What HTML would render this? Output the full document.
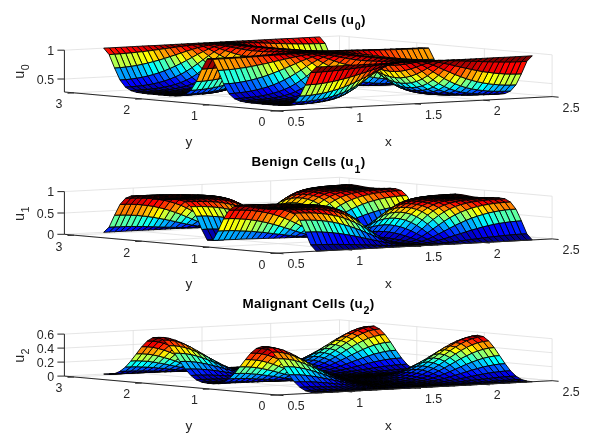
<!DOCTYPE html>
<html><head><meta charset="utf-8"><title>Cells</title>
<style>
html,body{margin:0;padding:0;background:#fff}
svg{display:block;font-family:"Liberation Sans",sans-serif}
path{stroke:#000;stroke-width:0.9px;stroke-linejoin:round}
.g{stroke:#dedede;stroke-width:.8px}
.a{stroke:#262626;stroke-width:1px}
.t{font-size:12.4px;fill:#262626}
.l{font-size:13.6px;fill:#262626}
.h{font-size:13.4px;font-weight:bold;fill:#000;letter-spacing:0.33px}
.c0{fill:#00008f}
.c1{fill:#00009f}
.c2{fill:#0000af}
.c3{fill:#0000bf}
.c4{fill:#0000cf}
.c5{fill:#0000df}
.c6{fill:#0000ef}
.c7{fill:#0000ff}
.c8{fill:#0010ff}
.c9{fill:#0020ff}
.c10{fill:#0030ff}
.c11{fill:#0040ff}
.c12{fill:#0050ff}
.c13{fill:#0060ff}
.c14{fill:#0070ff}
.c15{fill:#0080ff}
.c16{fill:#008fff}
.c17{fill:#009fff}
.c18{fill:#00afff}
.c19{fill:#00bfff}
.c20{fill:#00cfff}
.c21{fill:#00dfff}
.c22{fill:#00efff}
.c23{fill:#00ffff}
.c24{fill:#10ffef}
.c25{fill:#20ffdf}
.c26{fill:#30ffcf}
.c27{fill:#40ffbf}
.c28{fill:#50ffaf}
.c29{fill:#60ff9f}
.c30{fill:#70ff8f}
.c31{fill:#80ff80}
.c32{fill:#8fff70}
.c33{fill:#9fff60}
.c34{fill:#afff50}
.c35{fill:#bfff40}
.c36{fill:#cfff30}
.c37{fill:#dfff20}
.c38{fill:#efff10}
.c39{fill:#ffff00}
.c40{fill:#ffef00}
.c41{fill:#ffdf00}
.c42{fill:#ffcf00}
.c43{fill:#ffbf00}
.c44{fill:#ffaf00}
.c45{fill:#ff9f00}
.c46{fill:#ff8f00}
.c47{fill:#ff8000}
.c48{fill:#ff7000}
.c49{fill:#ff6000}
.c50{fill:#ff5000}
.c51{fill:#ff4000}
.c52{fill:#ff3000}
.c53{fill:#ff2000}
.c54{fill:#ff1000}
.c55{fill:#ff0000}
.c56{fill:#ef0000}
.c57{fill:#df0000}
.c58{fill:#cf0000}
.c59{fill:#bf0000}
.c60{fill:#af0000}
.c61{fill:#9f0000}
.c62{fill:#8f0000}
.c63{fill:#800000}
</style></head><body>
<svg width="611" height="444" viewBox="0 0 611 444">
<defs><filter id="b" x="-2%" y="-10%" width="104%" height="120%"><feGaussianBlur stdDeviation="0.35"/></filter><filter id="t" x="-5%" y="-5%" width="110%" height="110%"><feGaussianBlur stdDeviation="0.28"/></filter></defs>
<rect width="611" height="444" fill="#fff"/>
<g>
<line class="g" x1="64.4" y1="79.0" x2="339.5" y2="64.7"/>
<line class="g" x1="339.5" y1="64.7" x2="552.1" y2="83.6"/>
<line class="g" x1="64.4" y1="50.2" x2="339.5" y2="35.9"/>
<line class="g" x1="339.5" y1="35.9" x2="552.1" y2="54.8"/>
<line class="g" x1="277.0" y1="110.9" x2="64.4" y2="92.0"/>
<line class="g" x1="64.4" y1="92.0" x2="64.4" y2="50.2"/>
<line class="g" x1="345.8" y1="107.3" x2="133.2" y2="88.4"/>
<line class="g" x1="133.2" y1="88.4" x2="133.2" y2="46.6"/>
<line class="g" x1="414.6" y1="103.8" x2="202.0" y2="84.9"/>
<line class="g" x1="202.0" y1="84.9" x2="202.0" y2="43.0"/>
<line class="g" x1="483.3" y1="100.2" x2="270.7" y2="81.3"/>
<line class="g" x1="270.7" y1="81.3" x2="270.7" y2="39.5"/>
<line class="g" x1="552.1" y1="96.6" x2="339.5" y2="77.7"/>
<line class="g" x1="339.5" y1="77.7" x2="339.5" y2="35.9"/>
<line class="g" x1="277.0" y1="110.9" x2="552.1" y2="96.6"/>
<line class="g" x1="552.1" y1="96.6" x2="552.1" y2="54.8"/>
<line class="g" x1="209.3" y1="104.9" x2="484.4" y2="90.6"/>
<line class="g" x1="484.4" y1="90.6" x2="484.4" y2="48.8"/>
<line class="g" x1="141.7" y1="98.9" x2="416.8" y2="84.6"/>
<line class="g" x1="416.8" y1="84.6" x2="416.8" y2="42.8"/>
<line class="g" x1="74.0" y1="92.9" x2="349.1" y2="78.6"/>
<line class="g" x1="349.1" y1="78.6" x2="349.1" y2="36.7"/>
</g>
<g filter="url(#b)">
<path class="c54" d="M319.6 43.6l5.6-.2-5.5-6.5-5.5 .3z"/>
<path class="c55" d="M314.1 43.8l5.5-.2-5.4-6.4-5.6 .3z"/>
<path class="c55" d="M308.6 43.9l5.5-.1-5.5-6.3-5.5 .3z"/>
<path class="c55" d="M303 44l5.6-.1-5.5-6.1-5.5 .3z"/>
<path class="c56" d="M297.5 44l5.5 0-5.4-5.9-5.6 .3z"/>
<path class="c56" d="M291.9 43.9l5.6 .1-5.5-5.6-5.5 .2z"/>
<path class="c57" d="M286.4 43.8l5.5 .1-5.4-5.3-5.6 .3z"/>
<path class="c57" d="M280.9 43.6l5.5 .2-5.5-4.9-5.5 .3z"/>
<path class="c58" d="M275.3 43.5l5.6 .1-5.5-4.4-5.5 .3z"/>
<path class="c59" d="M269.8 43.3l5.5 .2-5.4-4-5.6 .3z"/>
<path class="c60" d="M264.2 43.1l5.6 .2-5.5-3.5-5.5 .3z"/>
<path class="c60" d="M258.7 42.9l5.5 .2-5.4-3-5.6 .3z"/>
<path class="c61" d="M253.2 42.7l5.5 .2-5.5-2.5-5.5 .3z"/>
<path class="c62" d="M247.6 42.6l5.6 .1-5.5-2-5.5 .2z"/>
<path class="c62" d="M242.1 42.5l5.5 .1-5.4-1.7-5.6 .3z"/>
<path class="c63" d="M236.5 42.5l5.6 0-5.5-1.3-5.5 .3z"/>
<path class="c63" d="M231 42.5l5.5 0-5.4-1-5.6 .3z"/>
<path class="c63" d="M225.5 42.7l5.5-.2-5.5-.7-5.5 .3z"/>
<path class="c63" d="M219.9 42.9l5.6-.2-5.5-.6-5.5 .3z"/>
<path class="c63" d="M214.4 43.2l5.5-.3-5.4-.5-5.6 .3z"/>
<path class="c63" d="M208.8 43.5l5.6-.3-5.5-.5-5.5 .3z"/>
<path class="c63" d="M203.3 44l5.5-.5-5.4-.5-5.6 .2z"/>
<path class="c63" d="M197.8 44.5l5.5-.5-5.5-.8-5.5 .3z"/>
<path class="c62" d="M192.2 45.1l5.6-.6-5.5-1-5.5 .3z"/>
<path class="c62" d="M186.7 45.8l5.5-.7-5.4-1.3-5.6 .3z"/>
<path class="c61" d="M181.1 46.5l5.6-.7-5.5-1.7-5.5 .3z"/>
<path class="c60" d="M175.6 47.2l5.5-.7-5.4-2.1-5.6 .3z"/>
<path class="c60" d="M170.1 48l5.5-.8-5.5-2.5-5.5 .3z"/>
<path class="c59" d="M164.5 48.7l5.6-.7-5.5-3-5.5 .3z"/>
<path class="c58" d="M159 49.5l5.5-.8-5.4-3.4-5.6 .3z"/>
<path class="c57" d="M153.4 50.3l5.6-.8-5.5-3.9-5.5 .2z"/>
<path class="c57" d="M147.9 51l5.5-.7-5.4-4.5-5.6 .3z"/>
<path class="c56" d="M142.4 51.7l5.5-.7-5.5-4.9-5.5 .3z"/>
<path class="c56" d="M136.8 52.3l5.6-.6-5.5-5.3-5.5 .3z"/>
<path class="c55" d="M131.3 52.9l5.5-.6-5.4-5.6-5.6 .3z"/>
<path class="c55" d="M125.7 53.4l5.6-.5-5.5-5.9-5.5 .3z"/>
<path class="c55" d="M120.2 53.9l5.5-.5-5.4-6.1-5.6 .3z"/>
<path class="c54" d="M114.7 54.3l5.5-.4-5.5-6.3-5.5 .3z"/>
<path class="c54" d="M109.1 54.6l5.6-.3-5.5-6.4-5.5 .2z"/>
<path class="c35" d="M325.1 57l5.5-.2-5.4-13.4-5.6 .2z"/>
<path class="c35" d="M319.5 57.1l5.6-.1-5.5-13.4-5.5 .2z"/>
<path class="c36" d="M314 56.9l5.5 .2-5.4-13.3-5.5 .1z"/>
<path class="c37" d="M308.5 56.6l5.5 .3-5.4-13-5.6 .1z"/>
<path class="c38" d="M302.9 56l5.6 .6-5.5-12.6-5.5 0z"/>
<path class="c39" d="M297.4 55.4l5.5 .6-5.4-12-5.6-.1z"/>
<path class="c41" d="M291.8 54.5l5.6 .9-5.5-11.5-5.5-.1z"/>
<path class="c43" d="M286.3 53.6l5.5 .9-5.4-10.7-5.5-.2z"/>
<path class="c45" d="M280.8 52.5l5.5 1.1-5.4-10-5.6-.1z"/>
<path class="c47" d="M275.2 51.3l5.6 1.2-5.5-9-5.5-.2z"/>
<path class="c50" d="M269.7 50l5.5 1.3-5.4-8-5.6-.2z"/>
<path class="c52" d="M264.1 48.7l5.6 1.3-5.5-6.9-5.5-.2z"/>
<path class="c55" d="M258.6 47.5l5.5 1.2-5.4-5.8-5.5-.2z"/>
<path class="c57" d="M253.1 46.3l5.5 1.2-5.4-4.8-5.6-.1z"/>
<path class="c59" d="M247.5 45.3l5.6 1-5.5-3.7-5.5-.1z"/>
<path class="c61" d="M242 44.4l5.5 .9-5.4-2.8-5.6 0z"/>
<path class="c62" d="M236.4 43.8l5.6 .6-5.5-1.9-5.5 0z"/>
<path class="c63" d="M230.9 43.4l5.5 .4-5.4-1.3-5.5 .2z"/>
<path class="c63" d="M225.4 43.4l5.5 0-5.4-.7-5.6 .2z"/>
<path class="c63" d="M219.8 43.7l5.6-.3-5.5-.5-5.5 .3z"/>
<path class="c63" d="M214.3 44.3l5.5-.6-5.4-.5-5.6 .3z"/>
<path class="c62" d="M208.7 45.2l5.6-.9-5.5-.8-5.5 .5z"/>
<path class="c61" d="M203.2 46.4l5.5-1.2-5.4-1.2-5.5 .5z"/>
<path class="c59" d="M197.7 47.8l5.5-1.4-5.4-1.9-5.6 .6z"/>
<path class="c57" d="M192.1 49.5l5.6-1.7-5.5-2.7-5.5 .7z"/>
<path class="c55" d="M186.6 51.2l5.5-1.7-5.4-3.7-5.6 .7z"/>
<path class="c52" d="M181 53.1l5.6-1.9-5.5-4.7-5.5 .7z"/>
<path class="c50" d="M175.5 54.9l5.5-1.8-5.4-5.9-5.5 .8z"/>
<path class="c47" d="M170 56.7l5.5-1.8-5.4-6.9-5.6 .7z"/>
<path class="c45" d="M164.4 58.5l5.6-1.8-5.5-8-5.5 .8z"/>
<path class="c43" d="M158.9 60.2l5.5-1.7-5.4-9-5.6 .8z"/>
<path class="c41" d="M153.3 61.7l5.6-1.5-5.5-9.9-5.5 .7z"/>
<path class="c39" d="M147.8 63.1l5.5-1.4-5.4-10.7-5.5 .7z"/>
<path class="c38" d="M142.3 64.4l5.5-1.3-5.4-11.4-5.6 .6z"/>
<path class="c37" d="M136.7 65.5l5.6-1.1-5.5-12.1-5.5 .6z"/>
<path class="c36" d="M131.2 66.4l5.5-.9-5.4-12.6-5.6 .5z"/>
<path class="c35" d="M125.6 67.1l5.6-.7-5.5-13-5.5 .5z"/>
<path class="c35" d="M120.1 67.7l5.5-.6-5.4-13.2-5.5 .4z"/>
<path class="c34" d="M114.6 68.1l5.5-.4-5.4-13.4-5.6 .3z"/>
<path class="c54" d="M253 49l5.5 2.3-5.4-5-5.6-1z"/>
<path class="c57" d="M247.4 47l5.6 2-5.5-3.7-5.5-.9z"/>
<path class="c60" d="M241.9 45.4l5.5 1.6-5.4-2.6-5.6-.6z"/>
<path class="c62" d="M236.4 44.3l5.5 1.1-5.5-1.6-5.5-.4z"/>
<path class="c63" d="M230.8 43.9l5.6 .4-5.5-.9-5.5 0z"/>
<path class="c63" d="M225.3 44.2l5.5-.3-5.4-.5-5.6 .3z"/>
<path class="c62" d="M219.7 45.2l5.6-1-5.5-.5-5.5 .6z"/>
<path class="c60" d="M214.2 46.8l5.5-1.6-5.4-.9-5.6 .9z"/>
<path class="c57" d="M208.7 49l5.5-2.2-5.5-1.6-5.5 1.2z"/>
<path class="c54" d="M203.1 51.6l5.6-2.6-5.5-2.6-5.5 1.4z"/>
<path class="c50" d="M197.6 54.4l5.5-2.8-5.4-3.8-5.6 1.7z"/>
<path class="c46" d="M192 57.5l5.6-3.1-5.5-4.9-5.5 1.7z"/>
<path class="c42" d="M186.5 60.5l5.5-3-5.4-6.3-5.6 1.9z"/>
<path class="c38" d="M181 63.4l5.5-2.9-5.5-7.4-5.5 1.8z"/>
<path class="c34" d="M175.4 66.1l5.6-2.7-5.5-8.5-5.5 1.8z"/>
<path class="c30" d="M169.9 68.6l5.5-2.5-5.4-9.4-5.6 1.8z"/>
<path class="c27" d="M164.3 70.9l5.6-2.3-5.5-10.1-5.5 1.7z"/>
<path class="c25" d="M158.8 72.9l5.5-2-5.4-10.7-5.6 1.5z"/>
<path class="c23" d="M153.3 74.6l5.5-1.7-5.5-11.2-5.5 1.4z"/>
<path class="c21" d="M147.7 76.1l5.6-1.5-5.5-11.5-5.5 1.3z"/>
<path class="c19" d="M142.2 77.3l5.5-1.2-5.4-11.7-5.6 1.1z"/>
<path class="c18" d="M136.6 78.3l5.6-1-5.5-11.8-5.5 .9z"/>
<path class="c17" d="M131.1 79.1l5.5-.8-5.4-11.9-5.6 .7z"/>
<path class="c17" d="M125.6 79.7l5.5-.6-5.5-12-5.5 .6z"/>
<path class="c17" d="M120 80l5.6-.3-5.5-12-5.5 .4z"/>
<path class="c62" d="M241.8 45.3l5.6 1.9-5.5-1.8-5.5-1.1z"/>
<path class="c63" d="M236.3 44.5l5.5 .8-5.4-1-5.6-.4z"/>
<path class="c63" d="M230.7 44.8l5.6-.3-5.5-.6-5.5 .3z"/>
<path class="c62" d="M225.2 46.2l5.5-1.4-5.4-.6-5.6 1z"/>
<path class="c58" d="M219.7 48.7l5.5-2.5-5.5-1-5.5 1.6z"/>
<path class="c54" d="M214.1 51.9l5.6-3.2-5.5-1.9-5.5 2.2z"/>
<path class="c48" d="M208.6 55.8l5.5-3.9-5.4-2.9-5.6 2.6z"/>
<path class="c42" d="M203 59.8l5.6-4-5.5-4.2-5.5 2.8z"/>
<path class="c37" d="M197.5 63.9l5.5-4.1-5.4-5.4-5.6 3.1z"/>
<path class="c31" d="M192 67.7l5.5-3.8-5.5-6.4-5.5 3z"/>
<path class="c26" d="M186.4 71.2l5.6-3.5-5.5-7.2-5.5 2.9z"/>
<path class="c22" d="M180.9 74.3l5.5-3.1-5.4-7.8-5.6 2.7z"/>
<path class="c18" d="M175.3 76.9l5.6-2.6-5.5-8.2-5.5 2.5z"/>
<path class="c15" d="M169.8 79.2l5.5-2.3-5.4-8.3-5.6 2.3z"/>
<path class="c13" d="M164.2 81.1l5.6-1.9-5.5-8.3-5.5 2z"/>
<path class="c11" d="M158.7 82.6l5.5-1.5-5.4-8.2-5.5 1.7z"/>
<path class="c10" d="M153.2 83.9l5.5-1.3-5.4-8-5.6 1.5z"/>
<path class="c8" d="M147.6 84.9l5.6-1-5.5-7.8-5.5 1.2z"/>
<path class="c8" d="M142.1 85.7l5.5-.8-5.4-7.6-5.6 1z"/>
<path class="c7" d="M136.5 86.3l5.6-.6-5.5-7.4-5.5 .8z"/>
<path class="c7" d="M131 86.8l5.5-.5-5.4-7.2-5.5 .6z"/>
<path class="c7" d="M125.5 87.2l5.5-.4-5.4-7.1-5.6 .3z"/>
<path class="c63" d="M241.7 45l5.6 1.4-5.5-1.1-5.5-.8z"/>
<path class="c63" d="M236.2 45.3l5.5-.3-5.4-.5-5.6 .3z"/>
<path class="c61" d="M230.6 47.2l5.6-1.9-5.5-.5-5.5 1.4z"/>
<path class="c56" d="M225.1 50.6l5.5-3.4-5.4-1-5.5 2.5z"/>
<path class="c50" d="M219.6 55l5.5-4.4-5.4-1.9-5.6 3.2z"/>
<path class="c43" d="M214 59.9l5.6-4.9-5.5-3.1-5.5 3.9z"/>
<path class="c35" d="M208.5 64.8l5.5-4.9-5.4-4.1-5.6 4z"/>
<path class="c29" d="M202.9 69.5l5.6-4.7-5.5-5-5.5 4.1z"/>
<path class="c23" d="M197.4 73.7l5.5-4.2-5.4-5.6-5.5 3.8z"/>
<path class="c18" d="M191.9 77.3l5.5-3.6-5.4-6-5.6 3.5z"/>
<path class="c14" d="M186.3 80.2l5.6-2.9-5.5-6.1-5.5 3.1z"/>
<path class="c11" d="M180.8 82.6l5.5-2.4-5.4-5.9-5.6 2.6z"/>
<path class="c8" d="M175.2 84.5l5.6-1.9-5.5-5.7-5.5 2.3z"/>
<path class="c6" d="M169.7 86l5.5-1.5-5.4-5.3-5.6 1.9z"/>
<path class="c5" d="M164.2 87.1l5.5-1.1-5.5-4.9-5.5 1.5z"/>
<path class="c4" d="M158.6 88.1l5.6-1-5.5-4.5-5.5 1.3z"/>
<path class="c3" d="M153.1 88.8l5.5-.7-5.4-4.2-5.6 1z"/>
<path class="c3" d="M147.5 89.4l5.6-.6-5.5-3.9-5.5 .8z"/>
<path class="c2" d="M142 89.9l5.5-.5-5.4-3.7-5.6 .6z"/>
<path class="c2" d="M136.5 90.3l5.5-.4-5.5-3.6-5.5 .5z"/>
<path class="c2" d="M130.9 90.6l5.6-.3-5.5-3.5-5.5 .4z"/>
<path class="c63" d="M247.2 45.6l5.5 1.8-5.4-1-5.6-1.4z"/>
<path class="c63" d="M241.6 45.9l5.6-.3-5.5-.6-5.5 .3z"/>
<path class="c60" d="M236.1 48.3l5.5-2.4-5.4-.6-5.6 1.9z"/>
<path class="c54" d="M230.6 52.4l5.5-4.1-5.5-1.1-5.5 3.4z"/>
<path class="c46" d="M225 57.8l5.6-5.4-5.5-1.8-5.5 4.4z"/>
<path class="c38" d="M219.5 63.5l5.5-5.7-5.4-2.8-5.6 4.9z"/>
<path class="c17" d="M202.9 78.2l5.5-4.2-5.5-4.5-5.5 4.2z"/>
<path class="c12" d="M197.3 81.6l5.6-3.4-5.5-4.5-5.5 3.6z"/>
<path class="c8" d="M191.8 84.1l5.5-2.5-5.4-4.3-5.6 2.9z"/>
<path class="c6" d="M186.2 86.1l5.6-2-5.5-3.9-5.5 2.4z"/>
<path class="c4" d="M180.7 87.5l5.5-1.4-5.4-3.5-5.6 1.9z"/>
<path class="c3" d="M175.2 88.7l5.5-1.2-5.5-3-5.5 1.5z"/>
<path class="c2" d="M169.6 89.5l5.6-.8-5.5-2.7-5.5 1.1z"/>
<path class="c1" d="M164.1 90.2l5.5-.7-5.4-2.4-5.6 1z"/>
<path class="c1" d="M158.5 90.7l5.6-.5-5.5-2.1-5.5 .7z"/>
<path class="c1" d="M153 91.2l5.5-.5-5.4-1.9-5.6 .6z"/>
<path class="c1" d="M147.5 91.6l5.5-.4-5.5-1.8-5.5 .5z"/>
<path class="c0" d="M141.9 91.9l5.6-.3-5.5-1.7-5.5 .4z"/>
<path class="c0" d="M136.4 92.3l5.5-.4-5.4-1.6-5.6 .3z"/>
<path class="c63" d="M252.6 46.1l5.6 2.3-5.5-1-5.5-1.8z"/>
<path class="c63" d="M247.1 46.4l5.5-.3-5.4-.5-5.6 .3z"/>
<path class="c59" d="M241.5 49.2l5.6-2.8-5.5-.5-5.5 2.4z"/>
<path class="c52" d="M236 54.1l5.5-4.9-5.4-.9-5.5 4.1z"/>
<path class="c43" d="M230.5 60.2l5.5-6.1-5.4-1.7-5.6 5.4z"/>
<path class="c34" d="M224.9 66.5l5.6-6.3-5.5-2.4-5.5 5.7z"/>
<path class="c5" d="M197.2 86.6l5.6-2.2-5.5-2.8-5.5 2.5z"/>
<path class="c3" d="M191.7 88.2l5.5-1.6-5.4-2.5-5.6 2z"/>
<path class="c2" d="M186.1 89.3l5.6-1.1-5.5-2.1-5.5 1.4z"/>
<path class="c1" d="M180.6 90.2l5.5-.9-5.4-1.8-5.5 1.2z"/>
<path class="c1" d="M175.1 90.8l5.5-.6-5.4-1.5-5.6 .8z"/>
<path class="c0" d="M169.5 91.4l5.6-.6-5.5-1.3-5.5 .7z"/>
<path class="c0" d="M164 91.8l5.5-.4-5.4-1.2-5.6 .5z"/>
<path class="c0" d="M158.4 92.2l5.6-.4-5.5-1.1-5.5 .5z"/>
<path class="c0" d="M152.9 92.5l5.5-.3-5.4-1-5.5 .4z"/>
<path class="c0" d="M147.4 92.8l5.5-.3-5.4-.9-5.6 .3z"/>
<path class="c0" d="M141.8 93.1l5.6-.3-5.5-.9-5.5 .4z"/>
<path class="c63" d="M258.1 46.6l5.5 2.6-5.4-.8-5.6-2.3z"/>
<path class="c63" d="M252.5 46.9l5.6-.3-5.5-.5-5.5 .3z"/>
<path class="c59" d="M247 50.1l5.5-3.2-5.4-.5-5.6 2.8z"/>
<path class="c51" d="M241.5 55.5l5.5-5.4-5.5-.9-5.5 4.9z"/>
<path class="c41" d="M235.9 62l5.6-6.5-5.5-1.4-5.5 6.1z"/>
<path class="c2" d="M197.1 89.5l5.6-1.4-5.5-1.5-5.5 1.6z"/>
<path class="c1" d="M191.6 90.4l5.5-.9-5.4-1.3-5.6 1.1z"/>
<path class="c1" d="M186.1 91.1l5.5-.7-5.5-1.1-5.5 .9z"/>
<path class="c0" d="M180.5 91.7l5.6-.6-5.5-.9-5.5 .6z"/>
<path class="c0" d="M175 92.1l5.5-.4-5.4-.9-5.6 .6z"/>
<path class="c0" d="M169.4 92.5l5.6-.4-5.5-.7-5.5 .4z"/>
<path class="c0" d="M163.9 92.8l5.5-.3-5.4-.7-5.6 .4z"/>
<path class="c0" d="M158.4 93.2l5.5-.4-5.5-.6-5.5 .3z"/>
<path class="c0" d="M152.8 93.5l5.6-.3-5.5-.7-5.5 .3z"/>
<path class="c0" d="M147.3 93.8l5.5-.3-5.4-.7-5.6 .3z"/>
<path class="c63" d="M263.5 47.1l5.6 2.8-5.5-.7-5.5-2.6z"/>
<path class="c63" d="M258 47.4l5.5-.3-5.4-.5-5.6 .3z"/>
<path class="c58" d="M252.4 50.8l5.6-3.4-5.5-.5-5.5 3.2z"/>
<path class="c50" d="M246.9 56.4l5.5-5.6-5.4-.7-5.5 5.4z"/>
<path class="c40" d="M241.4 63.3l5.5-6.9-5.4-.9-5.6 6.5z"/>
<path class="c0" d="M191.5 91.8l5.5-.6-5.4-.8-5.5 .7z"/>
<path class="c0" d="M186 92.3l5.5-.5-5.4-.7-5.6 .6z"/>
<path class="c0" d="M180.4 92.7l5.6-.4-5.5-.6-5.5 .4z"/>
<path class="c0" d="M174.9 93.1l5.5-.4-5.4-.6-5.6 .4z"/>
<path class="c0" d="M169.3 93.4l5.6-.3-5.5-.6-5.5 .3z"/>
<path class="c0" d="M163.8 93.7l5.5-.3-5.4-.6-5.5 .4z"/>
<path class="c0" d="M158.3 94l5.5-.3-5.4-.5-5.6 .3z"/>
<path class="c0" d="M152.7 94.3l5.6-.3-5.5-.5-5.5 .3z"/>
<path class="c63" d="M269 47.6l5.5 2.8-5.4-.5-5.6-2.8z"/>
<path class="c63" d="M263.4 47.9l5.6-.3-5.5-.5-5.5 .3z"/>
<path class="c58" d="M257.9 51.3l5.5-3.4-5.4-.5-5.6 3.4z"/>
<path class="c50" d="M252.4 57l5.5-5.7-5.5-.5-5.5 5.6z"/>
<path class="c0" d="M191.4 92.8l5.6-.5-5.5-.5-5.5 .5z"/>
<path class="c0" d="M185.9 93.2l5.5-.4-5.4-.5-5.6 .4z"/>
<path class="c0" d="M180.3 93.6l5.6-.4-5.5-.5-5.5 .4z"/>
<path class="c0" d="M174.8 93.9l5.5-.3-5.4-.5-5.6 .3z"/>
<path class="c0" d="M169.3 94.2l5.5-.3-5.5-.5-5.5 .3z"/>
<path class="c0" d="M163.7 94.5l5.6-.3-5.5-.5-5.5 .3z"/>
<path class="c0" d="M158.2 94.8l5.5-.3-5.4-.5-5.6 .3z"/>
<path class="c63" d="M274.4 48.1l5.6 2.7-5.5-.4-5.5-2.8z"/>
<path class="c63" d="M268.9 48.4l5.5-.3-5.4-.5-5.6 .3z"/>
<path class="c58" d="M263.3 51.7l5.6-3.3-5.5-.5-5.5 3.4z"/>
<path class="c50" d="M257.8 57.2l5.5-5.5-5.4-.4-5.5 5.7z"/>
<path class="c0" d="M191.3 93.6l5.6-.4-5.5-.4-5.5 .4z"/>
<path class="c0" d="M185.8 94l5.5-.4-5.4-.4-5.6 .4z"/>
<path class="c0" d="M180.2 94.3l5.6-.3-5.5-.4-5.5 .3z"/>
<path class="c0" d="M174.7 94.7l5.5-.4-5.4-.4-5.5 .3z"/>
<path class="c0" d="M169.2 95l5.5-.3-5.4-.5-5.6 .3z"/>
<path class="c0" d="M163.6 95.3l5.6-.3-5.5-.5-5.5 .3z"/>
<path class="c63" d="M279.9 48.6l5.5 2.4-5.4-.2-5.6-2.7z"/>
<path class="c63" d="M274.3 48.8l5.6-.2-5.5-.5-5.5 .3z"/>
<path class="c59" d="M268.8 51.8l5.5-3-5.4-.4-5.6 3.3z"/>
<path class="c51" d="M263.3 57l5.5-5.2-5.5-.1-5.5 5.5z"/>
<path class="c0" d="M185.7 94.7l5.5-.3-5.4-.4-5.6 .3z"/>
<path class="c0" d="M180.2 95l5.5-.3-5.5-.4-5.5 .4z"/>
<path class="c0" d="M174.6 95.4l5.6-.4-5.5-.3-5.5 .3z"/>
<path class="c0" d="M169.1 95.7l5.5-.3-5.4-.4-5.6 .3z"/>
<path class="c63" d="M285.3 49l5.6 2-5.5 0-5.5-2.4z"/>
<path class="c63" d="M279.8 49.3l5.5-.3-5.4-.4-5.6 .2z"/>
<path class="c59" d="M274.3 51.9l5.5-2.6-5.5-.5-5.5 3z"/>
<path class="c53" d="M268.7 56.5l5.6-4.6-5.5-.1-5.5 5.2z"/>
<path class="c0" d="M185.6 95.3l5.5-.4-5.4-.2-5.5 .3z"/>
<path class="c0" d="M180.1 95.6l5.5-.3-5.4-.3-5.6 .4z"/>
<path class="c0" d="M174.5 95.9l5.6-.3-5.5-.2-5.5 .3z"/>
<path class="c1" d="M390.5 84.7l5.5-.2-5.4 .2-5.5 .2z"/>
<path class="c1" d="M385 84.9l5.5-.2-5.4 .2-5.6 .3z"/>
<path class="c1" d="M379.4 85.1l5.6-.2-5.5 .3-5.5 .2z"/>
<path class="c2" d="M373.9 85.1l5.5 0-5.4 .3-5.6 .2z"/>
<path class="c2" d="M368.3 85.1l5.6 0-5.5 .5-5.5 0z"/>
<path class="c3" d="M362.8 84.9l5.5 .2-5.4 .5-5.5 0z"/>
<path class="c4" d="M357.3 84.4l5.5 .5-5.4 .7-5.6-.1z"/>
<path class="c63" d="M290.8 49.4l5.5 1.6-5.4 0-5.6-2z"/>
<path class="c63" d="M285.2 49.7l5.6-.3-5.5-.4-5.5 .3z"/>
<path class="c60" d="M279.7 51.9l5.5-2.2-5.4-.4-5.5 2.6z"/>
<path class="c55" d="M274.2 55.7l5.5-3.8-5.4 0-5.6 4.6z"/>
<path class="c8" d="M229.8 88.7l5.6-2.2-5.5 2.1-5.5 1.8z"/>
<path class="c6" d="M224.3 90.3l5.5-1.6-5.4 1.7-5.6 1.3z"/>
<path class="c4" d="M218.8 91.6l5.5-1.3-5.5 1.4-5.5 1z"/>
<path class="c3" d="M213.2 92.6l5.6-1-5.5 1.1-5.5 .7z"/>
<path class="c2" d="M207.7 93.4l5.5-.8-5.4 .8-5.6 .6z"/>
<path class="c1" d="M180 95.7l5.5-.3-5.4 .2-5.6 .3z"/>
<path class="c4" d="M396 83.3l5.5-.2-5.5 1.4-5.5 .2z"/>
<path class="c4" d="M390.4 83.5l5.6-.2-5.5 1.4-5.5 .2z"/>
<path class="c5" d="M384.9 83.5l5.5 0-5.4 1.4-5.6 .2z"/>
<path class="c5" d="M379.3 83.3l5.6 .2-5.5 1.6-5.5 0z"/>
<path class="c6" d="M373.8 83l5.5 .3-5.4 1.8-5.6 0z"/>
<path class="c7" d="M368.3 82.5l5.5 .5-5.5 2.1-5.5-.2z"/>
<path class="c9" d="M362.7 81.8l5.6 .7-5.5 2.4-5.5-.5z"/>
<path class="c63" d="M296.2 49.8l5.6 1.1-5.5 .1-5.5-1.6z"/>
<path class="c63" d="M290.7 50.1l5.5-.3-5.4-.4-5.6 .3z"/>
<path class="c61" d="M285.2 51.8l5.5-1.7-5.5-.4-5.5 2.2z"/>
<path class="c57" d="M279.6 54.7l5.6-2.9-5.5 .1-5.5 3.8z"/>
<path class="c11" d="M229.8 87.3l5.5-2.1-5.5 3.5-5.5 1.6z"/>
<path class="c9" d="M224.2 89l5.6-1.7-5.5 3-5.5 1.3z"/>
<path class="c7" d="M218.7 90.3l5.5-1.3-5.4 2.6-5.6 1z"/>
<path class="c6" d="M213.1 91.4l5.6-1.1-5.5 2.3-5.5 .8z"/>
<path class="c5" d="M207.6 92.3l5.5-.9-5.4 2-5.6 .7z"/>
<path class="c5" d="M202.1 93l5.5-.7-5.5 1.8-5.5 .5z"/>
<path class="c4" d="M196.5 93.5l5.6-.5-5.5 1.6-5.5 .4z"/>
<path class="c4" d="M191 94l5.5-.5-5.4 1.5-5.6 .4z"/>
<path class="c4" d="M185.4 94.3l5.6-.3-5.5 1.4-5.5 .3z"/>
<path class="c11" d="M395.9 79.3l5.5-.1-5.4 4.1-5.6 .2z"/>
<path class="c12" d="M390.3 79.1l5.6 .2-5.5 4.2-5.5 0z"/>
<path class="c13" d="M384.8 78.8l5.5 .3-5.4 4.4-5.6-.2z"/>
<path class="c14" d="M379.2 78.2l5.6 .6-5.5 4.5-5.5-.3z"/>
<path class="c16" d="M373.7 77.4l5.5 .8-5.4 4.8-5.5-.5z"/>
<path class="c18" d="M368.2 76.3l5.5 1.1-5.4 5.1-5.6-.7z"/>
<path class="c63" d="M301.7 50.3l5.5 .6-5.4 0-5.6-1.1z"/>
<path class="c63" d="M296.1 50.5l5.6-.2-5.5-.5-5.5 .3z"/>
<path class="c62" d="M290.6 51.7l5.5-1.2-5.4-.4-5.5 1.7z"/>
<path class="c59" d="M285.1 53.8l5.5-2.1-5.4 .1-5.6 2.9z"/>
<path class="c18" d="M229.7 83.5l5.5-2-5.4 5.8-5.6 1.7z"/>
<path class="c16" d="M224.1 85.2l5.6-1.7-5.5 5.5-5.5 1.3z"/>
<path class="c14" d="M218.6 86.5l5.5-1.3-5.4 5.1-5.6 1.1z"/>
<path class="c13" d="M213 87.7l5.6-1.2-5.5 4.9-5.5 .9z"/>
<path class="c12" d="M207.5 88.6l5.5-.9-5.4 4.6-5.5 .7z"/>
<path class="c11" d="M202 89.3l5.5-.7-5.4 4.4-5.6 .5z"/>
<path class="c11" d="M196.4 89.9l5.6-.6-5.5 4.2-5.5 .5z"/>
<path class="c11" d="M190.9 90.3l5.5-.4-5.4 4.1-5.6 .3z"/>
<path class="c27" d="M390.2 69.9l5.6 .5-5.5 8.7-5.5-.3z"/>
<path class="c29" d="M384.7 69.3l5.5 .6-5.4 8.9-5.6-.6z"/>
<path class="c30" d="M379.2 68.4l5.5 .9-5.5 8.9-5.5-.8z"/>
<path class="c33" d="M373.6 67.4l5.6 1-5.5 9-5.5-1.1z"/>
<path class="c63" d="M307.1 50.7l5.6 .2-5.5 0-5.5-.6z"/>
<path class="c63" d="M301.6 51l5.5-.3-5.4-.4-5.6 .2z"/>
<path class="c63" d="M296.1 51.8l5.5-.8-5.5-.5-5.5 1.2z"/>
<path class="c61" d="M290.5 53l5.6-1.2-5.5-.1-5.5 2.1z"/>
<path class="c59" d="M285 54.7l5.5-1.7-5.4 .8-5.6 2.7z"/>
<path class="c29" d="M224 77.6l5.6-1.4-5.5 9-5.5 1.3z"/>
<path class="c27" d="M218.5 78.9l5.5-1.3-5.4 8.9-5.6 1.2z"/>
<path class="c26" d="M213 79.9l5.5-1-5.5 8.8-5.5 .9z"/>
<path class="c25" d="M207.4 80.6l5.6-.7-5.5 8.7-5.5 .7z"/>
<path class="c25" d="M201.9 81.2l5.5-.6-5.4 8.7-5.6 .6z"/>
<path class="c25" d="M196.3 81.6l5.6-.4-5.5 8.7-5.5 .4z"/>
<path class="c63" d="M318.1 51l5.6 .1-5.5 .5-5.5-.7z"/>
<path class="c63" d="M312.6 51.1l5.5-.1-5.4-.1-5.6-.2z"/>
<path class="c63" d="M307 51.4l5.6-.3-5.5-.4-5.5 .3z"/>
<path class="c63" d="M301.5 51.9l5.5-.5-5.4-.4-5.5 .8z"/>
<path class="c63" d="M296 52.5l5.5-.6-5.4-.1-5.6 1.2z"/>
<path class="c62" d="M290.4 53.4l5.6-.9-5.5 .5-5.5 1.7z"/>
<path class="c46" d="M223.9 66.9l5.6-.9-5.5 11.6-5.5 1.3z"/>
<path class="c46" d="M218.4 67.6l5.5-.7-5.4 12-5.5 1z"/>
<path class="c45" d="M212.9 68.2l5.5-.6-5.4 12.3-5.6 .7z"/>
<path class="c45" d="M207.3 68.7l5.6-.5-5.5 12.4-5.5 .6z"/>
<path class="c45" d="M201.8 69.1l5.5-.4-5.4 12.5-5.6 .4z"/>
<path class="c63" d="M351.3 50.3l5.5-.2-5.4 3.4-5.6-.7z"/>
<path class="c63" d="M345.7 50.4l5.6-.1-5.5 2.5-5.5-.6z"/>
<path class="c63" d="M340.2 50.6l5.5-.2-5.4 1.8-5.6-.5z"/>
<path class="c63" d="M334.7 50.9l5.5-.3-5.5 1.1-5.5-.4z"/>
<path class="c63" d="M329.1 51.1l5.6-.2-5.5 .4-5.5-.2z"/>
<path class="c63" d="M323.6 51.3l5.5-.2-5.4 0-5.6-.1z"/>
<path class="c63" d="M318 51.6l5.6-.3-5.5-.3-5.5 .1z"/>
<path class="c63" d="M312.5 51.9l5.5-.3-5.4-.5-5.6 .3z"/>
<path class="c63" d="M307 52.2l5.5-.3-5.5-.5-5.5 .5z"/>
<path class="c63" d="M301.4 52.5l5.6-.3-5.5-.3-5.5 .6z"/>
<path class="c63" d="M295.9 52.9l5.5-.4-5.4 0-5.6 .9z"/>
<path class="c63" d="M290.3 53.2l5.6-.3-5.5 .5-5.5 .9z"/>
<path class="c63" d="M284.8 53.6l5.5-.4-5.4 1.1-5.6 1.1z"/>
<path class="c63" d="M279.3 54l5.5-.4-5.5 1.8-5.5 1.2z"/>
<path class="c63" d="M273.7 54.4l5.6-.4-5.5 2.6-5.5 1.2z"/>
<path class="c63" d="M268.2 54.8l5.5-.4-5.4 3.4-5.6 1.3z"/>
<path class="c61" d="M218.3 58.3l5.6-.3-5.5 9.6-5.5 .6z"/>
<path class="c61" d="M212.8 58.6l5.5-.3-5.4 9.9-5.6 .5z"/>
<path class="c61" d="M207.2 58.9l5.6-.3-5.5 10.1-5.5 .4z"/>
<path class="c61" d="M423.2 48.5l5.5-.3-5.4-.5-5.5 .3z"/>
<path class="c61" d="M417.7 48.7l5.5-.2-5.4-.5-5.6 .3z"/>
<path class="c61" d="M412.1 49l5.6-.3-5.5-.4-5.5 .2z"/>
<path class="c61" d="M406.6 49.2l5.5-.2-5.4-.5-5.6 .2z"/>
<path class="c61" d="M401 49.4l5.6-.2-5.5-.5-5.5 .2z"/>
<path class="c62" d="M395.5 49.6l5.5-.2-5.4-.5-5.5 .2z"/>
<path class="c62" d="M390 49.8l5.5-.2-5.4-.5-5.6 .2z"/>
<path class="c62" d="M384.4 49.9l5.6-.1-5.5-.5-5.5 .2z"/>
<path class="c62" d="M378.9 50.1l5.5-.2-5.4-.4-5.6 .1z"/>
<path class="c62" d="M373.3 50.3l5.6-.2-5.5-.5-5.5 .2z"/>
<path class="c63" d="M367.8 50.4l5.5-.1-5.4-.5-5.5 .1z"/>
<path class="c63" d="M362.3 50.6l5.5-.2-5.4-.5-5.6 .2z"/>
<path class="c63" d="M356.7 50.8l5.6-.2-5.5-.5-5.5 .2z"/>
<path class="c63" d="M351.2 50.9l5.5-.1-5.4-.5-5.6 .1z"/>
<path class="c63" d="M345.6 51.1l5.6-.2-5.5-.5-5.5 .2z"/>
<path class="c63" d="M340.1 51.3l5.5-.2-5.4-.5-5.5 .3z"/>
<path class="c63" d="M334.6 51.6l5.5-.3-5.4-.4-5.6 .2z"/>
<path class="c63" d="M329 51.8l5.6-.2-5.5-.5-5.5 .2z"/>
<path class="c63" d="M323.5 52.1l5.5-.3-5.4-.5-5.6 .3z"/>
<path class="c63" d="M317.9 52.4l5.6-.3-5.5-.5-5.5 .3z"/>
<path class="c63" d="M312.4 52.7l5.5-.3-5.4-.5-5.5 .3z"/>
<path class="c63" d="M306.9 53l5.5-.3-5.4-.5-5.6 .3z"/>
<path class="c63" d="M301.3 53.4l5.6-.4-5.5-.5-5.5 .4z"/>
<path class="c63" d="M295.8 53.7l5.5-.3-5.4-.5-5.6 .3z"/>
<path class="c63" d="M290.2 54.1l5.6-.4-5.5-.5-5.5 .4z"/>
<path class="c63" d="M284.7 54.5l5.5-.4-5.4-.5-5.5 .4z"/>
<path class="c63" d="M279.2 54.9l5.5-.4-5.4-.5-5.6 .4z"/>
<path class="c63" d="M273.6 55.3l5.6-.4-5.5-.5-5.5 .4z"/>
<path class="c62" d="M268.1 55.7l5.5-.4-5.4-.5-5.6 .4z"/>
<path class="c62" d="M262.5 56.1l5.6-.4-5.5-.5-5.5 .5z"/>
<path class="c62" d="M257 56.6l5.5-.5-5.4-.4-5.5 .4z"/>
<path class="c62" d="M251.5 57l5.5-.4-5.4-.5-5.6 .4z"/>
<path class="c62" d="M245.9 57.4l5.6-.4-5.5-.5-5.5 .4z"/>
<path class="c61" d="M240.4 57.8l5.5-.4-5.4-.5-5.6 .4z"/>
<path class="c61" d="M234.8 58.1l5.6-.3-5.5-.5-5.5 .3z"/>
<path class="c61" d="M229.3 58.5l5.5-.4-5.4-.5-5.5 .4z"/>
<path class="c61" d="M223.8 58.8l5.5-.3-5.4-.5-5.6 .3z"/>
<path class="c61" d="M218.2 59.1l5.6-.3-5.5-.5-5.5 .3z"/>
<path class="c61" d="M212.7 59.4l5.5-.3-5.4-.5-5.6 .3z"/>
<path class="c45" d="M428.7 59.5l5.5-.2-5.5-11.1-5.5 .3z"/>
<path class="c45" d="M423.1 59.6l5.6-.1-5.5-11-5.5 .2z"/>
<path class="c46" d="M417.6 59.6l5.5 0-5.4-10.9-5.6 .3z"/>
<path class="c46" d="M412 59.4l5.6 .2-5.5-10.6-5.5 .2z"/>
<path class="c47" d="M406.5 59.1l5.5 .3-5.4-10.2-5.6 .2z"/>
<path class="c48" d="M401 58.7l5.5 .4-5.5-9.7-5.5 .2z"/>
<path class="c50" d="M395.4 58.2l5.6 .5-5.5-9.1-5.5 .2z"/>
<path class="c51" d="M389.9 57.7l5.5 .5-5.4-8.4-5.6 .1z"/>
<path class="c52" d="M384.3 57l5.6 .7-5.5-7.8-5.5 .2z"/>
<path class="c54" d="M378.8 56.3l5.5 .7-5.4-6.9-5.6 .2z"/>
<path class="c55" d="M373.3 55.6l5.5 .7-5.5-6-5.5 .1z"/>
<path class="c57" d="M367.7 54.9l5.6 .7-5.5-5.2-5.5 .2z"/>
<path class="c58" d="M362.2 54.3l5.5 .6-5.4-4.3-5.6 .2z"/>
<path class="c60" d="M356.6 53.7l5.6 .6-5.5-3.5-5.5 .1z"/>
<path class="c61" d="M351.1 53.2l5.5 .5-5.4-2.8-5.6 .2z"/>
<path class="c62" d="M345.6 52.8l5.5 .4-5.5-2.1-5.5 .2z"/>
<path class="c63" d="M340 52.6l5.6 .2-5.5-1.5-5.5 .3z"/>
<path class="c63" d="M334.5 52.5l5.5 .1-5.4-1-5.6 .2z"/>
<path class="c63" d="M328.9 52.6l5.6-.1-5.5-.7-5.5 .3z"/>
<path class="c63" d="M323.4 52.9l5.5-.3-5.4-.5-5.6 .3z"/>
<path class="c63" d="M317.9 53.3l5.5-.4-5.5-.5-5.5 .3z"/>
<path class="c63" d="M312.3 54l5.6-.7-5.5-.6-5.5 .3z"/>
<path class="c62" d="M306.8 54.8l5.5-.8-5.4-1-5.6 .4z"/>
<path class="c61" d="M301.2 55.8l5.6-1-5.5-1.4-5.5 .3z"/>
<path class="c60" d="M295.7 56.9l5.5-1.1-5.4-2.1-5.6 .4z"/>
<path class="c58" d="M290.2 58l5.5-1.1-5.5-2.8-5.5 .4z"/>
<path class="c57" d="M284.6 59.3l5.6-1.3-5.5-3.5-5.5 .4z"/>
<path class="c55" d="M279.1 60.5l5.5-1.2-5.4-4.4-5.6 .4z"/>
<path class="c54" d="M273.5 61.8l5.6-1.3-5.5-5.2-5.5 .4z"/>
<path class="c52" d="M268 63.1l5.5-1.3-5.4-6.1-5.6 .4z"/>
<path class="c51" d="M262.5 64.3l5.5-1.2-5.5-7-5.5 .5z"/>
<path class="c50" d="M256.9 65.4l5.6-1.1-5.5-7.7-5.5 .4z"/>
<path class="c48" d="M251.4 66.5l5.5-1.1-5.4-8.4-5.6 .4z"/>
<path class="c47" d="M245.8 67.5l5.6-1-5.5-9.1-5.5 .4z"/>
<path class="c46" d="M240.3 68.3l5.5-.8-5.4-9.7-5.6 .3z"/>
<path class="c46" d="M234.8 69.1l5.5-.8-5.5-10.2-5.5 .4z"/>
<path class="c45" d="M229.2 69.7l5.6-.6-5.5-10.6-5.5 .3z"/>
<path class="c45" d="M223.7 70.2l5.5-.5-5.4-10.9-5.6 .3z"/>
<path class="c45" d="M218.1 70.5l5.6-.3-5.5-11.1-5.5 .3z"/>
<path class="c25" d="M434.1 73l5.6-.2-5.5-13.5-5.5 .2z"/>
<path class="c25" d="M428.6 73l5.5 0-5.4-13.5-5.6 .1z"/>
<path class="c26" d="M423 72.8l5.6 .2-5.5-13.4-5.5 0z"/>
<path class="c27" d="M417.5 72.4l5.5 .4-5.4-13.2-5.6-.2z"/>
<path class="c29" d="M412 71.7l5.5 .7-5.5-13-5.5-.3z"/>
<path class="c30" d="M406.4 70.9l5.6 .8-5.5-12.6-5.5-.4z"/>
<path class="c33" d="M400.9 69.8l5.5 1.1-5.4-12.2-5.6-.5z"/>
<path class="c35" d="M395.3 68.5l5.6 1.3-5.5-11.6-5.5-.5z"/>
<path class="c38" d="M389.8 67.1l5.5 1.4-5.4-10.8-5.6-.7z"/>
<path class="c41" d="M384.3 65.4l5.5 1.7-5.5-10.1-5.5-.7z"/>
<path class="c44" d="M378.7 63.7l5.6 1.7-5.5-9.1-5.5-.7z"/>
<path class="c47" d="M373.2 61.8l5.5 1.9-5.4-8.1-5.6-.7z"/>
<path class="c50" d="M367.6 59.9l5.6 1.9-5.5-6.9-5.5-.6z"/>
<path class="c54" d="M362.1 58.1l5.5 1.8-5.4-5.6-5.6-.6z"/>
<path class="c56" d="M356.6 56.5l5.5 1.6-5.5-4.4-5.5-.5z"/>
<path class="c59" d="M351 55.1l5.6 1.4-5.5-3.3-5.5-.4z"/>
<path class="c61" d="M345.5 54l5.5 1.1-5.4-2.3-5.6-.2z"/>
<path class="c63" d="M339.9 53.3l5.6 .7-5.5-1.4-5.5-.1z"/>
<path class="c63" d="M334.4 53.1l5.5 .2-5.4-.8-5.6 .1z"/>
<path class="c63" d="M328.8 53.4l5.6-.3-5.5-.5-5.5 .3z"/>
<path class="c63" d="M323.3 54.2l5.5-.8-5.4-.5-5.5 .4z"/>
<path class="c61" d="M317.8 55.4l5.5-1.2-5.4-.9-5.6 .7z"/>
<path class="c59" d="M312.2 57.1l5.6-1.7-5.5-1.4-5.5 .8z"/>
<path class="c56" d="M306.7 59.1l5.5-2-5.4-2.3-5.6 1z"/>
<path class="c54" d="M301.1 61.3l5.6-2.2-5.5-3.3-5.5 1.1z"/>
<path class="c50" d="M295.6 63.7l5.5-2.4-5.4-4.4-5.5 1.1z"/>
<path class="c47" d="M290.1 66.1l5.5-2.4-5.4-5.7-5.6 1.3z"/>
<path class="c44" d="M284.5 68.6l5.6-2.5-5.5-6.8-5.5 1.2z"/>
<path class="c41" d="M279 70.9l5.5-2.3-5.4-8.1-5.6 1.3z"/>
<path class="c38" d="M273.4 73.1l5.6-2.2-5.5-9.1-5.5 1.3z"/>
<path class="c35" d="M267.9 75.2l5.5-2.1-5.4-10-5.5 1.2z"/>
<path class="c33" d="M262.4 77l5.5-1.8-5.4-10.9-5.6 1.1z"/>
<path class="c30" d="M256.8 78.6l5.6-1.6-5.5-11.6-5.5 1.1z"/>
<path class="c29" d="M251.3 80.1l5.5-1.5-5.4-12.1-5.6 1z"/>
<path class="c27" d="M245.7 81.3l5.6-1.2-5.5-12.6-5.5 .8z"/>
<path class="c26" d="M240.2 82.3l5.5-1-5.4-13-5.5 .8z"/>
<path class="c25" d="M234.7 83.1l5.5-.8-5.4-13.2-5.6 .6z"/>
<path class="c25" d="M229.1 83.7l5.6-.6-5.5-13.4-5.5 .5z"/>
<path class="c25" d="M223.6 84l5.5-.3-5.4-13.5-5.6 .3z"/>
<path class="c59" d="M350.9 55.7l5.6 2.2-5.5-2.8-5.5-1.1z"/>
<path class="c62" d="M345.4 54.3l5.5 1.4-5.4-1.7-5.6-.7z"/>
<path class="c63" d="M339.8 53.6l5.6 .7-5.5-1-5.5-.2z"/>
<path class="c63" d="M334.3 53.9l5.5-.3-5.4-.5-5.6 .3z"/>
<path class="c62" d="M328.8 55.1l5.5-1.2-5.5-.5-5.5 .8z"/>
<path class="c59" d="M323.2 57.2l5.6-2.1-5.5-.9-5.5 1.2z"/>
<path class="c56" d="M317.7 59.9l5.5-2.7-5.4-1.8-5.6 1.7z"/>
<path class="c51" d="M312.1 63.1l5.6-3.2-5.5-2.8-5.5 2z"/>
<path class="c46" d="M306.6 66.6l5.5-3.5-5.4-4-5.6 2.2z"/>
<path class="c41" d="M301.1 70.2l5.5-3.6-5.5-5.3-5.5 2.4z"/>
<path class="c36" d="M295.5 73.6l5.6-3.4-5.5-6.5-5.5 2.4z"/>
<path class="c32" d="M290 76.9l5.5-3.3-5.4-7.5-5.6 2.5z"/>
<path class="c28" d="M284.4 79.9l5.6-3-5.5-8.3-5.5 2.3z"/>
<path class="c24" d="M278.9 82.6l5.5-2.7-5.4-9-5.6 2.2z"/>
<path class="c21" d="M273.4 84.9l5.5-2.3-5.5-9.5-5.5 2.1z"/>
<path class="c18" d="M267.8 86.9l5.6-2-5.5-9.7-5.5 1.8z"/>
<path class="c16" d="M262.3 88.5l5.5-1.6-5.4-9.9-5.6 1.6z"/>
<path class="c14" d="M256.7 89.9l5.6-1.4-5.5-9.9-5.5 1.5z"/>
<path class="c13" d="M251.2 91.1l5.5-1.2-5.4-9.8-5.6 1.2z"/>
<path class="c12" d="M245.7 92l5.5-.9-5.5-9.8-5.5 1z"/>
<path class="c11" d="M240.1 92.7l5.6-.7-5.5-9.7-5.5 .8z"/>
<path class="c11" d="M234.6 93.3l5.5-.6-5.4-9.6-5.6 .6z"/>
<path class="c11" d="M229 93.7l5.6-.4-5.5-9.6-5.5 .3z"/>
<path class="c63" d="M345.3 54.2l5.5 1.1-5.4-1-5.6-.7z"/>
<path class="c63" d="M339.8 54.5l5.5-.3-5.5-.6-5.5 .3z"/>
<path class="c61" d="M334.2 56.2l5.6-1.7-5.5-.6-5.5 1.2z"/>
<path class="c57" d="M328.7 59.1l5.5-2.9-5.4-1.1-5.6 2.1z"/>
<path class="c52" d="M323.1 62.9l5.6-3.8-5.5-1.9-5.5 2.7z"/>
<path class="c45" d="M317.6 67.3l5.5-4.4-5.4-3-5.6 3.2z"/>
<path class="c39" d="M312.1 71.8l5.5-4.5-5.5-4.2-5.5 3.5z"/>
<path class="c33" d="M306.5 76.3l5.6-4.5-5.5-5.2-5.5 3.6z"/>
<path class="c27" d="M301 80.3l5.5-4-5.4-6.1-5.6 3.4z"/>
<path class="c22" d="M295.4 83.9l5.6-3.6-5.5-6.7-5.5 3.3z"/>
<path class="c17" d="M289.9 87l5.5-3.1-5.4-7-5.6 3z"/>
<path class="c14" d="M284.4 89.5l5.5-2.5-5.5-7.1-5.5 2.7z"/>
<path class="c11" d="M278.8 91.6l5.6-2.1-5.5-6.9-5.5 2.3z"/>
<path class="c9" d="M273.3 93.3l5.5-1.7-5.4-6.7-5.6 2z"/>
<path class="c7" d="M267.7 94.7l5.6-1.4-5.5-6.4-5.5 1.6z"/>
<path class="c6" d="M262.2 95.8l5.5-1.1-5.4-6.2-5.6 1.4z"/>
<path class="c5" d="M256.7 96.6l5.5-.8-5.5-5.9-5.5 1.2z"/>
<path class="c5" d="M251.1 97.3l5.6-.7-5.5-5.5-5.5 .9z"/>
<path class="c4" d="M245.6 97.9l5.5-.6-5.4-5.3-5.6 .7z"/>
<path class="c4" d="M240 98.4l5.6-.5-5.5-5.2-5.5 .6z"/>
<path class="c4" d="M234.5 98.7l5.5-.3-5.4-5.1-5.6 .4z"/>
<path class="c40" d="M372.9 68.6l5.5 4.7-5.4-4.6-5.5-4z"/>
<path class="c63" d="M350.7 54.7l5.6 1.6-5.5-1-5.5-1.1z"/>
<path class="c63" d="M345.2 55l5.5-.3-5.4-.5-5.5 .3z"/>
<path class="c60" d="M339.7 57.2l5.5-2.2-5.4-.5-5.6 1.7z"/>
<path class="c55" d="M334.1 61l5.6-3.8-5.5-1-5.5 2.9z"/>
<path class="c48" d="M328.6 65.8l5.5-4.8-5.4-1.9-5.6 3.8z"/>
<path class="c40" d="M323 71.2l5.6-5.4-5.5-2.9-5.5 4.4z"/>
<path class="c25" d="M312 81.4l5.5-4.9-5.4-4.7-5.6 4.5z"/>
<path class="c19" d="M306.4 85.6l5.6-4.2-5.5-5.1-5.5 4z"/>
<path class="c15" d="M300.9 89.1l5.5-3.5-5.4-5.3-5.6 3.6z"/>
<path class="c11" d="M295.3 91.8l5.6-2.7-5.5-5.2-5.5 3.1z"/>
<path class="c8" d="M289.8 94l5.5-2.2-5.4-4.8-5.5 2.5z"/>
<path class="c6" d="M284.3 95.7l5.5-1.7-5.4-4.5-5.6 2.1z"/>
<path class="c4" d="M278.7 97l5.6-1.3-5.5-4.1-5.5 1.7z"/>
<path class="c3" d="M273.2 98l5.5-1-5.4-3.7-5.6 1.4z"/>
<path class="c2" d="M267.6 98.7l5.6-.7-5.5-3.3-5.5 1.1z"/>
<path class="c2" d="M262.1 99.4l5.5-.7-5.4-2.9-5.5 .8z"/>
<path class="c1" d="M256.6 99.9l5.5-.5-5.4-2.8-5.6 .7z"/>
<path class="c1" d="M251 100.3l5.6-.4-5.5-2.6-5.5 .6z"/>
<path class="c1" d="M245.5 100.7l5.5-.4-5.4-2.4-5.6 .5z"/>
<path class="c1" d="M239.9 101l5.6-.3-5.5-2.3-5.5 .3z"/>
<path class="c14" d="M395 85.1l5.5 2.6-5.4-3.5-5.6-2.9z"/>
<path class="c27" d="M383.9 77.1l5.5 4.5-5.4-4-5.6-4.3z"/>
<path class="c36" d="M378.4 71.9l5.5 5.2-5.5-3.8-5.5-4.7z"/>
<path class="c45" d="M372.8 66.4l5.6 5.5-5.5-3.3-5.5-4.8z"/>
<path class="c63" d="M356.2 55.3l5.5 2-5.4-1-5.6-1.6z"/>
<path class="c63" d="M350.7 55.6l5.5-.3-5.5-.6-5.5 .3z"/>
<path class="c59" d="M345.1 58.2l5.6-2.6-5.5-.6-5.5 2.2z"/>
<path class="c53" d="M339.6 62.8l5.5-4.6-5.4-1-5.6 3.8z"/>
<path class="c45" d="M334 68.5l5.6-5.7-5.5-1.8-5.5 4.8z"/>
<path class="c36" d="M328.5 74.5l5.5-6-5.4-2.7-5.6 5.4z"/>
<path class="c10" d="M306.3 92.6l5.6-3.2-5.5-3.8-5.5 3.5z"/>
<path class="c7" d="M300.8 94.9l5.5-2.3-5.4-3.5-5.6 2.7z"/>
<path class="c4" d="M295.3 96.7l5.5-1.8-5.5-3.1-5.5 2.2z"/>
<path class="c3" d="M289.7 98l5.6-1.3-5.5-2.7-5.5 1.7z"/>
<path class="c2" d="M284.2 99l5.5-1-5.4-2.3-5.6 1.3z"/>
<path class="c1" d="M278.6 99.7l5.6-.7-5.5-2-5.5 1z"/>
<path class="c1" d="M273.1 100.3l5.5-.6-5.4-1.7-5.6 .7z"/>
<path class="c0" d="M267.6 100.8l5.5-.5-5.5-1.6-5.5 .7z"/>
<path class="c0" d="M262 101.2l5.6-.4-5.5-1.4-5.5 .5z"/>
<path class="c0" d="M256.5 101.6l5.5-.4-5.4-1.3-5.6 .4z"/>
<path class="c0" d="M250.9 101.9l5.6-.3-5.5-1.3-5.5 .4z"/>
<path class="c0" d="M245.4 102.2l5.5-.3-5.4-1.2-5.6 .3z"/>
<path class="c11" d="M400.4 87.7l5.6 2.2-5.5-2.2-5.5-2.6z"/>
<path class="c17" d="M394.9 84.4l5.5 3.3-5.4-2.6-5.6-3.5z"/>
<path class="c24" d="M389.3 80l5.6 4.4-5.5-2.8-5.5-4.5z"/>
<path class="c33" d="M383.8 74.6l5.5 5.4-5.4-2.9-5.5-5.2z"/>
<path class="c42" d="M378.3 68.6l5.5 6-5.4-2.7-5.6-5.5z"/>
<path class="c63" d="M361.6 55.8l5.6 2.5-5.5-1-5.5-2z"/>
<path class="c63" d="M356.1 56.1l5.5-.3-5.4-.5-5.5 .3z"/>
<path class="c59" d="M350.6 59.1l5.5-3-5.4-.5-5.6 2.6z"/>
<path class="c51" d="M345 64.3l5.6-5.2-5.5-.9-5.5 4.6z"/>
<path class="c42" d="M339.5 70.6l5.5-6.3-5.4-1.5-5.6 5.7z"/>
<path class="c3" d="M300.7 98.3l5.5-1.4-5.4-2-5.5 1.8z"/>
<path class="c2" d="M295.2 99.4l5.5-1.1-5.4-1.6-5.6 1.3z"/>
<path class="c1" d="M289.6 100.1l5.6-.7-5.5-1.4-5.5 1z"/>
<path class="c0" d="M284.1 100.7l5.5-.6-5.4-1.1-5.6 .7z"/>
<path class="c0" d="M278.5 101.2l5.6-.5-5.5-1-5.5 .6z"/>
<path class="c0" d="M273 101.6l5.5-.4-5.4-.9-5.5 .5z"/>
<path class="c0" d="M267.5 102l5.5-.4-5.4-.8-5.6 .4z"/>
<path class="c0" d="M261.9 102.3l5.6-.3-5.5-.8-5.5 .4z"/>
<path class="c0" d="M256.4 102.6l5.5-.3-5.4-.7-5.6 .3z"/>
<path class="c0" d="M250.8 102.9l5.6-.3-5.5-.7-5.5 .3z"/>
<path class="c6" d="M411.4 91.4l5.6 1.2-5.5-1.2-5.5-1.5z"/>
<path class="c9" d="M405.9 89.3l5.5 2.1-5.4-1.5-5.6-2.2z"/>
<path class="c15" d="M400.3 86.2l5.6 3.1-5.5-1.6-5.5-3.3z"/>
<path class="c22" d="M394.8 81.9l5.5 4.3-5.4-1.8-5.6-4.4z"/>
<path class="c30" d="M389.3 76.4l5.5 5.5-5.5-1.9-5.5-5.4z"/>
<path class="c40" d="M383.7 70.2l5.6 6.2-5.5-1.8-5.5-6z"/>
<path class="c50" d="M378.2 64l5.5 6.2-5.4-1.6-5.6-5.8z"/>
<path class="c63" d="M367.1 56.3l5.5 2.7-5.4-.7-5.6-2.5z"/>
<path class="c63" d="M361.6 56.6l5.5-.3-5.5-.5-5.5 .3z"/>
<path class="c58" d="M356 59.9l5.6-3.3-5.5-.5-5.5 3z"/>
<path class="c50" d="M350.5 65.4l5.5-5.5-5.4-.8-5.6 5.2z"/>
<path class="c40" d="M344.9 72.2l5.6-6.8-5.5-1.1-5.5 6.3z"/>
<path class="c1" d="M300.6 100.3l5.6-.9-5.5-1.1-5.5 1.1z"/>
<path class="c0" d="M295.1 100.9l5.5-.6-5.4-.9-5.6 .7z"/>
<path class="c0" d="M289.5 101.4l5.6-.5-5.5-.8-5.5 .6z"/>
<path class="c0" d="M284 101.9l5.5-.5-5.4-.7-5.6 .5z"/>
<path class="c0" d="M278.5 102.2l5.5-.3-5.5-.7-5.5 .4z"/>
<path class="c0" d="M272.9 102.6l5.6-.4-5.5-.6-5.5 .4z"/>
<path class="c0" d="M267.4 102.9l5.5-.3-5.4-.6-5.6 .3z"/>
<path class="c0" d="M261.8 103.2l5.6-.3-5.5-.6-5.5 .3z"/>
<path class="c0" d="M256.3 103.5l5.5-.3-5.4-.6-5.6 .3z"/>
<path class="c3" d="M422.4 93.4l5.5 .6-5.4-.7-5.5-.7z"/>
<path class="c5" d="M416.9 92.2l5.5 1.2-5.4-.8-5.6-1.2z"/>
<path class="c9" d="M411.3 90.3l5.6 1.9-5.5-.8-5.5-2.1z"/>
<path class="c14" d="M405.8 87.3l5.5 3-5.4-1-5.6-3.1z"/>
<path class="c21" d="M400.2 83l5.6 4.3-5.5-1.1-5.5-4.3z"/>
<path class="c30" d="M394.7 77.5l5.5 5.5-5.4-1.1-5.5-5.5z"/>
<path class="c40" d="M389.2 71.1l5.5 6.4-5.4-1.1-5.6-6.2z"/>
<path class="c50" d="M383.6 64.8l5.6 6.3-5.5-.9-5.5-6.2z"/>
<path class="c63" d="M372.5 56.8l5.6 2.8-5.5-.6-5.5-2.7z"/>
<path class="c63" d="M367 57.1l5.5-.3-5.4-.5-5.5 .3z"/>
<path class="c58" d="M361.5 60.5l5.5-3.4-5.4-.5-5.6 3.3z"/>
<path class="c50" d="M355.9 66.2l5.6-5.7-5.5-.6-5.5 5.5z"/>
<path class="c0" d="M300.5 101.5l5.6-.6-5.5-.6-5.5 .6z"/>
<path class="c0" d="M295 102l5.5-.5-5.4-.6-5.6 .5z"/>
<path class="c0" d="M289.4 102.4l5.6-.4-5.5-.6-5.5 .5z"/>
<path class="c0" d="M283.9 102.8l5.5-.4-5.4-.5-5.5 .3z"/>
<path class="c0" d="M278.4 103.1l5.5-.3-5.4-.6-5.6 .4z"/>
<path class="c0" d="M272.8 103.4l5.6-.3-5.5-.5-5.5 .3z"/>
<path class="c0" d="M267.3 103.7l5.5-.3-5.4-.5-5.6 .3z"/>
<path class="c0" d="M261.7 104l5.6-.3-5.5-.5-5.5 .3z"/>
<path class="c2" d="M433.4 94.4l5.5 .3-5.4-.4-5.6-.3z"/>
<path class="c3" d="M427.9 93.8l5.5 .6-5.5-.4-5.5-.6z"/>
<path class="c5" d="M422.3 92.6l5.6 1.2-5.5-.4-5.5-1.2z"/>
<path class="c9" d="M416.8 90.6l5.5 2-5.4-.4-5.6-1.9z"/>
<path class="c14" d="M411.2 87.6l5.6 3-5.5-.3-5.5-3z"/>
<path class="c21" d="M405.7 83.3l5.5 4.3-5.4-.3-5.6-4.3z"/>
<path class="c30" d="M400.2 77.8l5.5 5.5-5.5-.3-5.5-5.5z"/>
<path class="c40" d="M394.6 71.5l5.6 6.3-5.5-.3-5.5-6.4z"/>
<path class="c50" d="M389.1 65.2l5.5 6.3-5.4-.4-5.6-6.3z"/>
<path class="c58" d="M383.5 60.1l5.6 5.1-5.5-.4-5.5-5.2z"/>
<path class="c63" d="M378 57.3l5.5 2.8-5.4-.5-5.6-2.8z"/>
<path class="c63" d="M372.5 57.6l5.5-.3-5.5-.5-5.5 .3z"/>
<path class="c58" d="M366.9 60.9l5.6-3.3-5.5-.5-5.5 3.4z"/>
<path class="c50" d="M361.4 66.6l5.5-5.7-5.4-.4-5.6 5.7z"/>
<path class="c0" d="M294.9 102.9l5.5-.4-5.4-.5-5.6 .4z"/>
<path class="c0" d="M289.4 103.2l5.5-.3-5.5-.5-5.5 .4z"/>
<path class="c0" d="M283.8 103.6l5.6-.4-5.5-.4-5.5 .3z"/>
<path class="c0" d="M278.3 103.9l5.5-.3-5.4-.5-5.6 .3z"/>
<path class="c0" d="M272.7 104.2l5.6-.3-5.5-.5-5.5 .3z"/>
<path class="c0" d="M267.2 104.5l5.5-.3-5.4-.5-5.6 .3z"/>
<path class="c1" d="M444.4 94.9l5.5 .2-5.4-.3-5.6-.1z"/>
<path class="c2" d="M438.9 94.6l5.5 .3-5.5-.2-5.5-.3z"/>
<path class="c4" d="M433.3 93.8l5.6 .8-5.5-.2-5.5-.6z"/>
<path class="c6" d="M427.8 92.4l5.5 1.4-5.4 0-5.6-1.2z"/>
<path class="c10" d="M422.2 90.3l5.6 2.1-5.5 .2-5.5-2z"/>
<path class="c15" d="M416.7 87.1l5.5 3.2-5.4 .3-5.6-3z"/>
<path class="c23" d="M411.1 82.7l5.6 4.4-5.5 .5-5.5-4.3z"/>
<path class="c31" d="M405.6 77.3l5.5 5.4-5.4 .6-5.5-5.5z"/>
<path class="c41" d="M400.1 71.2l5.5 6.1-5.4 .5-5.6-6.3z"/>
<path class="c51" d="M394.5 65.2l5.6 6-5.5 .3-5.5-6.3z"/>
<path class="c59" d="M389 60.4l5.5 4.8-5.4 0-5.6-5.1z"/>
<path class="c63" d="M383.4 57.8l5.6 2.6-5.5-.3-5.5-2.8z"/>
<path class="c63" d="M377.9 58.1l5.5-.3-5.4-.5-5.5 .3z"/>
<path class="c59" d="M372.4 61.2l5.5-3.1-5.4-.5-5.6 3.3z"/>
<path class="c51" d="M366.8 66.6l5.6-5.4-5.5-.3-5.5 5.7z"/>
<path class="c0" d="M294.8 103.6l5.5-.3-5.4-.4-5.5 .3z"/>
<path class="c0" d="M289.3 104l5.5-.4-5.4-.4-5.6 .4z"/>
<path class="c0" d="M283.7 104.3l5.6-.3-5.5-.4-5.5 .3z"/>
<path class="c0" d="M278.2 104.6l5.5-.3-5.4-.4-5.6 .3z"/>
<path class="c0" d="M272.6 104.9l5.6-.3-5.5-.4-5.5 .3z"/>
<path class="c2" d="M449.8 94.8l5.6 .3-5.5 0-5.5-.2z"/>
<path class="c3" d="M444.3 94.2l5.5 .6-5.4 .1-5.5-.3z"/>
<path class="c5" d="M438.8 93.2l5.5 1-5.4 .4-5.6-.8z"/>
<path class="c8" d="M433.2 91.6l5.6 1.6-5.5 .6-5.5-1.4z"/>
<path class="c13" d="M427.7 89.2l5.5 2.4-5.4 .8-5.6-2.1z"/>
<path class="c18" d="M422.1 85.8l5.6 3.4-5.5 1.1-5.5-3.2z"/>
<path class="c25" d="M416.6 81.3l5.5 4.5-5.4 1.3-5.6-4.4z"/>
<path class="c34" d="M411.1 76l5.5 5.3-5.5 1.4-5.5-5.4z"/>
<path class="c43" d="M405.5 70.3l5.6 5.7-5.5 1.3-5.5-6.1z"/>
<path class="c52" d="M400 64.8l5.5 5.5-5.4 .9-5.6-6z"/>
<path class="c59" d="M394.4 60.5l5.6 4.3-5.5 .4-5.5-4.8z"/>
<path class="c63" d="M388.9 58.2l5.5 2.3-5.4-.1-5.6-2.6z"/>
<path class="c63" d="M383.4 58.5l5.5-.3-5.5-.4-5.5 .3z"/>
<path class="c59" d="M377.8 61.3l5.6-2.8-5.5-.4-5.5 3.1z"/>
<path class="c52" d="M372.3 66.2l5.5-4.9-5.4-.1-5.6 5.4z"/>
<path class="c0" d="M294.7 104.3l5.6-.4-5.5-.3-5.5 .4z"/>
<path class="c0" d="M289.2 104.6l5.5-.3-5.4-.3-5.6 .3z"/>
<path class="c0" d="M283.6 105l5.6-.4-5.5-.3-5.5 .3z"/>
<path class="c0" d="M278.1 105.3l5.5-.3-5.4-.4-5.6 .3z"/>
<path class="c1" d="M471.9 94.9l5.6 0-5.5 .1-5.5 .1z"/>
<path class="c2" d="M466.4 94.8l5.5 .1-5.4 .2-5.6 .1z"/>
<path class="c3" d="M460.8 94.5l5.6 .3-5.5 .4-5.5-.1z"/>
<path class="c4" d="M455.3 94l5.5 .5-5.4 .6-5.6-.3z"/>
<path class="c6" d="M449.8 93.1l5.5 .9-5.5 .8-5.5-.6z"/>
<path class="c8" d="M444.2 91.7l5.6 1.4-5.5 1.1-5.5-1z"/>
<path class="c12" d="M438.7 89.7l5.5 2-5.4 1.5-5.6-1.6z"/>
<path class="c17" d="M433.1 87l5.6 2.7-5.5 1.9-5.5-2.4z"/>
<path class="c23" d="M427.6 83.4l5.5 3.6-5.4 2.2-5.6-3.4z"/>
<path class="c30" d="M422.1 79l5.5 4.4-5.5 2.4-5.5-4.5z"/>
<path class="c38" d="M416.5 74l5.6 5-5.5 2.3-5.5-5.3z"/>
<path class="c46" d="M411 68.8l5.5 5.2-5.4 2-5.6-5.7z"/>
<path class="c54" d="M405.4 64.1l5.6 4.7-5.5 1.5-5.5-5.5z"/>
<path class="c60" d="M399.9 60.5l5.5 3.6-5.4 .7-5.6-4.3z"/>
<path class="c63" d="M394.4 58.6l5.5 1.9-5.5 0-5.5-2.3z"/>
<path class="c63" d="M388.8 58.9l5.6-.3-5.5-.4-5.5 .3z"/>
<path class="c60" d="M383.3 61.4l5.5-2.5-5.4-.4-5.6 2.8z"/>
<path class="c54" d="M377.7 65.5l5.6-4.1-5.5-.1-5.5 4.9z"/>
<path class="c0" d="M289.1 105l5.5-.3-5.4-.1-5.6 .4z"/>
<path class="c0" d="M283.6 105.3l5.5-.3-5.5 0-5.5 .3z"/>
<path class="c2" d="M499.5 93.7l5.6-.2-5.5 .6-5.5 .3z"/>
<path class="c2" d="M494 93.9l5.5-.2-5.4 .7-5.6 .2z"/>
<path class="c3" d="M488.4 94l5.6-.1-5.5 .7-5.5 .2z"/>
<path class="c3" d="M482.9 93.9l5.5 .1-5.4 .8-5.5 .1z"/>
<path class="c4" d="M477.4 93.8l5.5 .1-5.4 1-5.6 0z"/>
<path class="c5" d="M471.8 93.4l5.6 .4-5.5 1.1-5.5-.1z"/>
<path class="c6" d="M466.3 92.8l5.5 .6-5.4 1.4-5.6-.3z"/>
<path class="c8" d="M460.7 91.9l5.6 .9-5.5 1.7-5.5-.5z"/>
<path class="c11" d="M455.2 90.6l5.5 1.3-5.4 2.1-5.5-.9z"/>
<path class="c14" d="M449.7 88.8l5.5 1.8-5.4 2.5-5.6-1.4z"/>
<path class="c18" d="M444.1 86.4l5.6 2.4-5.5 2.9-5.5-2z"/>
<path class="c23" d="M438.6 83.5l5.5 2.9-5.4 3.3-5.6-2.7z"/>
<path class="c29" d="M433 79.8l5.6 3.7-5.5 3.5-5.5-3.6z"/>
<path class="c35" d="M427.5 75.7l5.5 4.1-5.4 3.6-5.5-4.4z"/>
<path class="c43" d="M422 71.3l5.5 4.4-5.4 3.3-5.6-5z"/>
<path class="c50" d="M416.4 67l5.6 4.3-5.5 2.7-5.5-5.2z"/>
<path class="c56" d="M410.9 63.2l5.5 3.8-5.4 1.8-5.6-4.7z"/>
<path class="c61" d="M405.3 60.4l5.6 2.8-5.5 .9-5.5-3.6z"/>
<path class="c63" d="M399.8 59.1l5.5 1.3-5.4 .1-5.5-1.9z"/>
<path class="c63" d="M394.3 59.4l5.5-.3-5.4-.5-5.6 .3z"/>
<path class="c61" d="M388.7 61.3l5.6-1.9-5.5-.5-5.5 2.5z"/>
<path class="c56" d="M383.2 64.6l5.5-3.3-5.4 .1-5.6 4.1z"/>
<path class="c18" d="M349.9 91.3l5.6-3.5-5.5 3.5-5.5 3.3z"/>
<path class="c14" d="M344.4 94.3l5.5-3-5.4 3.3-5.5 2.6z"/>
<path class="c11" d="M338.9 96.7l5.5-2.4-5.4 2.9-5.6 2z"/>
<path class="c8" d="M333.3 98.5l5.6-1.8-5.5 2.5-5.5 1.4z"/>
<path class="c6" d="M327.8 100l5.5-1.5-5.4 2.1-5.6 1.1z"/>
<path class="c5" d="M322.2 101.2l5.6-1.2-5.5 1.7-5.5 .9z"/>
<path class="c4" d="M316.7 102.1l5.5-.9-5.4 1.4-5.5 .7z"/>
<path class="c3" d="M311.2 102.9l5.5-.8-5.4 1.2-5.6 .5z"/>
<path class="c3" d="M305.6 103.5l5.6-.6-5.5 .9-5.5 .5z"/>
<path class="c2" d="M300.1 104l5.5-.5-5.4 .8-5.6 .4z"/>
<path class="c2" d="M294.5 104.4l5.6-.4-5.5 .7-5.5 .3z"/>
<path class="c2" d="M289 104.7l5.5-.3-5.4 .6-5.5 .3z"/>
<path class="c7" d="M505 91.2l5.5-.2-5.4 2.5-5.6 .2z"/>
<path class="c7" d="M499.4 91.3l5.6-.1-5.5 2.5-5.5 .2z"/>
<path class="c8" d="M493.9 91.2l5.5 .1-5.4 2.6-5.6 .1z"/>
<path class="c8" d="M488.4 91l5.5 .2-5.5 2.8-5.5-.1z"/>
<path class="c10" d="M482.8 90.5l5.6 .5-5.5 2.9-5.5-.1z"/>
<path class="c11" d="M477.3 89.8l5.5 .7-5.4 3.3-5.6-.4z"/>
<path class="c13" d="M471.7 88.9l5.6 .9-5.5 3.6-5.5-.6z"/>
<path class="c15" d="M466.2 87.6l5.5 1.3-5.4 3.9-5.6-.9z"/>
<path class="c18" d="M460.7 85.9l5.5 1.7-5.5 4.3-5.5-1.3z"/>
<path class="c22" d="M455.1 83.8l5.6 2.1-5.5 4.7-5.5-1.8z"/>
<path class="c26" d="M449.6 81.3l5.5 2.5-5.4 5-5.6-2.4z"/>
<path class="c31" d="M444 78.4l5.6 2.9-5.5 5.1-5.5-2.9z"/>
<path class="c37" d="M438.5 75.1l5.5 3.3-5.4 5.1-5.6-3.7z"/>
<path class="c42" d="M433 71.7l5.5 3.4-5.5 4.7-5.5-4.1z"/>
<path class="c48" d="M427.4 68.2l5.6 3.5-5.5 4-5.5-4.4z"/>
<path class="c54" d="M421.9 64.9l5.5 3.3-5.4 3.1-5.6-4.3z"/>
<path class="c58" d="M416.3 62.2l5.6 2.7-5.5 2.1-5.5-3.8z"/>
<path class="c62" d="M410.8 60.4l5.5 1.8-5.4 1-5.6-2.8z"/>
<path class="c63" d="M405.3 59.5l5.5 .9-5.5 0-5.5-1.3z"/>
<path class="c63" d="M399.7 59.8l5.6-.3-5.5-.4-5.5 .3z"/>
<path class="c62" d="M394.2 61.2l5.5-1.4-5.4-.4-5.6 1.9z"/>
<path class="c58" d="M388.6 63.7l5.6-2.5-5.5 .1-5.5 3.3z"/>
<path class="c37" d="M366.5 78.9l5.5-4.1-5.4 4.1-5.6 4.7z"/>
<path class="c31" d="M360.9 82.7l5.6-3.8-5.5 4.7-5.5 4.2z"/>
<path class="c26" d="M355.4 86.2l5.5-3.5-5.4 5.1-5.6 3.5z"/>
<path class="c22" d="M349.9 89.3l5.5-3.1-5.5 5.1-5.5 3z"/>
<path class="c18" d="M344.3 92l5.6-2.7-5.5 5-5.5 2.4z"/>
<path class="c15" d="M338.8 94.2l5.5-2.2-5.4 4.7-5.6 1.8z"/>
<path class="c13" d="M333.2 96.1l5.6-1.9-5.5 4.3-5.5 1.5z"/>
<path class="c11" d="M327.7 97.6l5.5-1.5-5.4 3.9-5.6 1.2z"/>
<path class="c10" d="M322.2 98.9l5.5-1.3-5.5 3.6-5.5 .9z"/>
<path class="c8" d="M316.6 99.9l5.6-1-5.5 3.2-5.5 .8z"/>
<path class="c8" d="M311.1 100.7l5.5-.8-5.4 3-5.6 .6z"/>
<path class="c7" d="M305.5 101.4l5.6-.7-5.5 2.8-5.5 .5z"/>
<path class="c7" d="M300 101.9l5.5-.5-5.4 2.6-5.6 .4z"/>
<path class="c7" d="M294.5 102.2l5.5-.3-5.5 2.5-5.5 .3z"/>
<path class="c17" d="M510.4 85l5.6-.2-5.5 6.2-5.5 .2z"/>
<path class="c17" d="M504.9 85l5.5 0-5.4 6.2-5.6 .1z"/>
<path class="c18" d="M499.3 84.8l5.6 .2-5.5 6.3-5.5-.1z"/>
<path class="c19" d="M493.8 84.4l5.5 .4-5.4 6.4-5.5-.2z"/>
<path class="c21" d="M488.3 83.7l5.5 .7-5.4 6.6-5.6-.5z"/>
<path class="c23" d="M482.7 82.8l5.6 .9-5.5 6.8-5.5-.7z"/>
<path class="c25" d="M477.2 81.7l5.5 1.1-5.4 7-5.6-.9z"/>
<path class="c27" d="M471.6 80.3l5.6 1.4-5.5 7.2-5.5-1.3z"/>
<path class="c30" d="M466.1 78.6l5.5 1.7-5.4 7.3-5.5-1.7z"/>
<path class="c34" d="M460.6 76.6l5.5 2-5.4 7.3-5.6-2.1z"/>
<path class="c38" d="M455 74.5l5.6 2.1-5.5 7.2-5.5-2.5z"/>
<path class="c42" d="M449.5 72.1l5.5 2.4-5.4 6.8-5.6-2.9z"/>
<path class="c46" d="M443.9 69.7l5.6 2.4-5.5 6.3-5.5-3.3z"/>
<path class="c50" d="M438.4 67.3l5.5 2.4-5.4 5.4-5.5-3.4z"/>
<path class="c54" d="M432.9 65l5.5 2.3-5.4 4.4-5.6-3.5z"/>
<path class="c57" d="M427.3 63l5.6 2-5.5 3.2-5.5-3.3z"/>
<path class="c60" d="M421.8 61.4l5.5 1.6-5.4 1.9-5.6-2.7z"/>
<path class="c62" d="M416.2 60.3l5.6 1.1-5.5 .8-5.5-1.8z"/>
<path class="c63" d="M410.7 59.9l5.5 .4-5.4 .1-5.5-.9z"/>
<path class="c63" d="M405.2 60.2l5.5-.3-5.4-.4-5.6 .3z"/>
<path class="c62" d="M399.6 61.2l5.6-1-5.5-.4-5.5 1.4z"/>
<path class="c60" d="M394.1 62.8l5.5-1.6-5.4 0-5.6 2.5z"/>
<path class="c57" d="M388.5 65l5.6-2.2-5.5 .9-5.5 3.3z"/>
<path class="c50" d="M377.5 70.4l5.5-2.8-5.4 3.2-5.6 4z"/>
<path class="c46" d="M371.9 73.4l5.6-3-5.5 4.4-5.5 4.1z"/>
<path class="c42" d="M366.4 76.5l5.5-3.1-5.4 5.5-5.6 3.8z"/>
<path class="c38" d="M360.8 79.4l5.6-2.9-5.5 6.2-5.5 3.5z"/>
<path class="c34" d="M355.3 82.1l5.5-2.7-5.4 6.8-5.5 3.1z"/>
<path class="c30" d="M349.8 84.6l5.5-2.5-5.4 7.2-5.6 2.7z"/>
<path class="c27" d="M344.2 86.9l5.6-2.3-5.5 7.4-5.5 2.2z"/>
<path class="c25" d="M338.7 88.9l5.5-2-5.4 7.3-5.6 1.9z"/>
<path class="c23" d="M333.1 90.6l5.6-1.7-5.5 7.2-5.5 1.5z"/>
<path class="c21" d="M327.6 92.1l5.5-1.5-5.4 7-5.5 1.3z"/>
<path class="c19" d="M322.1 93.3l5.5-1.2-5.4 6.8-5.6 1z"/>
<path class="c18" d="M316.5 94.3l5.6-1-5.5 6.6-5.5 .8z"/>
<path class="c17" d="M311 95.1l5.5-.8-5.4 6.4-5.6 .7z"/>
<path class="c17" d="M305.4 95.7l5.6-.6-5.5 6.3-5.5 .5z"/>
<path class="c17" d="M299.9 96l5.5-.3-5.4 6.2-5.5 .3z"/>
<path class="c35" d="M515.9 74l5.5-.2-5.4 11-5.6 .2z"/>
<path class="c35" d="M510.3 74l5.6 0-5.5 11-5.5 0z"/>
<path class="c36" d="M504.8 73.9l5.5 .1-5.4 11-5.6-.2z"/>
<path class="c37" d="M499.3 73.5l5.5 .4-5.5 10.9-5.5-.4z"/>
<path class="c38" d="M493.7 73l5.6 .5-5.5 10.9-5.5-.7z"/>
<path class="c39" d="M488.2 72.3l5.5 .7-5.4 10.7-5.6-.9z"/>
<path class="c41" d="M482.6 71.5l5.6 .8-5.5 10.5-5.5-1.1z"/>
<path class="c43" d="M477.1 70.5l5.5 1-5.4 10.2-5.6-1.4z"/>
<path class="c45" d="M471.6 69.4l5.5 1.1-5.5 9.8-5.5-1.7z"/>
<path class="c47" d="M466 68.2l5.6 1.2-5.5 9.2-5.5-2z"/>
<path class="c50" d="M460.5 67l5.5 1.2-5.4 8.4-5.6-2.1z"/>
<path class="c52" d="M454.9 65.7l5.6 1.3-5.5 7.5-5.5-2.4z"/>
<path class="c55" d="M449.4 64.4l5.5 1.3-5.4 6.4-5.6-2.4z"/>
<path class="c57" d="M443.9 63.3l5.5 1.1-5.5 5.3-5.5-2.4z"/>
<path class="c59" d="M438.3 62.2l5.6 1.1-5.5 4-5.5-2.3z"/>
<path class="c61" d="M432.8 61.4l5.5 .8-5.4 2.8-5.6-2z"/>
<path class="c62" d="M427.2 60.7l5.6 .7-5.5 1.6-5.5-1.6z"/>
<path class="c63" d="M421.7 60.4l5.5 .3-5.4 .7-5.6-1.1z"/>
<path class="c63" d="M416.2 60.4l5.5 0-5.5-.1-5.5-.4z"/>
<path class="c63" d="M410.6 60.6l5.6-.2-5.5-.5-5.5 .3z"/>
<path class="c63" d="M405.1 61.3l5.5-.7-5.4-.4-5.6 1z"/>
<path class="c62" d="M399.5 62.2l5.6-.9-5.5-.1-5.5 1.6z"/>
<path class="c61" d="M394 63.4l5.5-1.2-5.4 .6-5.6 2.2z"/>
<path class="c59" d="M388.5 64.8l5.5-1.4-5.5 1.6-5.5 2.6z"/>
<path class="c57" d="M382.9 66.4l5.6-1.6-5.5 2.8-5.5 2.8z"/>
<path class="c55" d="M377.4 68.2l5.5-1.8-5.4 4-5.6 3z"/>
<path class="c52" d="M371.8 70l5.6-1.8-5.5 5.2-5.5 3.1z"/>
<path class="c50" d="M366.3 71.9l5.5-1.9-5.4 6.5-5.6 2.9z"/>
<path class="c47" d="M360.8 73.7l5.5-1.8-5.5 7.5-5.5 2.7z"/>
<path class="c45" d="M355.2 75.5l5.6-1.8-5.5 8.4-5.5 2.5z"/>
<path class="c43" d="M349.7 77.2l5.5-1.7-5.4 9.1-5.6 2.3z"/>
<path class="c41" d="M344.1 78.7l5.6-1.5-5.5 9.7-5.5 2z"/>
<path class="c39" d="M338.6 80.1l5.5-1.4-5.4 10.2-5.6 1.7z"/>
<path class="c38" d="M333.1 81.4l5.5-1.3-5.5 10.5-5.5 1.5z"/>
<path class="c37" d="M327.5 82.4l5.6-1-5.5 10.7-5.5 1.2z"/>
<path class="c36" d="M322 83.4l5.5-1-5.4 10.9-5.6 1z"/>
<path class="c35" d="M316.4 84.1l5.6-.7-5.5 10.9-5.5 .8z"/>
<path class="c35" d="M310.9 84.6l5.5-.5-5.4 11-5.6 .6z"/>
<path class="c34" d="M305.4 85l5.5-.4-5.5 11.1-5.5 .3z"/>
<path class="c54" d="M521.3 61.6l5.6-.3-5.5 12.5-5.5 .2z"/>
<path class="c55" d="M515.8 61.8l5.5-.2-5.4 12.4-5.6 0z"/>
<path class="c55" d="M510.2 61.9l5.6-.1-5.5 12.2-5.5-.1z"/>
<path class="c55" d="M504.7 61.9l5.5 0-5.4 12-5.5-.4z"/>
<path class="c56" d="M499.2 61.9l5.5 0-5.4 11.6-5.6-.5z"/>
<path class="c56" d="M493.6 61.8l5.6 .1-5.5 11.1-5.5-.7z"/>
<path class="c57" d="M488.1 61.7l5.5 .1-5.4 10.5-5.6-.8z"/>
<path class="c57" d="M482.5 61.6l5.6 .1-5.5 9.8-5.5-1z"/>
<path class="c58" d="M477 61.4l5.5 .2-5.4 8.9-5.5-1.1z"/>
<path class="c59" d="M471.5 61.2l5.5 .2-5.4 8-5.6-1.2z"/>
<path class="c60" d="M465.9 61l5.6 .2-5.5 7-5.5-1.2z"/>
<path class="c60" d="M460.4 60.8l5.5 .2-5.4 6-5.6-1.3z"/>
<path class="c61" d="M454.8 60.7l5.6 .1-5.5 4.9-5.5-1.3z"/>
<path class="c62" d="M449.3 60.5l5.5 .2-5.4 3.7-5.5-1.1z"/>
<path class="c62" d="M443.8 60.5l5.5 0-5.4 2.8-5.6-1.1z"/>
<path class="c63" d="M438.2 60.4l5.6 .1-5.5 1.7-5.5-.8z"/>
<path class="c63" d="M432.7 60.5l5.5-.1-5.4 1-5.6-.7z"/>
<path class="c63" d="M427.1 60.6l5.6-.1-5.5 .2-5.5-.3z"/>
<path class="c63" d="M421.6 60.8l5.5-.2-5.4-.2-5.5 0z"/>
<path class="c63" d="M416.1 61.1l5.5-.3-5.4-.4-5.6 .2z"/>
<path class="c63" d="M410.5 61.5l5.6-.4-5.5-.5-5.5 .7z"/>
<path class="c63" d="M405 61.9l5.5-.4-5.4-.2-5.6 .9z"/>
<path class="c63" d="M399.4 62.4l5.6-.5-5.5 .3-5.5 1.2z"/>
<path class="c62" d="M393.9 63l5.5-.6-5.4 1-5.5 1.4z"/>
<path class="c62" d="M388.4 63.7l5.5-.7-5.4 1.8-5.6 1.6z"/>
<path class="c61" d="M382.8 64.4l5.6-.7-5.5 2.7-5.5 1.8z"/>
<path class="c60" d="M377.3 65.1l5.5-.7-5.4 3.8-5.6 1.8z"/>
<path class="c60" d="M371.7 65.9l5.6-.8-5.5 4.9-5.5 1.9z"/>
<path class="c59" d="M366.2 66.7l5.5-.8-5.4 6-5.5 1.8z"/>
<path class="c58" d="M360.7 67.4l5.5-.7-5.4 7-5.6 1.8z"/>
<path class="c57" d="M355.1 68.2l5.6-.8-5.5 8.1-5.5 1.7z"/>
<path class="c57" d="M349.6 68.9l5.5-.7-5.4 9-5.6 1.5z"/>
<path class="c56" d="M344 69.6l5.6-.7-5.5 9.8-5.5 1.4z"/>
<path class="c56" d="M338.5 70.3l5.5-.7-5.4 10.5-5.5 1.3z"/>
<path class="c55" d="M333 70.8l5.5-.5-5.4 11.1-5.6 1z"/>
<path class="c55" d="M327.4 71.4l5.6-.6-5.5 11.6-5.5 1z"/>
<path class="c55" d="M321.9 71.8l5.5-.4-5.4 12-5.6 .7z"/>
<path class="c54" d="M316.3 72.2l5.6-.4-5.5 12.3-5.5 .5z"/>
<path class="c54" d="M310.8 72.6l5.5-.4-5.4 12.4-5.5 .4z"/>
<path class="c63" d="M526.8 56.1l5.5-.3-5.4 5.5-5.6 .3z"/>
<path class="c63" d="M521.2 56.4l5.6-.3-5.5 5.5-5.5 .2z"/>
<path class="c63" d="M515.7 56.7l5.5-.3-5.4 5.4-5.6 .1z"/>
<path class="c63" d="M510.2 57l5.5-.3-5.5 5.2-5.5 0z"/>
<path class="c63" d="M504.6 57.3l5.6-.3-5.5 4.9-5.5 0z"/>
<path class="c63" d="M499.1 57.5l5.5-.2-5.4 4.6-5.6-.1z"/>
<path class="c63" d="M493.5 57.8l5.6-.3-5.5 4.3-5.5-.1z"/>
<path class="c63" d="M488 58.1l5.5-.3-5.4 3.9-5.6-.1z"/>
<path class="c63" d="M482.5 58.4l5.5-.3-5.5 3.5-5.5-.2z"/>
<path class="c63" d="M476.9 58.7l5.6-.3-5.5 3-5.5-.2z"/>
<path class="c63" d="M471.4 59l5.5-.3-5.4 2.5-5.6-.2z"/>
<path class="c63" d="M465.8 59.3l5.6-.3-5.5 2-5.5-.2z"/>
<path class="c63" d="M460.3 59.6l5.5-.3-5.4 1.5-5.6-.1z"/>
<path class="c63" d="M454.8 59.8l5.5-.2-5.5 1.1-5.5-.2z"/>
<path class="c63" d="M449.2 60.1l5.6-.3-5.5 .7-5.5 0z"/>
<path class="c63" d="M443.7 60.4l5.5-.3-5.4 .4-5.6-.1z"/>
<path class="c63" d="M438.1 60.7l5.6-.3-5.5 0-5.5 .1z"/>
<path class="c63" d="M432.6 61l5.5-.3-5.4-.2-5.6 .1z"/>
<path class="c63" d="M427.1 61.3l5.5-.3-5.5-.4-5.5 .2z"/>
<path class="c63" d="M421.5 61.6l5.6-.3-5.5-.5-5.5 .3z"/>
<path class="c63" d="M416 61.9l5.5-.3-5.4-.5-5.6 .4z"/>
<path class="c63" d="M410.4 62.1l5.6-.2-5.5-.4-5.5 .4z"/>
<path class="c63" d="M404.9 62.4l5.5-.3-5.4-.2-5.6 .5z"/>
<path class="c63" d="M399.4 62.7l5.5-.3-5.5 0-5.5 .6z"/>
<path class="c63" d="M393.8 63l5.6-.3-5.5 .3-5.5 .7z"/>
<path class="c63" d="M388.3 63.3l5.5-.3-5.4 .7-5.6 .7z"/>
<path class="c63" d="M382.7 63.6l5.6-.3-5.5 1.1-5.5 .7z"/>
<path class="c63" d="M377.2 63.9l5.5-.3-5.4 1.5-5.6 .8z"/>
<path class="c63" d="M371.7 64.2l5.5-.3-5.5 2-5.5 .8z"/>
<path class="c63" d="M366.1 64.4l5.6-.2-5.5 2.5-5.5 .7z"/>
<path class="c63" d="M360.6 64.7l5.5-.3-5.4 3-5.6 .8z"/>
<path class="c63" d="M355 65l5.6-.3-5.5 3.5-5.5 .7z"/>
<path class="c63" d="M349.5 65.3l5.5-.3-5.4 3.9-5.6 .7z"/>
<path class="c63" d="M344 65.6l5.5-.3-5.5 4.3-5.5 .7z"/>
<path class="c63" d="M338.4 65.9l5.6-.3-5.5 4.7-5.5 .5z"/>
<path class="c63" d="M332.9 66.2l5.5-.3-5.4 4.9-5.6 .6z"/>
<path class="c63" d="M327.3 66.5l5.6-.3-5.5 5.2-5.5 .4z"/>
<path class="c63" d="M321.8 66.8l5.5-.3-5.4 5.3-5.6 .4z"/>
<path class="c63" d="M316.3 67l5.5-.2-5.5 5.4-5.5 .4z"/>
</g>
<g filter="url(#t)">
<line class="a" x1="277.0" y1="110.9" x2="552.1" y2="96.6"/>
<line class="a" x1="277.0" y1="110.9" x2="64.4" y2="92.0"/>
<line class="a" x1="64.4" y1="92.0" x2="64.4" y2="50.2"/>
<line class="a" x1="277.0" y1="110.9" x2="283.5" y2="111.5"/>
<text class="t" x="287.4" y="126.0">0.5</text>
<line class="a" x1="345.8" y1="107.3" x2="352.2" y2="107.9"/>
<text class="t" x="356.2" y="122.4">1</text>
<line class="a" x1="414.6" y1="103.8" x2="421.0" y2="104.3"/>
<text class="t" x="424.9" y="118.8">1.5</text>
<line class="a" x1="483.3" y1="100.2" x2="489.8" y2="100.8"/>
<text class="t" x="493.7" y="115.3">2</text>
<line class="a" x1="552.1" y1="96.6" x2="558.6" y2="97.2"/>
<text class="t" x="562.5" y="111.7">2.5</text>
<line class="a" x1="277.0" y1="110.9" x2="270.5" y2="111.2"/>
<text class="t" text-anchor="end" x="265.5" y="126.3">0</text>
<line class="a" x1="209.3" y1="104.9" x2="202.8" y2="105.2"/>
<text class="t" text-anchor="end" x="197.8" y="120.3">1</text>
<line class="a" x1="141.7" y1="98.9" x2="135.2" y2="99.2"/>
<text class="t" text-anchor="end" x="130.2" y="114.3">2</text>
<line class="a" x1="74.0" y1="92.9" x2="67.5" y2="93.2"/>
<text class="t" text-anchor="end" x="62.5" y="108.3">3</text>
<line class="a" x1="64.4" y1="79.0" x2="57.4" y2="79.0"/>
<text class="t" text-anchor="end" x="54.1" y="83.6">0.5</text>
<line class="a" x1="64.4" y1="50.2" x2="57.4" y2="50.2"/>
<text class="t" text-anchor="end" x="54.1" y="54.8">1</text>
<text class="h" text-anchor="middle" x="308.5" y="24.0">Normal Cells (u<tspan font-size="10.6px" dy="6.3" dx="0.6">0</tspan><tspan dy="-6.3">)</tspan></text>
<text class="l" text-anchor="middle" x="388.5" y="145.5">x</text>
<text class="l" text-anchor="middle" x="189" y="145.5">y</text>
<text class="l" text-anchor="middle" transform="translate(23.8 71.5) rotate(-90)" style="font-size:14.3px">u<tspan font-size="10.8px" dy="5.5" dx="0.5">0</tspan></text>
</g>
<g>
<line class="g" x1="64.4" y1="234.3" x2="339.5" y2="220.0"/>
<line class="g" x1="339.5" y1="220.0" x2="552.1" y2="238.9"/>
<line class="g" x1="64.4" y1="213.0" x2="339.5" y2="198.7"/>
<line class="g" x1="339.5" y1="198.7" x2="552.1" y2="217.6"/>
<line class="g" x1="64.4" y1="191.6" x2="339.5" y2="177.3"/>
<line class="g" x1="339.5" y1="177.3" x2="552.1" y2="196.2"/>
<line class="g" x1="277.0" y1="253.2" x2="64.4" y2="234.3"/>
<line class="g" x1="64.4" y1="234.3" x2="64.4" y2="191.6"/>
<line class="g" x1="345.8" y1="249.6" x2="133.2" y2="230.7"/>
<line class="g" x1="133.2" y1="230.7" x2="133.2" y2="188.0"/>
<line class="g" x1="414.6" y1="246.1" x2="202.0" y2="227.2"/>
<line class="g" x1="202.0" y1="227.2" x2="202.0" y2="184.5"/>
<line class="g" x1="483.3" y1="242.5" x2="270.7" y2="223.6"/>
<line class="g" x1="270.7" y1="223.6" x2="270.7" y2="180.9"/>
<line class="g" x1="552.1" y1="238.9" x2="339.5" y2="220.0"/>
<line class="g" x1="339.5" y1="220.0" x2="339.5" y2="177.3"/>
<line class="g" x1="277.0" y1="253.2" x2="552.1" y2="238.9"/>
<line class="g" x1="552.1" y1="238.9" x2="552.1" y2="196.2"/>
<line class="g" x1="209.3" y1="247.2" x2="484.4" y2="232.9"/>
<line class="g" x1="484.4" y1="232.9" x2="484.4" y2="190.2"/>
<line class="g" x1="141.7" y1="241.2" x2="416.8" y2="226.9"/>
<line class="g" x1="416.8" y1="226.9" x2="416.8" y2="184.2"/>
<line class="g" x1="74.0" y1="235.2" x2="349.1" y2="220.9"/>
<line class="g" x1="349.1" y1="220.9" x2="349.1" y2="178.2"/>
</g>
<g filter="url(#b)">
<path class="c1" d="M192.2 227.7l5.6 0-5.5 0-5.5 .2z"/>
<path class="c1" d="M186.7 227.6l5.5 .1-5.4 .2-5.6 .3z"/>
<path class="c2" d="M181.1 227.5l5.6 .1-5.5 .6-5.5 .3z"/>
<path class="c3" d="M175.6 227.4l5.5 .1-5.4 1-5.6 .3z"/>
<path class="c3" d="M170.1 227.2l5.5 .2-5.5 1.4-5.5 .3z"/>
<path class="c4" d="M164.5 227.1l5.6 .1-5.5 1.9-5.5 .3z"/>
<path class="c5" d="M159 226.9l5.5 .2-5.4 2.3-5.6 .3z"/>
<path class="c6" d="M153.4 226.7l5.6 .2-5.5 2.8-5.5 .3z"/>
<path class="c6" d="M147.9 226.6l5.5 .1-5.4 3.3-5.6 .2z"/>
<path class="c7" d="M142.4 226.5l5.5 .1-5.5 3.6-5.5 .3z"/>
<path class="c7" d="M136.8 226.5l5.6 0-5.5 4-5.5 .3z"/>
<path class="c8" d="M131.3 226.5l5.5 0-5.4 4.3-5.6 .3z"/>
<path class="c8" d="M125.7 226.5l5.6 0-5.5 4.6-5.5 .3z"/>
<path class="c9" d="M120.2 226.7l5.5-.2-5.4 4.9-5.6 .3z"/>
<path class="c9" d="M114.7 226.8l5.5-.1-5.5 5-5.5 .3z"/>
<path class="c9" d="M109.1 227.1l5.6-.3-5.5 5.2-5.5 .3z"/>
<path class="c2" d="M203.2 226.8l5.5 .6-5.4 .2-5.5 .1z"/>
<path class="c4" d="M197.7 226l5.5 .8-5.4 .9-5.6 0z"/>
<path class="c6" d="M192.1 225.1l5.6 .9-5.5 1.7-5.5-.1z"/>
<path class="c9" d="M186.6 224l5.5 1.1-5.4 2.5-5.6-.1z"/>
<path class="c11" d="M181 222.8l5.6 1.2-5.5 3.5-5.5-.1z"/>
<path class="c13" d="M175.5 221.6l5.5 1.2-5.4 4.6-5.5-.2z"/>
<path class="c16" d="M170 220.4l5.5 1.2-5.4 5.6-5.6-.1z"/>
<path class="c18" d="M164.4 219.3l5.6 1.1-5.5 6.7-5.5-.2z"/>
<path class="c20" d="M158.9 218.3l5.5 1-5.4 7.6-5.6-.2z"/>
<path class="c22" d="M153.3 217.3l5.6 1-5.5 8.4-5.5-.1z"/>
<path class="c24" d="M147.8 216.5l5.5 .8-5.4 9.3-5.5-.1z"/>
<path class="c25" d="M142.3 215.9l5.5 .6-5.4 10-5.6 0z"/>
<path class="c27" d="M136.7 215.4l5.6 .5-5.5 10.6-5.5 0z"/>
<path class="c28" d="M131.2 215.1l5.5 .3-5.4 11.1-5.6 0z"/>
<path class="c28" d="M125.6 215l5.6 .1-5.5 11.4-5.5 .2z"/>
<path class="c29" d="M120.1 215l5.5 0-5.4 11.7-5.5 .1z"/>
<path class="c29" d="M114.6 215.2l5.5-.2-5.4 11.8-5.6 .3z"/>
<path class="c9" d="M203.1 223.5l5.6 1.8-5.5 1.5-5.5-.8z"/>
<path class="c13" d="M197.6 221.3l5.5 2.2-5.4 2.5-5.6-.9z"/>
<path class="c17" d="M192 219l5.6 2.3-5.5 3.8-5.5-1.1z"/>
<path class="c22" d="M186.5 216.7l5.5 2.3-5.4 5-5.6-1.2z"/>
<path class="c26" d="M181 214.4l5.5 2.3-5.5 6.1-5.5-1.2z"/>
<path class="c30" d="M175.4 212.4l5.6 2-5.5 7.2-5.5-1.2z"/>
<path class="c33" d="M169.9 210.5l5.5 1.9-5.4 8-5.6-1.1z"/>
<path class="c36" d="M164.3 208.8l5.6 1.7-5.5 8.8-5.5-1z"/>
<path class="c39" d="M158.8 207.5l5.5 1.3-5.4 9.5-5.6-1z"/>
<path class="c41" d="M153.3 206.3l5.5 1.2-5.5 9.8-5.5-.8z"/>
<path class="c43" d="M147.7 205.5l5.6 .8-5.5 10.2-5.5-.6z"/>
<path class="c45" d="M142.2 204.8l5.5 .7-5.4 10.4-5.6-.5z"/>
<path class="c46" d="M136.6 204.4l5.6 .4-5.5 10.6-5.5-.3z"/>
<path class="c47" d="M131.1 204.2l5.5 .2-5.4 10.7-5.6-.1z"/>
<path class="c47" d="M125.6 204.2l5.5 0-5.5 10.8-5.5 0z"/>
<path class="c47" d="M120 204.4l5.6-.2-5.5 10.8-5.5 .2z"/>
<path class="c21" d="M203 217.1l5.6 3.3-5.5 3.1-5.5-2.2z"/>
<path class="c27" d="M197.5 213.8l5.5 3.3-5.4 4.2-5.6-2.3z"/>
<path class="c32" d="M192 210.7l5.5 3.1-5.5 5.2-5.5-2.3z"/>
<path class="c37" d="M186.4 207.8l5.6 2.9-5.5 6-5.5-2.3z"/>
<path class="c42" d="M180.9 205.3l5.5 2.5-5.4 6.6-5.6-2z"/>
<path class="c46" d="M175.3 203.3l5.6 2-5.5 7.1-5.5-1.9z"/>
<path class="c49" d="M169.8 201.6l5.5 1.7-5.4 7.2-5.6-1.7z"/>
<path class="c52" d="M164.2 200.3l5.6 1.3-5.5 7.2-5.5-1.3z"/>
<path class="c54" d="M158.7 199.4l5.5 .9-5.4 7.2-5.5-1.2z"/>
<path class="c55" d="M153.2 198.7l5.5 .7-5.4 6.9-5.6-.8z"/>
<path class="c56" d="M147.6 198.3l5.6 .4-5.5 6.8-5.5-.7z"/>
<path class="c57" d="M142.1 198l5.5 .3-5.4 6.5-5.6-.4z"/>
<path class="c58" d="M136.5 198l5.6 0-5.5 6.4-5.5-.2z"/>
<path class="c58" d="M131 198l5.5 0-5.4 6.2-5.5 0z"/>
<path class="c58" d="M125.5 198.3l5.5-.3-5.4 6.2-5.6 .2z"/>
<path class="c63" d="M341.4 185.1l5.6-.3-5.5 2.2-5.5 .4z"/>
<path class="c62" d="M335.9 185.5l5.5-.4-5.4 2.3-5.5 .5z"/>
<path class="c62" d="M324.8 186.5l5.6-.5-5.5 2.5-5.5 .8z"/>
<path class="c41" d="M197.4 205.7l5.5 3.6-5.4 4.5-5.5-3.1z"/>
<path class="c47" d="M191.9 202.8l5.5 2.9-5.4 5-5.6-2.9z"/>
<path class="c51" d="M186.3 200.4l5.6 2.4-5.5 5-5.5-2.5z"/>
<path class="c54" d="M180.8 198.6l5.5 1.8-5.4 4.9-5.6-2z"/>
<path class="c57" d="M175.2 197.3l5.6 1.3-5.5 4.7-5.5-1.7z"/>
<path class="c59" d="M169.7 196.4l5.5 .9-5.4 4.3-5.6-1.3z"/>
<path class="c60" d="M164.2 195.9l5.5 .5-5.5 3.9-5.5-.9z"/>
<path class="c62" d="M153.1 195.5l5.5 .1-5.4 3.1-5.6-.4z"/>
<path class="c62" d="M147.5 195.5l5.6 0-5.5 2.8-5.5-.3z"/>
<path class="c62" d="M142 195.6l5.5-.1-5.4 2.5-5.6 0z"/>
<path class="c63" d="M136.5 195.8l5.5-.2-5.5 2.4-5.5 0z"/>
<path class="c63" d="M130.9 196.1l5.6-.3-5.5 2.2-5.5 .3z"/>
<path class="c63" d="M346.9 185.1l5.5-.3-5.4 0-5.6 .3z"/>
<path class="c63" d="M341.4 185.4l5.5-.3-5.5 0-5.5 .4z"/>
<path class="c63" d="M335.8 185.7l5.6-.3-5.5 .1-5.5 .5z"/>
<path class="c63" d="M330.3 186l5.5-.3-5.4 .3-5.6 .5z"/>
<path class="c63" d="M324.7 186.4l5.6-.4-5.5 .5-5.5 .7z"/>
<path class="c63" d="M319.2 187l5.5-.6-5.4 .8-5.6 .9z"/>
<path class="c62" d="M313.7 187.7l5.5-.7-5.5 1.1-5.5 1.1z"/>
<path class="c61" d="M308.1 188.7l5.6-1-5.5 1.5-5.5 1.5z"/>
<path class="c59" d="M302.6 190.1l5.5-1.4-5.4 2-5.6 1.9z"/>
<path class="c56" d="M297 192l5.6-1.9-5.5 2.5-5.5 2.3z"/>
<path class="c53" d="M291.5 194.6l5.5-2.6-5.4 2.9-5.6 3z"/>
<path class="c48" d="M286 197.9l5.5-3.3-5.5 3.3-5.5 3.5z"/>
<path class="c41" d="M280.4 202l5.6-4.1-5.5 3.5-5.5 4.1z"/>
<path class="c34" d="M274.9 206.9l5.5-4.9-5.4 3.5-5.6 4.6z"/>
<path class="c63" d="M158.5 194.9l5.6-.1-5.5 .8-5.5-.1z"/>
<path class="c63" d="M153 195.2l5.5-.3-5.4 .6-5.6 0z"/>
<path class="c63" d="M147.5 195.4l5.5-.2-5.5 .3-5.5 .1z"/>
<path class="c63" d="M141.9 195.7l5.6-.3-5.5 .2-5.5 .2z"/>
<path class="c63" d="M136.4 196l5.5-.3-5.4 .1-5.6 .3z"/>
<path class="c63" d="M352.3 185.9l5.6-.3-5.5-.8-5.5 .3z"/>
<path class="c63" d="M346.8 186.1l5.5-.2-5.4-.8-5.5 .3z"/>
<path class="c63" d="M341.3 186.3l5.5-.2-5.4-.7-5.6 .3z"/>
<path class="c63" d="M335.7 186.5l5.6-.2-5.5-.6-5.5 .3z"/>
<path class="c63" d="M330.2 186.7l5.5-.2-5.4-.5-5.6 .4z"/>
<path class="c63" d="M324.6 187l5.6-.3-5.5-.3-5.5 .6z"/>
<path class="c63" d="M319.1 187.4l5.5-.4-5.4 0-5.5 .7z"/>
<path class="c63" d="M313.6 188.1l5.5-.7-5.4 .3-5.6 1z"/>
<path class="c61" d="M308 189.1l5.6-1-5.5 .6-5.5 1.4z"/>
<path class="c60" d="M302.5 190.6l5.5-1.5-5.4 1-5.6 1.9z"/>
<path class="c56" d="M296.9 192.7l5.6-2.1-5.5 1.4-5.5 2.6z"/>
<path class="c52" d="M291.4 195.7l5.5-3-5.4 1.9-5.5 3.3z"/>
<path class="c46" d="M285.9 199.7l5.5-4-5.4 2.2-5.6 4.1z"/>
<path class="c38" d="M280.3 204.6l5.6-4.9-5.5 2.3-5.5 4.9z"/>
<path class="c63" d="M175.1 194.8l5.5-.2-5.4 .3-5.6-.2z"/>
<path class="c63" d="M169.5 195.1l5.6-.3-5.5-.1-5.5 .1z"/>
<path class="c63" d="M164 195.4l5.5-.3-5.4-.3-5.6 .1z"/>
<path class="c63" d="M158.4 195.8l5.6-.4-5.5-.5-5.5 .3z"/>
<path class="c63" d="M152.9 196.2l5.5-.4-5.4-.6-5.5 .2z"/>
<path class="c63" d="M147.4 196.6l5.5-.4-5.4-.8-5.6 .3z"/>
<path class="c63" d="M141.8 196.9l5.6-.3-5.5-.9-5.5 .3z"/>
<path class="c62" d="M357.8 187l5.5-.3-5.4-1.1-5.6 .3z"/>
<path class="c62" d="M352.3 187.1l5.5-.1-5.5-1.1-5.5 .2z"/>
<path class="c62" d="M346.7 187.3l5.6-.2-5.5-1-5.5 .2z"/>
<path class="c63" d="M341.2 187.3l5.5 0-5.4-1-5.6 .2z"/>
<path class="c63" d="M335.6 187.4l5.6-.1-5.5-.8-5.5 .2z"/>
<path class="c63" d="M330.1 187.5l5.5-.1-5.4-.7-5.6 .3z"/>
<path class="c63" d="M324.6 187.8l5.5-.3-5.5-.5-5.5 .4z"/>
<path class="c63" d="M319 188.2l5.6-.4-5.5-.4-5.5 .7z"/>
<path class="c63" d="M313.5 188.9l5.5-.7-5.4-.1-5.6 1z"/>
<path class="c61" d="M307.9 190.1l5.6-1.2-5.5 .2-5.5 1.5z"/>
<path class="c59" d="M302.4 191.9l5.5-1.8-5.4 .5-5.6 2.1z"/>
<path class="c55" d="M296.9 194.6l5.5-2.7-5.5 .8-5.5 3z"/>
<path class="c49" d="M291.3 198.4l5.6-3.8-5.5 1.1-5.5 4z"/>
<path class="c41" d="M285.8 203.3l5.5-4.9-5.4 1.3-5.6 4.9z"/>
<path class="c32" d="M280.2 209.2l5.6-5.9-5.5 1.3-5.5 5.8z"/>
<path class="c63" d="M186.1 195l5.5-.2-5.5-.1-5.5-.1z"/>
<path class="c63" d="M180.5 195.3l5.6-.3-5.5-.4-5.5 .2z"/>
<path class="c63" d="M175 195.8l5.5-.5-5.4-.5-5.6 .3z"/>
<path class="c63" d="M169.4 196.3l5.6-.5-5.5-.7-5.5 .3z"/>
<path class="c62" d="M163.9 196.8l5.5-.5-5.4-.9-5.6 .4z"/>
<path class="c62" d="M158.4 197.2l5.5-.4-5.5-1-5.5 .4z"/>
<path class="c62" d="M152.8 197.6l5.6-.4-5.5-1-5.5 .4z"/>
<path class="c62" d="M147.3 198l5.5-.4-5.4-1-5.6 .3z"/>
<path class="c61" d="M363.2 187.9l5.6-.3-5.5-.9-5.5 .3z"/>
<path class="c61" d="M357.7 188l5.5-.1-5.4-.9-5.5 .1z"/>
<path class="c62" d="M352.2 188.1l5.5-.1-5.4-.9-5.6 .2z"/>
<path class="c62" d="M346.6 188.1l5.6 0-5.5-.8-5.5 0z"/>
<path class="c63" d="M341.1 188.1l5.5 0-5.4-.8-5.6 .1z"/>
<path class="c63" d="M335.5 188.2l5.6-.1-5.5-.7-5.5 .1z"/>
<path class="c63" d="M330 188.3l5.5-.1-5.4-.7-5.5 .3z"/>
<path class="c63" d="M324.5 188.6l5.5-.3-5.4-.5-5.6 .4z"/>
<path class="c63" d="M318.9 189.1l5.6-.5-5.5-.4-5.5 .7z"/>
<path class="c62" d="M313.4 190.1l5.5-1-5.4-.2-5.6 1.2z"/>
<path class="c60" d="M307.8 191.8l5.6-1.7-5.5 0-5.5 1.8z"/>
<path class="c56" d="M302.3 194.3l5.5-2.5-5.4 .1-5.5 2.7z"/>
<path class="c51" d="M296.8 197.9l5.5-3.6-5.4 .3-5.6 3.8z"/>
<path class="c43" d="M291.2 202.8l5.6-4.9-5.5 .5-5.5 4.9z"/>
<path class="c34" d="M285.7 208.7l5.5-5.9-5.4 .5-5.6 5.9z"/>
<path class="c63" d="M202.6 195.2l5.5 .4-5.4 0-5.6-.6z"/>
<path class="c63" d="M197 195.2l5.6 0-5.5-.2-5.5-.2z"/>
<path class="c63" d="M191.5 195.5l5.5-.3-5.4-.4-5.5 .2z"/>
<path class="c63" d="M186 195.9l5.5-.4-5.4-.5-5.6 .3z"/>
<path class="c63" d="M180.4 196.5l5.6-.6-5.5-.6-5.5 .5z"/>
<path class="c62" d="M174.9 197.1l5.5-.6-5.4-.7-5.6 .5z"/>
<path class="c62" d="M169.3 197.6l5.6-.5-5.5-.8-5.5 .5z"/>
<path class="c61" d="M163.8 198.1l5.5-.5-5.4-.8-5.5 .4z"/>
<path class="c61" d="M158.3 198.5l5.5-.4-5.4-.9-5.6 .4z"/>
<path class="c61" d="M152.7 198.9l5.6-.4-5.5-.9-5.5 .4z"/>
<path class="c61" d="M368.7 188.5l5.5-.3-5.4-.6-5.6 .3z"/>
<path class="c61" d="M363.2 188.6l5.5-.1-5.5-.6-5.5 .1z"/>
<path class="c62" d="M357.6 188.7l5.6-.1-5.5-.6-5.5 .1z"/>
<path class="c62" d="M352.1 188.7l5.5 0-5.4-.6-5.6 0z"/>
<path class="c63" d="M346.5 188.7l5.6 0-5.5-.6-5.5 0z"/>
<path class="c63" d="M341 188.7l5.5 0-5.4-.6-5.6 .1z"/>
<path class="c63" d="M335.5 188.8l5.5-.1-5.5-.5-5.5 .1z"/>
<path class="c63" d="M329.9 189l5.6-.2-5.5-.5-5.5 .3z"/>
<path class="c63" d="M324.4 189.6l5.5-.6-5.4-.4-5.6 .5z"/>
<path class="c62" d="M318.8 190.6l5.6-1-5.5-.5-5.5 1z"/>
<path class="c60" d="M313.3 192.2l5.5-1.6-5.4-.5-5.6 1.7z"/>
<path class="c56" d="M307.8 194.6l5.5-2.4-5.5-.4-5.5 2.5z"/>
<path class="c51" d="M302.2 198.2l5.6-3.6-5.5-.3-5.5 3.6z"/>
<path class="c43" d="M296.7 203l5.5-4.8-5.4-.3-5.6 4.9z"/>
<path class="c34" d="M291.1 209l5.6-6-5.5-.2-5.5 5.9z"/>
<path class="c63" d="M208 195.6l5.6 .4-5.5-.4-5.5-.4z"/>
<path class="c63" d="M202.5 195.7l5.5-.1-5.4-.4-5.6 0z"/>
<path class="c63" d="M197 196l5.5-.3-5.5-.5-5.5 .3z"/>
<path class="c63" d="M191.4 196.5l5.6-.5-5.5-.5-5.5 .4z"/>
<path class="c63" d="M185.9 197l5.5-.5-5.4-.6-5.6 .6z"/>
<path class="c62" d="M180.3 197.6l5.6-.6-5.5-.5-5.5 .6z"/>
<path class="c62" d="M174.8 198.2l5.5-.6-5.4-.5-5.6 .5z"/>
<path class="c61" d="M169.3 198.7l5.5-.5-5.5-.6-5.5 .5z"/>
<path class="c61" d="M163.7 199.1l5.6-.4-5.5-.6-5.5 .4z"/>
<path class="c61" d="M158.2 199.5l5.5-.4-5.4-.6-5.6 .4z"/>
<path class="c62" d="M374.1 188.7l5.6-.3-5.5-.2-5.5 .3z"/>
<path class="c62" d="M368.6 188.8l5.5-.1-5.4-.2-5.5 .1z"/>
<path class="c62" d="M363.1 188.9l5.5-.1-5.4-.2-5.6 .1z"/>
<path class="c62" d="M357.5 189l5.6-.1-5.5-.2-5.5 0z"/>
<path class="c63" d="M352 189l5.5 0-5.4-.3-5.6 0z"/>
<path class="c63" d="M346.4 189.1l5.6-.1-5.5-.3-5.5 0z"/>
<path class="c63" d="M340.9 189.2l5.5-.1-5.4-.4-5.5 .1z"/>
<path class="c63" d="M335.4 189.6l5.5-.4-5.4-.4-5.6 .2z"/>
<path class="c63" d="M329.8 190.2l5.6-.6-5.5-.6-5.5 .6z"/>
<path class="c62" d="M324.3 191.3l5.5-1.1-5.4-.6-5.6 1z"/>
<path class="c59" d="M318.7 193l5.6-1.7-5.5-.7-5.5 1.6z"/>
<path class="c55" d="M313.2 195.6l5.5-2.6-5.4-.8-5.5 2.4z"/>
<path class="c50" d="M307.7 199.3l5.5-3.7-5.4-1-5.6 3.6z"/>
<path class="c42" d="M302.1 204.1l5.6-4.8-5.5-1.1-5.5 4.8z"/>
<path class="c33" d="M296.6 210.1l5.5-6-5.4-1.1-5.6 6z"/>
<path class="c62" d="M219 196.7l5.6 1.2-5.5-.8-5.5-1.1z"/>
<path class="c63" d="M213.5 196.2l5.5 .5-5.4-.7-5.6-.4z"/>
<path class="c63" d="M207.9 196.2l5.6 0-5.5-.6-5.5 .1z"/>
<path class="c63" d="M202.4 196.4l5.5-.2-5.4-.5-5.5 .3z"/>
<path class="c63" d="M196.9 196.8l5.5-.4-5.4-.4-5.6 .5z"/>
<path class="c63" d="M191.3 197.4l5.6-.6-5.5-.3-5.5 .5z"/>
<path class="c62" d="M185.8 197.9l5.5-.5-5.4-.4-5.6 .6z"/>
<path class="c62" d="M180.2 198.4l5.6-.5-5.5-.3-5.5 .6z"/>
<path class="c62" d="M174.7 198.9l5.5-.5-5.4-.2-5.5 .5z"/>
<path class="c62" d="M169.2 199.3l5.5-.4-5.4-.2-5.6 .4z"/>
<path class="c61" d="M163.6 199.7l5.6-.4-5.5-.2-5.5 .4z"/>
<path class="c62" d="M379.6 188.6l5.5-.2-5.4 0-5.6 .3z"/>
<path class="c63" d="M374.1 188.8l5.5-.2-5.5 .1-5.5 .1z"/>
<path class="c63" d="M368.5 189l5.6-.2-5.5 0-5.5 .1z"/>
<path class="c63" d="M363 189.1l5.5-.1-5.4-.1-5.6 .1z"/>
<path class="c63" d="M357.4 189.2l5.6-.1-5.5-.1-5.5 0z"/>
<path class="c63" d="M351.9 189.4l5.5-.2-5.4-.2-5.6 .1z"/>
<path class="c63" d="M346.4 189.7l5.5-.3-5.5-.3-5.5 .1z"/>
<path class="c63" d="M340.8 190.3l5.6-.6-5.5-.5-5.5 .4z"/>
<path class="c62" d="M335.3 191.1l5.5-.8-5.4-.7-5.6 .6z"/>
<path class="c60" d="M329.7 192.4l5.6-1.3-5.5-.9-5.5 1.1z"/>
<path class="c58" d="M324.2 194.4l5.5-2-5.4-1.1-5.6 1.7z"/>
<path class="c54" d="M318.7 197.2l5.5-2.8-5.5-1.4-5.5 2.6z"/>
<path class="c48" d="M313.1 201.1l5.6-3.9-5.5-1.6-5.5 3.7z"/>
<path class="c40" d="M307.6 206l5.5-4.9-5.4-1.8-5.6 4.8z"/>
<path class="c31" d="M302 211.9l5.6-5.9-5.5-1.9-5.5 6z"/>
<path class="c58" d="M230 199.3l5.6 2.3-5.5-1.7-5.5-2z"/>
<path class="c60" d="M224.5 197.9l5.5 1.4-5.4-1.4-5.6-1.2z"/>
<path class="c62" d="M218.9 197.2l5.6 .7-5.5-1.2-5.5-.5z"/>
<path class="c63" d="M213.4 196.9l5.5 .3-5.4-1-5.6 0z"/>
<path class="c63" d="M207.9 196.9l5.5 0-5.5-.7-5.5 .2z"/>
<path class="c63" d="M202.3 197.2l5.6-.3-5.5-.5-5.5 .4z"/>
<path class="c63" d="M196.8 197.6l5.5-.4-5.4-.4-5.6 .6z"/>
<path class="c63" d="M191.2 198l5.6-.4-5.5-.2-5.5 .5z"/>
<path class="c63" d="M185.7 198.5l5.5-.5-5.4-.1-5.6 .5z"/>
<path class="c63" d="M180.2 198.9l5.5-.4-5.5-.1-5.5 .5z"/>
<path class="c62" d="M174.6 199.3l5.6-.4-5.5 0-5.5 .4z"/>
<path class="c62" d="M169.1 199.6l5.5-.3-5.4 0-5.6 .4z"/>
<path class="c63" d="M385.1 188.6l5.5-.3-5.5 .1-5.5 .2z"/>
<path class="c63" d="M379.5 188.8l5.6-.2-5.5 0-5.5 .2z"/>
<path class="c63" d="M374 189.1l5.5-.3-5.4 0-5.6 .2z"/>
<path class="c63" d="M368.4 189.3l5.6-.2-5.5-.1-5.5 .1z"/>
<path class="c63" d="M362.9 189.6l5.5-.3-5.4-.2-5.6 .1z"/>
<path class="c63" d="M357.4 190l5.5-.4-5.5-.4-5.5 .2z"/>
<path class="c63" d="M351.8 190.6l5.6-.6-5.5-.6-5.5 .3z"/>
<path class="c62" d="M346.3 191.4l5.5-.8-5.4-.9-5.6 .6z"/>
<path class="c60" d="M340.7 192.6l5.6-1.2-5.5-1.1-5.5 .8z"/>
<path class="c58" d="M335.2 194.3l5.5-1.7-5.4-1.5-5.6 1.3z"/>
<path class="c55" d="M329.7 196.7l5.5-2.4-5.5-1.9-5.5 2z"/>
<path class="c50" d="M324.1 199.8l5.6-3.1-5.5-2.3-5.5 2.8z"/>
<path class="c44" d="M318.6 203.9l5.5-4.1-5.4-2.6-5.6 3.9z"/>
<path class="c36" d="M313 208.8l5.6-4.9-5.5-2.8-5.5 4.9z"/>
<path class="c50" d="M241 204.1l5.5 3.5-5.4-2.8-5.5-3.2z"/>
<path class="c55" d="M235.5 201.6l5.5 2.5-5.4-2.5-5.6-2.3z"/>
<path class="c58" d="M229.9 199.8l5.6 1.8-5.5-2.3-5.5-1.4z"/>
<path class="c60" d="M224.4 198.7l5.5 1.1-5.4-1.9-5.6-.7z"/>
<path class="c62" d="M218.8 198l5.6 .7-5.5-1.5-5.5-.3z"/>
<path class="c63" d="M213.3 197.8l5.5 .2-5.4-1.1-5.5 0z"/>
<path class="c63" d="M207.8 197.8l5.5 0-5.4-.9-5.6 .3z"/>
<path class="c63" d="M202.2 198l5.6-.2-5.5-.6-5.5 .4z"/>
<path class="c63" d="M196.7 198.3l5.5-.3-5.4-.4-5.6 .4z"/>
<path class="c63" d="M191.1 198.6l5.6-.3-5.5-.3-5.5 .5z"/>
<path class="c63" d="M185.6 198.9l5.5-.3-5.4-.1-5.5 .4z"/>
<path class="c63" d="M180.1 199.2l5.5-.3-5.4 0-5.6 .4z"/>
<path class="c63" d="M174.5 199.5l5.6-.3-5.5 .1-5.5 .3z"/>
<path class="c63" d="M390.5 189.1l5.5-.3-5.4-.5-5.5 .3z"/>
<path class="c63" d="M385 189.4l5.5-.3-5.4-.5-5.6 .2z"/>
<path class="c63" d="M379.4 189.8l5.6-.4-5.5-.6-5.5 .3z"/>
<path class="c63" d="M373.9 190.2l5.5-.4-5.4-.7-5.6 .2z"/>
<path class="c62" d="M368.3 190.7l5.6-.5-5.5-.9-5.5 .3z"/>
<path class="c62" d="M362.8 191.4l5.5-.7-5.4-1.1-5.5 .4z"/>
<path class="c61" d="M357.3 192.4l5.5-1-5.4-1.4-5.6 .6z"/>
<path class="c59" d="M351.7 193.6l5.6-1.2-5.5-1.8-5.5 .8z"/>
<path class="c57" d="M346.2 195.2l5.5-1.6-5.4-2.2-5.6 1.2z"/>
<path class="c54" d="M340.6 197.4l5.6-2.2-5.5-2.6-5.5 1.7z"/>
<path class="c50" d="M335.1 200.1l5.5-2.7-5.4-3.1-5.5 2.4z"/>
<path class="c45" d="M329.6 203.6l5.5-3.5-5.4-3.4-5.6 3.1z"/>
<path class="c38" d="M324 207.8l5.6-4.2-5.5-3.8-5.5 4.1z"/>
<path class="c31" d="M318.5 212.5l5.5-4.7-5.4-3.9-5.6 4.9z"/>
<path class="c45" d="M246.5 207.9l5.5 3.6-5.5-3.9-5.5-3.5z"/>
<path class="c50" d="M240.9 205l5.6 2.9-5.5-3.8-5.5-2.5z"/>
<path class="c54" d="M235.4 202.8l5.5 2.2-5.4-3.4-5.6-1.8z"/>
<path class="c57" d="M229.8 201.3l5.6 1.5-5.5-3-5.5-1.1z"/>
<path class="c59" d="M224.3 200.2l5.5 1.1-5.4-2.6-5.6-.7z"/>
<path class="c61" d="M218.8 199.6l5.5 .6-5.5-2.2-5.5-.2z"/>
<path class="c62" d="M213.2 199.2l5.6 .4-5.5-1.8-5.5 0z"/>
<path class="c62" d="M207.7 199.1l5.5 .1-5.4-1.4-5.6 .2z"/>
<path class="c63" d="M202.1 199.1l5.6 0-5.5-1.1-5.5 .3z"/>
<path class="c63" d="M196.6 199.3l5.5-.2-5.4-.8-5.6 .3z"/>
<path class="c63" d="M191.1 199.5l5.5-.2-5.5-.7-5.5 .3z"/>
<path class="c63" d="M185.5 199.7l5.6-.2-5.5-.6-5.5 .3z"/>
<path class="c63" d="M180 200l5.5-.3-5.4-.5-5.6 .3z"/>
<path class="c61" d="M396 191l5.5-.4-5.5-1.8-5.5 .3z"/>
<path class="c61" d="M390.4 191.4l5.6-.4-5.5-1.9-5.5 .3z"/>
<path class="c60" d="M384.9 192l5.5-.6-5.4-2-5.6 .4z"/>
<path class="c60" d="M379.3 192.6l5.6-.6-5.5-2.2-5.5 .4z"/>
<path class="c59" d="M373.8 193.5l5.5-.9-5.4-2.4-5.6 .5z"/>
<path class="c57" d="M368.3 194.6l5.5-1.1-5.5-2.8-5.5 .7z"/>
<path class="c56" d="M362.7 195.9l5.6-1.3-5.5-3.2-5.5 1z"/>
<path class="c53" d="M357.2 197.6l5.5-1.7-5.4-3.5-5.6 1.2z"/>
<path class="c51" d="M351.6 199.7l5.6-2.1-5.5-4-5.5 1.6z"/>
<path class="c47" d="M346.1 202.2l5.5-2.5-5.4-4.5-5.6 2.2z"/>
<path class="c42" d="M340.6 205.2l5.5-3-5.5-4.8-5.5 2.7z"/>
<path class="c37" d="M335 208.8l5.6-3.6-5.5-5.1-5.5 3.5z"/>
<path class="c31" d="M329.5 212.8l5.5-4-5.4-5.2-5.6 4.2z"/>
<path class="c47" d="M240.8 207.7l5.6 2.4-5.5-5.1-5.5-2.2z"/>
<path class="c51" d="M235.3 205.7l5.5 2-5.4-4.9-5.6-1.5z"/>
<path class="c53" d="M229.8 204.2l5.5 1.5-5.5-4.4-5.5-1.1z"/>
<path class="c56" d="M224.2 203.1l5.6 1.1-5.5-4-5.5-.6z"/>
<path class="c57" d="M218.7 202.3l5.5 .8-5.4-3.5-5.6-.4z"/>
<path class="c59" d="M213.1 201.9l5.6 .4-5.5-3.1-5.5-.1z"/>
<path class="c60" d="M207.6 201.6l5.5 .3-5.4-2.8-5.6 0z"/>
<path class="c60" d="M202.1 201.5l5.5 .1-5.5-2.5-5.5 .2z"/>
<path class="c61" d="M196.5 201.5l5.6 0-5.5-2.2-5.5 .2z"/>
<path class="c61" d="M191 201.6l5.5-.1-5.4-2-5.6 .2z"/>
<path class="c61" d="M185.4 201.9l5.6-.3-5.5-1.9-5.5 .3z"/>
<path class="c54" d="M401.4 195.9l5.5-.3-5.4-5-5.5 .4z"/>
<path class="c53" d="M395.9 196.5l5.5-.6-5.4-4.9-5.6 .4z"/>
<path class="c53" d="M390.3 197.2l5.6-.7-5.5-5.1-5.5 .6z"/>
<path class="c51" d="M384.8 198.1l5.5-.9-5.4-5.2-5.6 .6z"/>
<path class="c50" d="M379.2 199.3l5.6-1.2-5.5-5.5-5.5 .9z"/>
<path class="c48" d="M373.7 200.7l5.5-1.4-5.4-5.8-5.5 1.1z"/>
<path class="c46" d="M368.2 202.3l5.5-1.6-5.4-6.1-5.6 1.3z"/>
<path class="c43" d="M362.6 204.3l5.6-2-5.5-6.4-5.5 1.7z"/>
<path class="c40" d="M357.1 206.6l5.5-2.3-5.4-6.7-5.6 2.1z"/>
<path class="c36" d="M351.5 209.2l5.6-2.6-5.5-6.9-5.5 2.5z"/>
<path class="c32" d="M346 212.1l5.5-2.9-5.4-7-5.5 3z"/>
<path class="c27" d="M340.5 215.3l5.5-3.2-5.4-6.9-5.6 3.6z"/>
<path class="c40" d="M240.7 212.6l5.6 2.1-5.5-7-5.5-2z"/>
<path class="c43" d="M235.2 210.9l5.5 1.7-5.4-6.9-5.5-1.5z"/>
<path class="c46" d="M229.7 209.5l5.5 1.4-5.4-6.7-5.6-1.1z"/>
<path class="c48" d="M224.1 208.4l5.6 1.1-5.5-6.4-5.5-.8z"/>
<path class="c50" d="M218.6 207.6l5.5 .8-5.4-6.1-5.6-.4z"/>
<path class="c51" d="M213 207.1l5.6 .5-5.5-5.7-5.5-.3z"/>
<path class="c53" d="M207.5 206.7l5.5 .4-5.4-5.5-5.5-.1z"/>
<path class="c53" d="M202 206.6l5.5 .1-5.4-5.2-5.6 0z"/>
<path class="c54" d="M196.4 206.6l5.6 0-5.5-5.1-5.5 .1z"/>
<path class="c54" d="M190.9 206.8l5.5-.2-5.4-5-5.6 .3z"/>
<path class="c39" d="M406.9 205.5l5.5-.4-5.5-9.5-5.5 .3z"/>
<path class="c38" d="M401.3 206.1l5.6-.6-5.5-9.6-5.5 .6z"/>
<path class="c38" d="M395.8 206.9l5.5-.8-5.4-9.6-5.6 .7z"/>
<path class="c36" d="M390.2 207.8l5.6-.9-5.5-9.7-5.5 .9z"/>
<path class="c35" d="M384.7 209l5.5-1.2-5.4-9.7-5.6 1.2z"/>
<path class="c33" d="M379.2 210.4l5.5-1.4-5.5-9.7-5.5 1.4z"/>
<path class="c31" d="M373.6 212l5.6-1.6-5.5-9.7-5.5 1.6z"/>
<path class="c29" d="M368.1 213.8l5.5-1.8-5.4-9.7-5.6 2z"/>
<path class="c26" d="M362.5 215.8l5.6-2-5.5-9.5-5.5 2.3z"/>
<path class="c23" d="M357 217.9l5.5-2.1-5.4-9.2-5.6 2.6z"/>
<path class="c19" d="M351.5 220.2l5.5-2.3-5.5-8.7-5.5 2.9z"/>
<path class="c16" d="M345.9 222.5l5.6-2.3-5.5-8.1-5.5 3.2z"/>
<path class="c33" d="M229.6 218.2l5.5 1-5.4-9.7-5.6-1.1z"/>
<path class="c35" d="M224 217.4l5.6 .8-5.5-9.8-5.5-.8z"/>
<path class="c36" d="M218.5 216.8l5.5 .6-5.4-9.8-5.6-.5z"/>
<path class="c38" d="M213 216.4l5.5 .4-5.5-9.7-5.5-.4z"/>
<path class="c38" d="M207.4 216.1l5.6 .3-5.5-9.7-5.5-.1z"/>
<path class="c39" d="M201.9 216.1l5.5 0-5.4-9.5-5.6 0z"/>
<path class="c39" d="M196.3 216.3l5.6-.2-5.5-9.5-5.5 .2z"/>
<path class="c17" d="M395.7 220.4l5.5-.7-5.4-12.8-5.6 .9z"/>
<path class="c16" d="M390.1 221.2l5.6-.8-5.5-12.6-5.5 1.2z"/>
<path class="c15" d="M384.6 222.1l5.5-.9-5.4-12.2-5.5 1.4z"/>
<path class="c14" d="M379.1 223.2l5.5-1.1-5.4-11.7-5.6 1.6z"/>
<path class="c12" d="M373.5 224.3l5.6-1.1-5.5-11.2-5.5 1.8z"/>
<path class="c11" d="M368 225.4l5.5-1.1-5.4-10.5-5.6 2z"/>
<path class="c9" d="M362.4 226.6l5.6-1.2-5.5-9.6-5.5 2.1z"/>
<path class="c8" d="M356.9 227.9l5.5-1.3-5.4-8.7-5.5 2.3z"/>
<path class="c16" d="M229.5 229.6l5.5 .3-5.4-11.7-5.6-.8z"/>
<path class="c17" d="M223.9 229.3l5.6 .3-5.5-12.2-5.5-.6z"/>
<path class="c17" d="M218.4 229.2l5.5 .1-5.4-12.5-5.5-.4z"/>
<path class="c18" d="M212.9 229.1l5.5 .1-5.4-12.8-5.6-.3z"/>
<path class="c18" d="M207.3 229.2l5.6-.1-5.5-13-5.5 0z"/>
<path class="c18" d="M201.8 229.5l5.5-.3-5.4-13.1-5.6 .2z"/>
<path class="c1" d="M367.9 232.4l5.5-.4-5.4-6.6-5.6 1.2z"/>
<path class="c2" d="M223.9 239.2l5.5-.2-5.5-9.7-5.5-.1z"/>
<path class="c2" d="M218.3 239.4l5.6-.2-5.5-10-5.5-.1z"/>
<path class="c2" d="M212.8 239.7l5.5-.3-5.4-10.3-5.6 .1z"/>
<path class="c2" d="M207.2 240l5.6-.3-5.5-10.5-5.5 .3z"/>
<path class="c2" d="M218.2 240.2l5.6-.3-5.5-.5-5.5 .3z"/>
<path class="c2" d="M212.7 240.5l5.5-.3-5.4-.5-5.6 .3z"/>
<path class="c1" d="M306.8 236.8l5.5 .2-5.4 0-5.6 .2z"/>
<path class="c2" d="M301.2 236.5l5.6 .3-5.5 .4-5.5 .2z"/>
<path class="c3" d="M295.7 236l5.5 .5-5.4 .9-5.6 .2z"/>
<path class="c5" d="M290.2 235.5l5.5 .5-5.5 1.6-5.5 .2z"/>
<path class="c6" d="M284.6 234.8l5.6 .7-5.5 2.3-5.5 .2z"/>
<path class="c8" d="M279.1 234.2l5.5 .6-5.4 3.2-5.6 .2z"/>
<path class="c9" d="M273.5 233.6l5.6 .6-5.5 4-5.5 .1z"/>
<path class="c11" d="M268 232.9l5.5 .7-5.4 4.7-5.6 .2z"/>
<path class="c12" d="M262.5 232.3l5.5 .6-5.5 5.6-5.5 .2z"/>
<path class="c14" d="M256.9 231.8l5.6 .5-5.5 6.4-5.5 .2z"/>
<path class="c15" d="M251.4 231.4l5.5 .4-5.4 7.1-5.6 .1z"/>
<path class="c16" d="M245.8 231l5.6 .4-5.5 7.6-5.5 .2z"/>
<path class="c17" d="M240.3 230.8l5.5 .2-5.4 8.2-5.6 .3z"/>
<path class="c17" d="M234.8 230.6l5.5 .2-5.5 8.7-5.5 .2z"/>
<path class="c18" d="M229.2 230.6l5.6 0-5.5 9.1-5.5 .2z"/>
<path class="c18" d="M223.7 230.7l5.5-.1-5.4 9.3-5.6 .3z"/>
<path class="c18" d="M218.1 230.9l5.6-.2-5.5 9.5-5.5 .3z"/>
<path class="c4" d="M312.2 235.6l5.6 1-5.5 .4-5.5-.2z"/>
<path class="c7" d="M306.7 234.3l5.5 1.3-5.4 1.2-5.6-.3z"/>
<path class="c10" d="M301.1 232.7l5.6 1.6-5.5 2.2-5.5-.5z"/>
<path class="c13" d="M295.6 231l5.5 1.7-5.4 3.3-5.5-.5z"/>
<path class="c16" d="M290.1 229.3l5.5 1.7-5.4 4.5-5.6-.7z"/>
<path class="c19" d="M284.5 227.5l5.6 1.8-5.5 5.5-5.5-.6z"/>
<path class="c23" d="M279 225.8l5.5 1.7-5.4 6.7-5.6-.6z"/>
<path class="c26" d="M273.4 224.3l5.6 1.5-5.5 7.8-5.5-.7z"/>
<path class="c29" d="M267.9 222.9l5.5 1.4-5.4 8.6-5.5-.6z"/>
<path class="c31" d="M262.4 221.6l5.5 1.3-5.4 9.4-5.6-.5z"/>
<path class="c33" d="M256.8 220.6l5.6 1-5.5 10.2-5.5-.4z"/>
<path class="c35" d="M251.3 219.8l5.5 .8-5.4 10.8-5.6-.4z"/>
<path class="c36" d="M245.7 219.2l5.6 .6-5.5 11.2-5.5-.2z"/>
<path class="c38" d="M240.2 218.8l5.5 .4-5.4 11.6-5.5-.2z"/>
<path class="c38" d="M234.7 218.6l5.5 .2-5.4 11.8-5.6 0z"/>
<path class="c39" d="M229.1 218.6l5.6 0-5.5 12-5.5 .1z"/>
<path class="c39" d="M223.6 218.8l5.5-.2-5.4 12.1-5.6 .2z"/>
<path class="c17" d="M306.6 228.7l5.5 2.7-5.4 2.9-5.6-1.6z"/>
<path class="c22" d="M301.1 225.8l5.5 2.9-5.5 4-5.5-1.7z"/>
<path class="c27" d="M295.5 223l5.6 2.8-5.5 5.2-5.5-1.7z"/>
<path class="c32" d="M290 220.4l5.5 2.6-5.4 6.3-5.6-1.8z"/>
<path class="c36" d="M284.4 218.1l5.6 2.3-5.5 7.1-5.5-1.7z"/>
<path class="c40" d="M278.9 216l5.5 2.1-5.4 7.7-5.6-1.5z"/>
<path class="c43" d="M273.4 214.3l5.5 1.7-5.5 8.3-5.5-1.4z"/>
<path class="c46" d="M267.8 212.9l5.6 1.4-5.5 8.6-5.5-1.3z"/>
<path class="c48" d="M262.3 211.8l5.5 1.1-5.4 8.7-5.6-1z"/>
<path class="c50" d="M256.7 211l5.6 .8-5.5 8.8-5.5-.8z"/>
<path class="c51" d="M251.2 210.4l5.5 .6-5.4 8.8-5.6-.6z"/>
<path class="c53" d="M245.7 210.1l5.5 .3-5.5 8.8-5.5-.4z"/>
<path class="c53" d="M240.1 210l5.6 .1-5.5 8.7-5.5-.2z"/>
<path class="c54" d="M234.6 210l5.5 0-5.4 8.6-5.6 0z"/>
<path class="c54" d="M229 210.2l5.6-.2-5.5 8.6-5.5 .2z"/>
<path class="c18" d="M367.5 225.8l5.5-4.4-5.5 4.1-5.5 3.3z"/>
<path class="c11" d="M361.9 230l5.6-4.2-5.5 3-5.5 3.1z"/>
<path class="c31" d="M306.5 220.9l5.6 3.7-5.5 4.1-5.5-2.9z"/>
<path class="c37" d="M301 217.5l5.5 3.4-5.4 4.9-5.6-2.8z"/>
<path class="c42" d="M295.4 214.5l5.6 3-5.5 5.5-5.5-2.6z"/>
<path class="c47" d="M289.9 212l5.5 2.5-5.4 5.9-5.6-2.3z"/>
<path class="c51" d="M284.4 210.1l5.5 1.9-5.5 6.1-5.5-2.1z"/>
<path class="c53" d="M278.8 208.6l5.6 1.5-5.5 5.9-5.5-1.7z"/>
<path class="c56" d="M273.3 207.5l5.5 1.1-5.4 5.7-5.6-1.4z"/>
<path class="c57" d="M267.7 206.7l5.6 .8-5.5 5.4-5.5-1.1z"/>
<path class="c59" d="M262.2 206.2l5.5 .5-5.4 5.1-5.6-.8z"/>
<path class="c60" d="M256.7 205.9l5.5 .3-5.5 4.8-5.5-.6z"/>
<path class="c60" d="M251.1 205.8l5.6 .1-5.5 4.5-5.5-.3z"/>
<path class="c61" d="M245.6 205.9l5.5-.1-5.4 4.3-5.6-.1z"/>
<path class="c61" d="M240 206l5.6-.1-5.5 4.1-5.5 0z"/>
<path class="c61" d="M234.5 206.2l5.5-.2-5.4 4-5.6 .2z"/>
<path class="c63" d="M450.5 194.4l5.5-.3-5.4 .9-5.6 .3z"/>
<path class="c63" d="M444.9 194.7l5.6-.3-5.5 .9-5.5 .5z"/>
<path class="c63" d="M439.4 195.1l5.5-.4-5.4 1.1-5.6 .5z"/>
<path class="c63" d="M433.8 195.5l5.6-.4-5.5 1.2-5.5 .7z"/>
<path class="c62" d="M428.3 196.1l5.5-.6-5.4 1.5-5.5 .9z"/>
<path class="c62" d="M422.8 196.8l5.5-.7-5.4 1.8-5.6 1z"/>
<path class="c61" d="M417.2 197.7l5.6-.9-5.5 2.1-5.5 1.4z"/>
<path class="c31" d="M378.4 217.8l5.6-4.7-5.5 4-5.5 4.3z"/>
<path class="c23" d="M372.9 223l5.5-5.2-5.4 3.6-5.5 4.4z"/>
<path class="c15" d="M367.4 228.1l5.5-5.1-5.4 2.8-5.6 4.2z"/>
<path class="c54" d="M295.3 208.2l5.6 2.2-5.5 4.1-5.5-2.5z"/>
<path class="c57" d="M289.8 206.6l5.5 1.6-5.4 3.8-5.5-1.9z"/>
<path class="c59" d="M284.3 205.6l5.5 1-5.4 3.5-5.6-1.5z"/>
<path class="c63" d="M256.6 204.6l5.5-.1-5.4 1.4-5.6-.1z"/>
<path class="c63" d="M251 204.8l5.6-.2-5.5 1.2-5.5 .1z"/>
<path class="c63" d="M245.5 205l5.5-.2-5.4 1.1-5.6 .1z"/>
<path class="c63" d="M239.9 205.3l5.6-.3-5.5 1-5.5 .2z"/>
<path class="c63" d="M455.9 194.9l5.6-.3-5.5-.5-5.5 .3z"/>
<path class="c63" d="M450.4 195.1l5.5-.2-5.4-.5-5.6 .3z"/>
<path class="c63" d="M444.8 195.4l5.6-.3-5.5-.4-5.5 .4z"/>
<path class="c63" d="M439.3 195.6l5.5-.2-5.4-.3-5.6 .4z"/>
<path class="c63" d="M433.8 195.9l5.5-.3-5.5-.1-5.5 .6z"/>
<path class="c63" d="M428.2 196.3l5.6-.4-5.5 .2-5.5 .7z"/>
<path class="c63" d="M422.7 196.9l5.5-.6-5.4 .5-5.6 .9z"/>
<path class="c62" d="M417.1 197.7l5.6-.8-5.5 .8-5.5 1.2z"/>
<path class="c60" d="M411.6 198.9l5.5-1.2-5.4 1.2-5.6 1.7z"/>
<path class="c58" d="M406.1 200.6l5.5-1.7-5.5 1.7-5.5 2.1z"/>
<path class="c55" d="M400.5 203l5.6-2.4-5.5 2.1-5.5 2.8z"/>
<path class="c50" d="M395 206.1l5.5-3.1-5.4 2.5-5.6 3.4z"/>
<path class="c44" d="M389.4 210.2l5.6-4.1-5.5 2.8-5.5 4.2z"/>
<path class="c36" d="M383.9 215.1l5.5-4.9-5.4 2.9-5.6 4.7z"/>
<path class="c28" d="M378.4 220.7l5.5-5.6-5.5 2.7-5.5 5.2z"/>
<path class="c19" d="M372.8 226.6l5.6-5.9-5.5 2.3-5.5 5.1z"/>
<path class="c10" d="M367.3 232l5.5-5.4-5.4 1.5-5.6 4.7z"/>
<path class="c63" d="M273.1 204.3l5.5-.2-5.4 .5-5.6-.2z"/>
<path class="c63" d="M267.6 204.6l5.5-.3-5.5 .1-5.5 .1z"/>
<path class="c63" d="M262 204.9l5.6-.3-5.5-.1-5.5 .1z"/>
<path class="c63" d="M256.5 205.2l5.5-.3-5.4-.3-5.6 .2z"/>
<path class="c63" d="M250.9 205.5l5.6-.3-5.5-.4-5.5 .2z"/>
<path class="c63" d="M245.4 205.8l5.5-.3-5.4-.5-5.6 .3z"/>
<path class="c62" d="M461.4 195.9l5.5-.3-5.4-1-5.6 .3z"/>
<path class="c63" d="M455.8 196.1l5.6-.2-5.5-1-5.5 .2z"/>
<path class="c63" d="M450.3 196.2l5.5-.1-5.4-1-5.6 .3z"/>
<path class="c63" d="M444.7 196.4l5.6-.2-5.5-.8-5.5 .2z"/>
<path class="c63" d="M439.2 196.5l5.5-.1-5.4-.8-5.5 .3z"/>
<path class="c63" d="M433.7 196.7l5.5-.2-5.4-.6-5.6 .4z"/>
<path class="c63" d="M428.1 197l5.6-.3-5.5-.4-5.5 .6z"/>
<path class="c63" d="M422.6 197.5l5.5-.5-5.4-.1-5.6 .8z"/>
<path class="c62" d="M417 198.4l5.6-.9-5.5 .2-5.5 1.2z"/>
<path class="c60" d="M411.5 199.7l5.5-1.3-5.4 .5-5.5 1.7z"/>
<path class="c58" d="M406 201.7l5.5-2-5.4 .9-5.6 2.4z"/>
<path class="c54" d="M400.4 204.5l5.6-2.8-5.5 1.3-5.5 3.1z"/>
<path class="c48" d="M394.9 208.4l5.5-3.9-5.4 1.6-5.6 4.1z"/>
<path class="c40" d="M389.3 213.3l5.6-4.9-5.5 1.8-5.5 4.9z"/>
<path class="c31" d="M383.8 219.1l5.5-5.8-5.4 1.8-5.5 5.6z"/>
<path class="c21" d="M378.3 225.5l5.5-6.4-5.4 1.6-5.6 5.9z"/>
<path class="c12" d="M372.7 231.5l5.6-6-5.5 1.1-5.5 5.4z"/>
<path class="c4" d="M367.2 236.4l5.5-4.9-5.4 .5-5.6 4.3z"/>
<path class="c63" d="M289.6 204.2l5.6 0-5.5 .1-5.5-.2z"/>
<path class="c63" d="M284.1 204.5l5.5-.3-5.4-.1-5.6 0z"/>
<path class="c63" d="M278.5 204.8l5.6-.3-5.5-.4-5.5 .2z"/>
<path class="c63" d="M273 205.3l5.5-.5-5.4-.5-5.5 .3z"/>
<path class="c63" d="M267.5 205.7l5.5-.4-5.4-.7-5.6 .3z"/>
<path class="c63" d="M261.9 206.2l5.6-.5-5.5-.8-5.5 .3z"/>
<path class="c62" d="M256.4 206.5l5.5-.3-5.4-1-5.6 .3z"/>
<path class="c62" d="M250.8 206.9l5.6-.4-5.5-1-5.5 .3z"/>
<path class="c62" d="M466.8 196.9l5.6-.2-5.5-1.1-5.5 .3z"/>
<path class="c62" d="M461.3 197.1l5.5-.2-5.4-1-5.6 .2z"/>
<path class="c62" d="M455.7 197.2l5.6-.1-5.5-1-5.5 .1z"/>
<path class="c62" d="M450.2 197.2l5.5 0-5.4-1-5.6 .2z"/>
<path class="c63" d="M444.7 197.2l5.5 0-5.5-.8-5.5 .1z"/>
<path class="c63" d="M439.1 197.3l5.6-.1-5.5-.7-5.5 .2z"/>
<path class="c63" d="M433.6 197.5l5.5-.2-5.4-.6-5.6 .3z"/>
<path class="c63" d="M428 197.8l5.6-.3-5.5-.5-5.5 .5z"/>
<path class="c63" d="M422.5 198.4l5.5-.6-5.4-.3-5.6 .9z"/>
<path class="c62" d="M417 199.5l5.5-1.1-5.5 0-5.5 1.3z"/>
<path class="c59" d="M411.4 201.2l5.6-1.7-5.5 .2-5.5 2z"/>
<path class="c55" d="M405.9 203.8l5.5-2.6-5.4 .5-5.6 2.8z"/>
<path class="c50" d="M400.3 207.5l5.6-3.7-5.5 .7-5.5 3.9z"/>
<path class="c42" d="M394.8 212.4l5.5-4.9-5.4 .9-5.6 4.9z"/>
<path class="c33" d="M389.3 218.3l5.5-5.9-5.5 .9-5.5 5.8z"/>
<path class="c23" d="M383.7 224.9l5.6-6.6-5.5 .8-5.5 6.4z"/>
<path class="c13" d="M378.2 231.4l5.5-6.5-5.4 .6-5.6 6z"/>
<path class="c5" d="M372.6 236.6l5.6-5.2-5.5 .1-5.5 4.9z"/>
<path class="c63" d="M300.6 204.4l5.6 .1-5.5-.1-5.5-.2z"/>
<path class="c63" d="M295.1 204.7l5.5-.3-5.4-.2-5.6 0z"/>
<path class="c63" d="M289.5 205.1l5.6-.4-5.5-.5-5.5 .3z"/>
<path class="c63" d="M284 205.6l5.5-.5-5.4-.6-5.6 .3z"/>
<path class="c62" d="M278.5 206.1l5.5-.5-5.5-.8-5.5 .5z"/>
<path class="c62" d="M272.9 206.7l5.6-.6-5.5-.8-5.5 .4z"/>
<path class="c62" d="M267.4 207.2l5.5-.5-5.4-1-5.6 .5z"/>
<path class="c62" d="M261.8 207.6l5.6-.4-5.5-1-5.5 .3z"/>
<path class="c61" d="M256.3 207.9l5.5-.3-5.4-1.1-5.6 .4z"/>
<path class="c61" d="M472.3 197.7l5.5-.3-5.4-.7-5.6 .2z"/>
<path class="c61" d="M466.7 197.8l5.6-.1-5.5-.8-5.5 .2z"/>
<path class="c62" d="M461.2 197.9l5.5-.1-5.4-.7-5.6 .1z"/>
<path class="c62" d="M455.6 197.9l5.6 0-5.5-.7-5.5 0z"/>
<path class="c63" d="M450.1 197.9l5.5 0-5.4-.7-5.5 0z"/>
<path class="c63" d="M444.6 197.9l5.5 0-5.4-.7-5.6 .1z"/>
<path class="c63" d="M439 198l5.6-.1-5.5-.6-5.5 .2z"/>
<path class="c63" d="M433.5 198.2l5.5-.2-5.4-.5-5.6 .3z"/>
<path class="c63" d="M427.9 198.8l5.6-.6-5.5-.4-5.5 .6z"/>
<path class="c62" d="M422.4 199.8l5.5-1-5.4-.4-5.5 1.1z"/>
<path class="c60" d="M416.9 201.4l5.5-1.6-5.4-.3-5.6 1.7z"/>
<path class="c56" d="M411.3 203.8l5.6-2.4-5.5-.2-5.5 2.6z"/>
<path class="c51" d="M405.8 207.4l5.5-3.6-5.4 0-5.6 3.7z"/>
<path class="c43" d="M400.2 212.3l5.6-4.9-5.5 .1-5.5 4.9z"/>
<path class="c34" d="M394.7 218.2l5.5-5.9-5.4 .1-5.5 5.9z"/>
<path class="c24" d="M389.2 224.9l5.5-6.7-5.4 .1-5.6 6.6z"/>
<path class="c13" d="M383.6 231.6l5.6-6.7-5.5 0-5.5 6.5z"/>
<path class="c5" d="M378.1 237l5.5-5.4-5.4-.2-5.6 5.2z"/>
<path class="c63" d="M311.6 204.8l5.5 .4-5.4-.2-5.5-.5z"/>
<path class="c63" d="M306.1 204.9l5.5-.1-5.4-.3-5.6-.1z"/>
<path class="c63" d="M300.5 205.2l5.6-.3-5.5-.5-5.5 .3z"/>
<path class="c63" d="M295 205.7l5.5-.5-5.4-.5-5.6 .4z"/>
<path class="c63" d="M289.4 206.2l5.6-.5-5.5-.6-5.5 .5z"/>
<path class="c62" d="M283.9 206.8l5.5-.6-5.4-.6-5.5 .5z"/>
<path class="c62" d="M278.4 207.4l5.5-.6-5.4-.7-5.6 .6z"/>
<path class="c61" d="M272.8 207.9l5.6-.5-5.5-.7-5.5 .5z"/>
<path class="c61" d="M267.3 208.3l5.5-.4-5.4-.7-5.6 .4z"/>
<path class="c61" d="M261.7 208.7l5.6-.4-5.5-.7-5.5 .3z"/>
<path class="c61" d="M477.7 198.1l5.6-.3-5.5-.4-5.5 .3z"/>
<path class="c61" d="M472.2 198.2l5.5-.1-5.4-.4-5.6 .1z"/>
<path class="c62" d="M466.6 198.3l5.6-.1-5.5-.4-5.5 .1z"/>
<path class="c62" d="M461.1 198.3l5.5 0-5.4-.4-5.6 0z"/>
<path class="c63" d="M455.6 198.3l5.5 0-5.5-.4-5.5 0z"/>
<path class="c63" d="M450 198.3l5.6 0-5.5-.4-5.5 0z"/>
<path class="c63" d="M444.5 198.5l5.5-.2-5.4-.4-5.6 .1z"/>
<path class="c63" d="M438.9 198.7l5.6-.2-5.5-.5-5.5 .2z"/>
<path class="c63" d="M433.4 199.3l5.5-.6-5.4-.5-5.6 .6z"/>
<path class="c62" d="M427.9 200.3l5.5-1-5.5-.5-5.5 1z"/>
<path class="c60" d="M422.3 202l5.6-1.7-5.5-.5-5.5 1.6z"/>
<path class="c56" d="M416.8 204.5l5.5-2.5-5.4-.6-5.6 2.4z"/>
<path class="c51" d="M411.2 208.1l5.6-3.6-5.5-.7-5.5 3.6z"/>
<path class="c43" d="M405.7 212.9l5.5-4.8-5.4-.7-5.6 4.9z"/>
<path class="c34" d="M400.2 218.9l5.5-6-5.5-.6-5.5 5.9z"/>
<path class="c23" d="M394.6 225.6l5.6-6.7-5.5-.7-5.5 6.7z"/>
<path class="c13" d="M389.1 232.1l5.5-6.5-5.4-.7-5.6 6.7z"/>
<path class="c5" d="M383.5 237.5l5.6-5.4-5.5-.5-5.5 5.4z"/>
<path class="c0" d="M378 240.7l5.5-3.2-5.4-.5-5.6 3.2z"/>
<path class="c62" d="M322.6 205.8l5.5 1.1-5.4-.6-5.6-1.1z"/>
<path class="c63" d="M317.1 205.4l5.5 .4-5.5-.6-5.5-.4z"/>
<path class="c63" d="M311.5 205.4l5.6 0-5.5-.6-5.5 .1z"/>
<path class="c63" d="M306 205.7l5.5-.3-5.4-.5-5.6 .3z"/>
<path class="c63" d="M300.4 206.1l5.6-.4-5.5-.5-5.5 .5z"/>
<path class="c63" d="M294.9 206.7l5.5-.6-5.4-.4-5.6 .5z"/>
<path class="c62" d="M289.4 207.2l5.5-.5-5.5-.5-5.5 .6z"/>
<path class="c62" d="M283.8 207.8l5.6-.6-5.5-.4-5.5 .6z"/>
<path class="c61" d="M278.3 208.3l5.5-.5-5.4-.4-5.6 .5z"/>
<path class="c61" d="M272.7 208.7l5.6-.4-5.5-.4-5.5 .4z"/>
<path class="c61" d="M267.2 209.1l5.5-.4-5.4-.4-5.6 .4z"/>
<path class="c62" d="M483.2 198.1l5.5-.2-5.4-.1-5.6 .3z"/>
<path class="c62" d="M477.6 198.3l5.6-.2-5.5 0-5.5 .1z"/>
<path class="c62" d="M472.1 198.4l5.5-.1-5.4-.1-5.6 .1z"/>
<path class="c63" d="M466.6 198.5l5.5-.1-5.5-.1-5.5 0z"/>
<path class="c63" d="M461 198.6l5.6-.1-5.5-.2-5.5 0z"/>
<path class="c63" d="M455.5 198.7l5.5-.1-5.4-.3-5.6 0z"/>
<path class="c63" d="M449.9 198.9l5.6-.2-5.5-.4-5.5 .2z"/>
<path class="c63" d="M444.4 199.3l5.5-.4-5.4-.4-5.6 .2z"/>
<path class="c63" d="M438.9 200.1l5.5-.8-5.5-.6-5.5 .6z"/>
<path class="c61" d="M433.3 201.2l5.6-1.1-5.5-.8-5.5 1z"/>
<path class="c59" d="M427.8 203.1l5.5-1.9-5.4-.9-5.6 1.7z"/>
<path class="c55" d="M422.2 205.8l5.6-2.7-5.5-1.1-5.5 2.5z"/>
<path class="c49" d="M416.7 209.5l5.5-3.7-5.4-1.3-5.6 3.6z"/>
<path class="c41" d="M411.1 214.4l5.6-4.9-5.5-1.4-5.5 4.8z"/>
<path class="c32" d="M405.6 220.3l5.5-5.9-5.4-1.5-5.5 6z"/>
<path class="c22" d="M400.1 226.8l5.5-6.5-5.4-1.4-5.6 6.7z"/>
<path class="c12" d="M394.5 233.1l5.6-6.3-5.5-1.2-5.5 6.5z"/>
<path class="c4" d="M389 238.2l5.5-5.1-5.4-1-5.6 5.4z"/>
<path class="c0" d="M383.4 241.2l5.6-3-5.5-.7-5.5 3.2z"/>
<path class="c61" d="M328 206.7l5.6 1.3-5.5-1.1-5.5-1.1z"/>
<path class="c63" d="M322.5 206.1l5.5 .6-5.4-.9-5.5-.4z"/>
<path class="c63" d="M317 206l5.5 .1-5.4-.7-5.6 0z"/>
<path class="c63" d="M311.4 206.1l5.6-.1-5.5-.6-5.5 .3z"/>
<path class="c63" d="M305.9 206.5l5.5-.4-5.4-.4-5.6 .4z"/>
<path class="c63" d="M300.3 206.9l5.6-.4-5.5-.4-5.5 .6z"/>
<path class="c63" d="M294.8 207.4l5.5-.5-5.4-.2-5.5 .5z"/>
<path class="c62" d="M289.3 207.9l5.5-.5-5.4-.2-5.6 .6z"/>
<path class="c62" d="M283.7 208.4l5.6-.5-5.5-.1-5.5 .5z"/>
<path class="c62" d="M278.2 208.8l5.5-.4-5.4-.1-5.6 .4z"/>
<path class="c62" d="M272.6 209.1l5.6-.3-5.5-.1-5.5 .4z"/>
<path class="c63" d="M488.6 198l5.6-.2-5.5 .1-5.5 .2z"/>
<path class="c63" d="M483.1 198.2l5.5-.2-5.4 .1-5.6 .2z"/>
<path class="c63" d="M477.5 198.4l5.6-.2-5.5 .1-5.5 .1z"/>
<path class="c63" d="M472 198.6l5.5-.2-5.4 0-5.5 .1z"/>
<path class="c63" d="M466.5 198.8l5.5-.2-5.4-.1-5.6 .1z"/>
<path class="c63" d="M460.9 199.1l5.6-.3-5.5-.2-5.5 .1z"/>
<path class="c63" d="M455.4 199.6l5.5-.5-5.4-.4-5.6 .2z"/>
<path class="c63" d="M449.8 200.2l5.6-.6-5.5-.7-5.5 .4z"/>
<path class="c61" d="M444.3 201.2l5.5-1-5.4-.9-5.5 .8z"/>
<path class="c60" d="M438.8 202.7l5.5-1.5-5.4-1.1-5.6 1.1z"/>
<path class="c56" d="M433.2 204.9l5.6-2.2-5.5-1.5-5.5 1.9z"/>
<path class="c52" d="M427.7 207.9l5.5-3-5.4-1.8-5.6 2.7z"/>
<path class="c46" d="M422.1 211.8l5.6-3.9-5.5-2.1-5.5 3.7z"/>
<path class="c38" d="M416.6 216.8l5.5-5-5.4-2.3-5.6 4.9z"/>
<path class="c29" d="M411.1 222.5l5.5-5.7-5.5-2.4-5.5 5.9z"/>
<path class="c20" d="M405.5 228.6l5.6-6.1-5.5-2.2-5.5 6.5z"/>
<path class="c11" d="M400 234.4l5.5-5.8-5.4-1.8-5.6 6.3z"/>
<path class="c4" d="M394.4 239l5.6-4.6-5.5-1.3-5.5 5.1z"/>
<path class="c0" d="M388.9 241.7l5.5-2.7-5.4-.8-5.6 3z"/>
<path class="c56" d="M339 209.8l5.6 2.4-5.5-2.1-5.5-2.1z"/>
<path class="c60" d="M333.5 208.2l5.5 1.6-5.4-1.8-5.6-1.3z"/>
<path class="c61" d="M328 207.3l5.5 .9-5.5-1.5-5.5-.6z"/>
<path class="c63" d="M322.4 206.8l5.6 .5-5.5-1.2-5.5-.1z"/>
<path class="c63" d="M316.9 206.7l5.5 .1-5.4-.8-5.6 .1z"/>
<path class="c63" d="M311.3 206.9l5.6-.2-5.5-.6-5.5 .4z"/>
<path class="c63" d="M305.8 207.2l5.5-.3-5.4-.4-5.6 .4z"/>
<path class="c63" d="M300.3 207.5l5.5-.3-5.5-.3-5.5 .5z"/>
<path class="c63" d="M294.7 207.9l5.6-.4-5.5-.1-5.5 .5z"/>
<path class="c63" d="M289.2 208.3l5.5-.4-5.4 0-5.6 .5z"/>
<path class="c63" d="M283.6 208.7l5.6-.4-5.5 .1-5.5 .4z"/>
<path class="c63" d="M278.1 209l5.5-.3-5.4 .1-5.6 .3z"/>
<path class="c63" d="M494.1 198.2l5.5-.3-5.4-.1-5.6 .2z"/>
<path class="c63" d="M488.5 198.4l5.6-.2-5.5-.2-5.5 .2z"/>
<path class="c63" d="M483 198.7l5.5-.3-5.4-.2-5.6 .2z"/>
<path class="c63" d="M477.5 199.1l5.5-.4-5.5-.3-5.5 .2z"/>
<path class="c63" d="M471.9 199.5l5.6-.4-5.5-.5-5.5 .2z"/>
<path class="c63" d="M466.4 200l5.5-.5-5.4-.7-5.6 .3z"/>
<path class="c62" d="M460.8 200.8l5.6-.8-5.5-.9-5.5 .5z"/>
<path class="c61" d="M455.3 201.8l5.5-1-5.4-1.2-5.6 .6z"/>
<path class="c59" d="M449.8 203.2l5.5-1.4-5.5-1.6-5.5 1z"/>
<path class="c56" d="M444.2 205.1l5.6-1.9-5.5-2-5.5 1.5z"/>
<path class="c53" d="M438.7 207.7l5.5-2.6-5.4-2.4-5.6 2.2z"/>
<path class="c48" d="M433.1 211l5.6-3.3-5.5-2.8-5.5 3z"/>
<path class="c41" d="M427.6 215.1l5.5-4.1-5.4-3.1-5.6 3.9z"/>
<path class="c34" d="M422.1 220l5.5-4.9-5.5-3.3-5.5 5z"/>
<path class="c26" d="M416.5 225.4l5.6-5.4-5.5-3.2-5.5 5.7z"/>
<path class="c17" d="M411 230.9l5.5-5.5-5.4-2.9-5.6 6.1z"/>
<path class="c9" d="M405.4 236l5.6-5.1-5.5-2.3-5.5 5.8z"/>
<path class="c3" d="M399.9 239.9l5.5-3.9-5.4-1.6-5.6 4.6z"/>
<path class="c0" d="M394.4 242.2l5.5-2.3-5.5-.9-5.5 2.7z"/>
<path class="c0" d="M388.8 242.5l5.6-.3-5.5-.5-5.5 .3z"/>
<path class="c48" d="M350 215.3l5.6 3.6-5.5-3.3-5.5-3.4z"/>
<path class="c53" d="M344.5 212.6l5.5 2.7-5.4-3.1-5.6-2.4z"/>
<path class="c56" d="M339 210.6l5.5 2-5.5-2.8-5.5-1.6z"/>
<path class="c59" d="M333.4 209.2l5.6 1.4-5.5-2.4-5.5-.9z"/>
<path class="c61" d="M327.9 208.4l5.5 .8-5.4-1.9-5.6-.5z"/>
<path class="c62" d="M322.3 208l5.6 .4-5.5-1.6-5.5-.1z"/>
<path class="c63" d="M316.8 207.8l5.5 .2-5.4-1.3-5.6 .2z"/>
<path class="c63" d="M311.3 207.9l5.5-.1-5.5-.9-5.5 .3z"/>
<path class="c63" d="M305.7 208l5.6-.1-5.5-.7-5.5 .3z"/>
<path class="c63" d="M300.2 208.2l5.5-.2-5.4-.5-5.6 .4z"/>
<path class="c63" d="M294.6 208.5l5.6-.3-5.5-.3-5.5 .4z"/>
<path class="c63" d="M289.1 208.8l5.5-.3-5.4-.2-5.6 .4z"/>
<path class="c63" d="M283.6 209.1l5.5-.3-5.5-.1-5.5 .3z"/>
<path class="c63" d="M499.5 199.2l5.6-.3-5.5-1-5.5 .3z"/>
<path class="c62" d="M494 199.6l5.5-.4-5.4-1-5.6 .2z"/>
<path class="c62" d="M488.4 200l5.6-.4-5.5-1.2-5.5 .3z"/>
<path class="c62" d="M482.9 200.6l5.5-.6-5.4-1.3-5.5 .4z"/>
<path class="c61" d="M477.4 201.3l5.5-.7-5.4-1.5-5.6 .4z"/>
<path class="c60" d="M471.8 202.2l5.6-.9-5.5-1.8-5.5 .5z"/>
<path class="c59" d="M466.3 203.3l5.5-1.1-5.4-2.2-5.6 .8z"/>
<path class="c57" d="M460.7 204.8l5.6-1.5-5.5-2.5-5.5 1z"/>
<path class="c54" d="M455.2 206.6l5.5-1.8-5.4-3-5.5 1.4z"/>
<path class="c51" d="M449.7 209l5.5-2.4-5.4-3.4-5.6 1.9z"/>
<path class="c47" d="M444.1 211.9l5.6-2.9-5.5-3.9-5.5 2.6z"/>
<path class="c41" d="M438.6 215.5l5.5-3.6-5.4-4.2-5.6 3.3z"/>
<path class="c35" d="M433 219.6l5.6-4.1-5.5-4.5-5.5 4.1z"/>
<path class="c28" d="M427.5 224.1l5.5-4.5-5.4-4.5-5.5 4.9z"/>
<path class="c21" d="M422 228.9l5.5-4.8-5.4-4.1-5.6 5.4z"/>
<path class="c13" d="M416.4 233.6l5.6-4.7-5.5-3.5-5.5 5.5z"/>
<path class="c7" d="M410.9 237.8l5.5-4.2-5.4-2.7-5.6 5.1z"/>
<path class="c2" d="M405.3 240.9l5.6-3.1-5.5-1.8-5.5 3.9z"/>
<path class="c0" d="M399.8 242.8l5.5-1.9-5.4-1-5.5 2.3z"/>
<path class="c0" d="M394.3 243.1l5.5-.3-5.4-.6-5.6 .3z"/>
<path class="c41" d="M355.5 219.8l5.5 3.5-5.4-4.4-5.6-3.6z"/>
<path class="c47" d="M349.9 216.8l5.6 3-5.5-4.5-5.5-2.7z"/>
<path class="c51" d="M344.4 214.5l5.5 2.3-5.4-4.2-5.5-2z"/>
<path class="c54" d="M338.9 212.7l5.5 1.8-5.4-3.9-5.6-1.4z"/>
<path class="c57" d="M333.3 211.4l5.6 1.3-5.5-3.5-5.5-.8z"/>
<path class="c59" d="M327.8 210.5l5.5 .9-5.4-3-5.6-.4z"/>
<path class="c60" d="M322.2 209.9l5.6 .6-5.5-2.5-5.5-.2z"/>
<path class="c61" d="M316.7 209.6l5.5 .3-5.4-2.1-5.5 .1z"/>
<path class="c62" d="M311.2 209.5l5.5 .1-5.4-1.7-5.6 .1z"/>
<path class="c62" d="M305.6 209.5l5.6 0-5.5-1.5-5.5 .2z"/>
<path class="c62" d="M300.1 209.7l5.5-.2-5.4-1.3-5.6 .3z"/>
<path class="c63" d="M294.5 209.9l5.6-.2-5.5-1.2-5.5 .3z"/>
<path class="c63" d="M289 210.1l5.5-.2-5.4-1.1-5.5 .3z"/>
<path class="c58" d="M505 202.4l5.5-.3-5.4-3.2-5.6 .3z"/>
<path class="c58" d="M499.4 202.9l5.6-.5-5.5-3.2-5.5 .4z"/>
<path class="c57" d="M493.9 203.5l5.5-.6-5.4-3.3-5.6 .4z"/>
<path class="c56" d="M488.4 204.4l5.5-.9-5.5-3.5-5.5 .6z"/>
<path class="c55" d="M482.8 205.4l5.6-1-5.5-3.8-5.5 .7z"/>
<path class="c54" d="M477.3 206.6l5.5-1.2-5.4-4.1-5.6 .9z"/>
<path class="c52" d="M471.7 208.2l5.6-1.6-5.5-4.4-5.5 1.1z"/>
<path class="c49" d="M466.2 210l5.5-1.8-5.4-4.9-5.6 1.5z"/>
<path class="c46" d="M460.7 212.3l5.5-2.3-5.5-5.2-5.5 1.8z"/>
<path class="c42" d="M455.1 214.9l5.6-2.6-5.5-5.7-5.5 2.4z"/>
<path class="c37" d="M449.6 217.9l5.5-3-5.4-5.9-5.6 2.9z"/>
<path class="c32" d="M444 221.4l5.6-3.5-5.5-6-5.5 3.6z"/>
<path class="c27" d="M438.5 225.1l5.5-3.7-5.4-5.9-5.6 4.1z"/>
<path class="c21" d="M433 229l5.5-3.9-5.5-5.5-5.5 4.5z"/>
<path class="c15" d="M427.4 232.9l5.6-3.9-5.5-4.9-5.5 4.8z"/>
<path class="c9" d="M421.9 236.5l5.5-3.6-5.4-4-5.6 4.7z"/>
<path class="c5" d="M416.3 239.6l5.6-3.1-5.5-2.9-5.5 4.2z"/>
<path class="c1" d="M410.8 242l5.5-2.4-5.4-1.8-5.6 3.1z"/>
<path class="c0" d="M405.3 243.3l5.5-1.3-5.5-1.1-5.5 1.9z"/>
<path class="c0" d="M399.7 243.6l5.6-.3-5.5-.5-5.5 .3z"/>
<path class="c21" d="M372 232.2l5.6 3.3-5.5-4-5.5-4.2z"/>
<path class="c27" d="M366.5 228.8l5.5 3.4-5.4-4.9-5.6-4z"/>
<path class="c32" d="M360.9 225.7l5.6 3.1-5.5-5.5-5.5-3.5z"/>
<path class="c37" d="M355.4 222.8l5.5 2.9-5.4-5.9-5.6-3z"/>
<path class="c42" d="M349.9 220.4l5.5 2.4-5.5-6-5.5-2.3z"/>
<path class="c46" d="M344.3 218.3l5.6 2.1-5.5-5.9-5.5-1.8z"/>
<path class="c49" d="M338.8 216.6l5.5 1.7-5.4-5.6-5.6-1.3z"/>
<path class="c52" d="M333.2 215.4l5.6 1.2-5.5-5.2-5.5-.9z"/>
<path class="c54" d="M327.7 214.4l5.5 1-5.4-4.9-5.6-.6z"/>
<path class="c55" d="M322.2 213.7l5.5 .7-5.5-4.5-5.5-.3z"/>
<path class="c56" d="M316.6 213.3l5.6 .4-5.5-4.1-5.5-.1z"/>
<path class="c57" d="M311.1 213l5.5 .3-5.4-3.8-5.6 0z"/>
<path class="c58" d="M305.5 213l5.6 0-5.5-3.5-5.5 .2z"/>
<path class="c58" d="M300 213.1l5.5-.1-5.4-3.3-5.6 .2z"/>
<path class="c58" d="M294.5 213.3l5.5-.2-5.5-3.2-5.5 .2z"/>
<path class="c47" d="M510.4 209.5l5.6-.3-5.5-7.1-5.5 .3z"/>
<path class="c47" d="M504.9 210.1l5.5-.6-5.4-7.1-5.6 .5z"/>
<path class="c46" d="M499.3 210.9l5.6-.8-5.5-7.2-5.5 .6z"/>
<path class="c45" d="M493.8 211.9l5.5-1-5.4-7.4-5.5 .9z"/>
<path class="c43" d="M488.3 213.1l5.5-1.2-5.4-7.5-5.6 1z"/>
<path class="c41" d="M482.7 214.6l5.6-1.5-5.5-7.7-5.5 1.2z"/>
<path class="c39" d="M477.2 216.3l5.5-1.7-5.4-8-5.6 1.6z"/>
<path class="c36" d="M471.6 218.2l5.6-1.9-5.5-8.1-5.5 1.8z"/>
<path class="c33" d="M466.1 220.4l5.5-2.2-5.4-8.2-5.5 2.3z"/>
<path class="c30" d="M460.6 222.9l5.5-2.5-5.4-8.1-5.6 2.6z"/>
<path class="c26" d="M455 225.5l5.6-2.6-5.5-8-5.5 3z"/>
<path class="c22" d="M449.5 228.4l5.5-2.9-5.4-7.6-5.6 3.5z"/>
<path class="c17" d="M443.9 231.3l5.6-2.9-5.5-7-5.5 3.7z"/>
<path class="c13" d="M438.4 234.1l5.5-2.8-5.4-6.2-5.5 3.9z"/>
<path class="c9" d="M432.9 236.9l5.5-2.8-5.4-5.1-5.6 3.9z"/>
<path class="c6" d="M427.3 239.3l5.6-2.4-5.5-4-5.5 3.6z"/>
<path class="c3" d="M421.8 241.4l5.5-2.1-5.4-2.8-5.6 3.1z"/>
<path class="c1" d="M416.2 242.9l5.6-1.5-5.5-1.8-5.5 2.4z"/>
<path class="c0" d="M410.7 243.9l5.5-1-5.4-.9-5.5 1.3z"/>
<path class="c0" d="M405.2 244.2l5.5-.3-5.4-.6-5.6 .3z"/>
<path class="c1" d="M399.6 243.8l5.6 .4-5.5-.6-5.5-.8z"/>
<path class="c3" d="M394.1 242.8l5.5 1-5.4-1-5.6-1.7z"/>
<path class="c6" d="M388.5 241.3l5.6 1.5-5.5-1.7-5.5-2.6z"/>
<path class="c9" d="M383 239.5l5.5 1.8-5.4-2.8-5.5-3z"/>
<path class="c13" d="M377.5 237.3l5.5 2.2-5.4-4-5.6-3.3z"/>
<path class="c17" d="M371.9 235l5.6 2.3-5.5-5.1-5.5-3.4z"/>
<path class="c22" d="M366.4 232.7l5.5 2.3-5.4-6.2-5.6-3.1z"/>
<path class="c26" d="M360.8 230.4l5.6 2.3-5.5-7-5.5-2.9z"/>
<path class="c30" d="M355.3 228.4l5.5 2-5.4-7.6-5.5-2.4z"/>
<path class="c33" d="M349.8 226.5l5.5 1.9-5.4-8-5.6-2.1z"/>
<path class="c36" d="M344.2 224.8l5.6 1.7-5.5-8.2-5.5-1.7z"/>
<path class="c39" d="M338.7 223.5l5.5 1.3-5.4-8.2-5.6-1.2z"/>
<path class="c41" d="M333.1 222.3l5.6 1.2-5.5-8.1-5.5-1z"/>
<path class="c43" d="M327.6 221.5l5.5 .8-5.4-7.9-5.5-.7z"/>
<path class="c45" d="M322.1 220.8l5.5 .7-5.4-7.8-5.6-.4z"/>
<path class="c46" d="M316.5 220.4l5.6 .4-5.5-7.5-5.5-.3z"/>
<path class="c47" d="M311 220.2l5.5 .2-5.4-7.4-5.6 0z"/>
<path class="c47" d="M305.4 220.2l5.6 0-5.5-7.2-5.5 .1z"/>
<path class="c47" d="M299.9 220.4l5.5-.2-5.4-7.1-5.5 .2z"/>
<path class="c29" d="M515.9 221.3l5.5-.4-5.4-11.7-5.6 .3z"/>
<path class="c28" d="M510.3 221.9l5.6-.6-5.5-11.8-5.5 .6z"/>
<path class="c28" d="M504.8 222.6l5.5-.7-5.4-11.8-5.6 .8z"/>
<path class="c27" d="M499.3 223.5l5.5-.9-5.5-11.7-5.5 1z"/>
<path class="c25" d="M493.7 224.5l5.6-1-5.5-11.6-5.5 1.2z"/>
<path class="c24" d="M488.2 225.7l5.5-1.2-5.4-11.4-5.6 1.5z"/>
<path class="c22" d="M482.6 227.1l5.6-1.4-5.5-11.1-5.5 1.7z"/>
<path class="c20" d="M477.1 228.6l5.5-1.5-5.4-10.8-5.6 1.9z"/>
<path class="c18" d="M471.6 230.2l5.5-1.6-5.5-10.4-5.5 2.2z"/>
<path class="c16" d="M466 231.9l5.6-1.7-5.5-9.8-5.5 2.5z"/>
<path class="c13" d="M460.5 233.7l5.5-1.8-5.4-9-5.6 2.6z"/>
<path class="c11" d="M454.9 235.4l5.6-1.7-5.5-8.2-5.5 2.9z"/>
<path class="c9" d="M449.4 237.2l5.5-1.8-5.4-7-5.6 2.9z"/>
<path class="c6" d="M443.9 238.9l5.5-1.7-5.5-5.9-5.5 2.8z"/>
<path class="c4" d="M438.3 240.4l5.6-1.5-5.5-4.8-5.5 2.8z"/>
<path class="c2" d="M432.8 241.8l5.5-1.4-5.4-3.5-5.6 2.4z"/>
<path class="c1" d="M427.2 242.9l5.6-1.1-5.5-2.5-5.5 2.1z"/>
<path class="c0" d="M421.7 243.8l5.5-.9-5.4-1.5-5.6 1.5z"/>
<path class="c0" d="M416.2 244.4l5.5-.6-5.5-.9-5.5 1z"/>
<path class="c0" d="M410.6 244.7l5.6-.3-5.5-.5-5.5 .3z"/>
<path class="c0" d="M405.1 244.7l5.5 0-5.4-.5-5.6-.4z"/>
<path class="c1" d="M399.5 244.4l5.6 .3-5.5-.9-5.5-1z"/>
<path class="c2" d="M394 243.8l5.5 .6-5.4-1.6-5.6-1.5z"/>
<path class="c4" d="M388.5 243l5.5 .8-5.5-2.5-5.5-1.8z"/>
<path class="c6" d="M382.9 242l5.6 1-5.5-3.5-5.5-2.2z"/>
<path class="c9" d="M377.4 240.9l5.5 1.1-5.4-4.7-5.6-2.3z"/>
<path class="c11" d="M371.8 239.8l5.6 1.1-5.5-5.9-5.5-2.3z"/>
<path class="c13" d="M366.3 238.6l5.5 1.2-5.4-7.1-5.6-2.3z"/>
<path class="c16" d="M360.8 237.4l5.5 1.2-5.5-8.2-5.5-2z"/>
<path class="c18" d="M355.2 236.3l5.6 1.1-5.5-9-5.5-1.9z"/>
<path class="c20" d="M349.7 235.2l5.5 1.1-5.4-9.8-5.6-1.7z"/>
<path class="c22" d="M344.1 234.3l5.6 .9-5.5-10.4-5.5-1.3z"/>
<path class="c24" d="M338.6 233.5l5.5 .8-5.4-10.8-5.6-1.2z"/>
<path class="c25" d="M333.1 232.9l5.5 .6-5.5-11.2-5.5-.8z"/>
<path class="c27" d="M327.5 232.4l5.6 .5-5.5-11.4-5.5-.7z"/>
<path class="c28" d="M322 232.1l5.5 .3-5.4-11.6-5.6-.4z"/>
<path class="c28" d="M316.4 231.9l5.6 .2-5.5-11.7-5.5-.2z"/>
<path class="c29" d="M310.9 232l5.5-.1-5.4-11.7-5.6 0z"/>
<path class="c29" d="M305.4 232.2l5.5-.2-5.5-11.8-5.5 .2z"/>
<path class="c9" d="M521.3 234.1l5.6-.3-5.5-12.9-5.5 .4z"/>
<path class="c9" d="M515.8 234.5l5.5-.4-5.4-12.8-5.6 .6z"/>
<path class="c8" d="M510.2 235l5.6-.5-5.5-12.6-5.5 .7z"/>
<path class="c8" d="M504.7 235.5l5.5-.5-5.4-12.4-5.5 .9z"/>
<path class="c7" d="M499.2 236.1l5.5-.6-5.4-12-5.6 1z"/>
<path class="c7" d="M493.6 236.7l5.6-.6-5.5-11.6-5.5 1.2z"/>
<path class="c6" d="M488.1 237.3l5.5-.6-5.4-11-5.6 1.4z"/>
<path class="c6" d="M482.5 238l5.6-.7-5.5-10.2-5.5 1.5z"/>
<path class="c5" d="M477 238.8l5.5-.8-5.4-9.4-5.5 1.6z"/>
<path class="c4" d="M471.5 239.5l5.5-.7-5.4-8.6-5.6 1.7z"/>
<path class="c3" d="M465.9 240.3l5.6-.8-5.5-7.6-5.5 1.8z"/>
<path class="c3" d="M460.4 241l5.5-.7-5.4-6.6-5.6 1.7z"/>
<path class="c2" d="M454.8 241.7l5.6-.7-5.5-5.6-5.5 1.8z"/>
<path class="c1" d="M449.3 242.4l5.5-.7-5.4-4.5-5.5 1.7z"/>
<path class="c1" d="M443.8 243l5.5-.6-5.4-3.5-5.6 1.5z"/>
<path class="c0" d="M438.2 243.6l5.6-.6-5.5-2.6-5.5 1.4z"/>
<path class="c0" d="M432.7 244.1l5.5-.5-5.4-1.8-5.6 1.1z"/>
<path class="c0" d="M427.1 244.5l5.6-.4-5.5-1.2-5.5 .9z"/>
<path class="c0" d="M421.6 244.9l5.5-.4-5.4-.7-5.5 .6z"/>
<path class="c0" d="M416.1 245.2l5.5-.3-5.4-.5-5.6 .3z"/>
<path class="c0" d="M410.5 245.4l5.6-.2-5.5-.5-5.5 0z"/>
<path class="c0" d="M405 245.5l5.5-.1-5.4-.7-5.6-.3z"/>
<path class="c0" d="M399.4 245.6l5.6-.1-5.5-1.1-5.5-.6z"/>
<path class="c1" d="M393.9 245.6l5.5 0-5.4-1.8-5.5-.8z"/>
<path class="c1" d="M388.4 245.5l5.5 .1-5.4-2.6-5.6-1z"/>
<path class="c2" d="M382.8 245.4l5.6 .1-5.5-3.5-5.5-1.1z"/>
<path class="c3" d="M377.3 245.3l5.5 .1-5.4-4.5-5.6-1.1z"/>
<path class="c3" d="M371.7 245.2l5.6 .1-5.5-5.5-5.5-1.2z"/>
<path class="c4" d="M366.2 245l5.5 .2-5.4-6.6-5.5-1.2z"/>
<path class="c5" d="M360.7 244.8l5.5 .2-5.4-7.6-5.6-1.1z"/>
<path class="c6" d="M355.1 244.7l5.6 .1-5.5-8.5-5.5-1.1z"/>
<path class="c6" d="M349.6 244.5l5.5 .2-5.4-9.5-5.6-.9z"/>
<path class="c7" d="M344 244.5l5.6 0-5.5-10.2-5.5-.8z"/>
<path class="c7" d="M338.5 244.4l5.5 .1-5.4-11-5.5-.6z"/>
<path class="c8" d="M333 244.4l5.5 0-5.4-11.5-5.6-.5z"/>
<path class="c8" d="M327.4 244.5l5.6-.1-5.5-12-5.5-.3z"/>
<path class="c9" d="M321.9 244.6l5.5-.1-5.4-12.4-5.6-.2z"/>
<path class="c9" d="M316.3 244.8l5.6-.2-5.5-12.7-5.5 .1z"/>
<path class="c9" d="M310.8 245l5.5-.2-5.4-12.8-5.5 .2z"/>
<path class="c0" d="M526.8 240.2l5.5-.3-5.4-6.1-5.6 .3z"/>
<path class="c0" d="M521.2 240.5l5.6-.3-5.5-6.1-5.5 .4z"/>
<path class="c0" d="M515.7 240.8l5.5-.3-5.4-6-5.6 .5z"/>
<path class="c0" d="M510.2 241.1l5.5-.3-5.5-5.8-5.5 .5z"/>
<path class="c0" d="M504.6 241.4l5.6-.3-5.5-5.6-5.5 .6z"/>
<path class="c0" d="M499.1 241.7l5.5-.3-5.4-5.3-5.6 .6z"/>
<path class="c0" d="M493.5 241.9l5.6-.2-5.5-5-5.5 .6z"/>
<path class="c0" d="M488 242.2l5.5-.3-5.4-4.6-5.6 .7z"/>
<path class="c0" d="M482.5 242.5l5.5-.3-5.5-4.2-5.5 .8z"/>
<path class="c0" d="M476.9 242.8l5.6-.3-5.5-3.7-5.5 .7z"/>
<path class="c0" d="M471.4 243.1l5.5-.3-5.4-3.3-5.6 .8z"/>
<path class="c0" d="M465.8 243.4l5.6-.3-5.5-2.8-5.5 .7z"/>
<path class="c0" d="M460.3 243.7l5.5-.3-5.4-2.4-5.6 .7z"/>
<path class="c0" d="M454.8 244l5.5-.3-5.5-2-5.5 .7z"/>
<path class="c0" d="M449.2 244.2l5.6-.2-5.5-1.6-5.5 .6z"/>
<path class="c0" d="M443.7 244.5l5.5-.3-5.4-1.2-5.6 .6z"/>
<path class="c0" d="M438.1 244.8l5.6-.3-5.5-.9-5.5 .5z"/>
<path class="c0" d="M432.6 245.1l5.5-.3-5.4-.7-5.6 .4z"/>
<path class="c0" d="M427.1 245.4l5.5-.3-5.5-.6-5.5 .4z"/>
<path class="c0" d="M421.5 245.7l5.6-.3-5.5-.5-5.5 .3z"/>
<path class="c0" d="M416 246l5.5-.3-5.4-.5-5.6 .2z"/>
<path class="c0" d="M410.4 246.3l5.6-.3-5.5-.6-5.5 .1z"/>
<path class="c0" d="M404.9 246.6l5.5-.3-5.4-.8-5.6 .1z"/>
<path class="c0" d="M399.4 246.8l5.5-.2-5.5-1-5.5 0z"/>
<path class="c0" d="M393.8 247.1l5.6-.3-5.5-1.2-5.5-.1z"/>
<path class="c0" d="M388.3 247.4l5.5-.3-5.4-1.6-5.6-.1z"/>
<path class="c0" d="M382.7 247.7l5.6-.3-5.5-2-5.5-.1z"/>
<path class="c0" d="M377.2 248l5.5-.3-5.4-2.4-5.6-.1z"/>
<path class="c0" d="M371.7 248.3l5.5-.3-5.5-2.8-5.5-.2z"/>
<path class="c0" d="M366.1 248.6l5.6-.3-5.5-3.3-5.5-.2z"/>
<path class="c0" d="M360.6 248.9l5.5-.3-5.4-3.8-5.6-.1z"/>
<path class="c0" d="M355 249.1l5.6-.2-5.5-4.2-5.5-.2z"/>
<path class="c0" d="M349.5 249.4l5.5-.3-5.4-4.6-5.6 0z"/>
<path class="c0" d="M344 249.7l5.5-.3-5.5-4.9-5.5-.1z"/>
<path class="c0" d="M338.4 250l5.6-.3-5.5-5.3-5.5 0z"/>
<path class="c0" d="M332.9 250.3l5.5-.3-5.4-5.6-5.6 .1z"/>
<path class="c0" d="M327.3 250.6l5.6-.3-5.5-5.8-5.5 .1z"/>
<path class="c0" d="M321.8 250.9l5.5-.3-5.4-6-5.6 .2z"/>
<path class="c0" d="M316.3 251.2l5.5-.3-5.5-6.1-5.5 .2z"/>
</g>
<g filter="url(#t)">
<line class="a" x1="277.0" y1="253.2" x2="552.1" y2="238.9"/>
<line class="a" x1="277.0" y1="253.2" x2="64.4" y2="234.3"/>
<line class="a" x1="64.4" y1="234.3" x2="64.4" y2="191.6"/>
<line class="a" x1="277.0" y1="253.2" x2="283.5" y2="253.8"/>
<text class="t" x="287.4" y="268.3">0.5</text>
<line class="a" x1="345.8" y1="249.6" x2="352.2" y2="250.2"/>
<text class="t" x="356.2" y="264.7">1</text>
<line class="a" x1="414.6" y1="246.1" x2="421.0" y2="246.6"/>
<text class="t" x="424.9" y="261.2">1.5</text>
<line class="a" x1="483.3" y1="242.5" x2="489.8" y2="243.1"/>
<text class="t" x="493.7" y="257.6">2</text>
<line class="a" x1="552.1" y1="238.9" x2="558.6" y2="239.5"/>
<text class="t" x="562.5" y="254.0">2.5</text>
<line class="a" x1="277.0" y1="253.2" x2="270.5" y2="253.5"/>
<text class="t" text-anchor="end" x="265.5" y="268.6">0</text>
<line class="a" x1="209.3" y1="247.2" x2="202.8" y2="247.5"/>
<text class="t" text-anchor="end" x="197.8" y="262.6">1</text>
<line class="a" x1="141.7" y1="241.2" x2="135.2" y2="241.5"/>
<text class="t" text-anchor="end" x="130.2" y="256.6">2</text>
<line class="a" x1="74.0" y1="235.2" x2="67.5" y2="235.5"/>
<text class="t" text-anchor="end" x="62.5" y="250.6">3</text>
<line class="a" x1="64.4" y1="234.3" x2="57.4" y2="234.3"/>
<text class="t" text-anchor="end" x="54.1" y="238.9">0</text>
<line class="a" x1="64.4" y1="213.0" x2="57.4" y2="213.0"/>
<text class="t" text-anchor="end" x="54.1" y="217.6">0.5</text>
<line class="a" x1="64.4" y1="191.6" x2="57.4" y2="191.6"/>
<text class="t" text-anchor="end" x="54.1" y="196.2">1</text>
<text class="h" text-anchor="middle" x="308.5" y="166.3">Benign Cells (u<tspan font-size="10.6px" dy="6.3" dx="0.6">1</tspan><tspan dy="-6.3">)</tspan></text>
<text class="l" text-anchor="middle" x="388.5" y="287.8">x</text>
<text class="l" text-anchor="middle" x="189" y="287.8">y</text>
<text class="l" text-anchor="middle" transform="translate(23.8 213.8) rotate(-90)" style="font-size:14.3px">u<tspan font-size="10.8px" dy="5.5" dx="0.5">1</tspan></text>
</g>
<g>
<line class="g" x1="64.4" y1="376.1" x2="339.5" y2="361.8"/>
<line class="g" x1="339.5" y1="361.8" x2="552.1" y2="380.7"/>
<line class="g" x1="64.4" y1="362.1" x2="339.5" y2="347.8"/>
<line class="g" x1="339.5" y1="347.8" x2="552.1" y2="366.7"/>
<line class="g" x1="64.4" y1="348.1" x2="339.5" y2="333.8"/>
<line class="g" x1="339.5" y1="333.8" x2="552.1" y2="352.7"/>
<line class="g" x1="64.4" y1="334.1" x2="339.5" y2="319.8"/>
<line class="g" x1="339.5" y1="319.8" x2="552.1" y2="338.7"/>
<line class="g" x1="277.0" y1="395.0" x2="64.4" y2="376.1"/>
<line class="g" x1="64.4" y1="376.1" x2="64.4" y2="334.1"/>
<line class="g" x1="345.8" y1="391.4" x2="133.2" y2="372.5"/>
<line class="g" x1="133.2" y1="372.5" x2="133.2" y2="330.5"/>
<line class="g" x1="414.6" y1="387.9" x2="202.0" y2="369.0"/>
<line class="g" x1="202.0" y1="369.0" x2="202.0" y2="327.0"/>
<line class="g" x1="483.3" y1="384.3" x2="270.7" y2="365.4"/>
<line class="g" x1="270.7" y1="365.4" x2="270.7" y2="323.4"/>
<line class="g" x1="552.1" y1="380.7" x2="339.5" y2="361.8"/>
<line class="g" x1="339.5" y1="361.8" x2="339.5" y2="319.8"/>
<line class="g" x1="277.0" y1="395.0" x2="552.1" y2="380.7"/>
<line class="g" x1="552.1" y1="380.7" x2="552.1" y2="338.7"/>
<line class="g" x1="209.3" y1="389.0" x2="484.4" y2="374.7"/>
<line class="g" x1="484.4" y1="374.7" x2="484.4" y2="332.7"/>
<line class="g" x1="141.7" y1="383.0" x2="416.8" y2="368.7"/>
<line class="g" x1="416.8" y1="368.7" x2="416.8" y2="326.7"/>
<line class="g" x1="74.0" y1="377.0" x2="349.1" y2="362.7"/>
<line class="g" x1="349.1" y1="362.7" x2="349.1" y2="320.7"/>
</g>
<g filter="url(#b)">
<path class="c0" d="M242.1 367.6l5.5-.3-5.4-.4-5.6 .2z"/>
<path class="c0" d="M236.5 367.9l5.6-.3-5.5-.5-5.5 .3z"/>
<path class="c0" d="M231 368.2l5.5-.3-5.4-.5-5.6 .3z"/>
<path class="c0" d="M225.5 368.5l5.5-.3-5.5-.5-5.5 .3z"/>
<path class="c0" d="M120.2 373.8l5.5-.3-5.4-.3-5.6 .3z"/>
<path class="c0" d="M114.7 374.1l5.5-.3-5.5-.3-5.5 .3z"/>
<path class="c0" d="M109.1 374.4l5.6-.3-5.5-.3-5.5 .3z"/>
<path class="c0" d="M242 368.4l5.5-.3-5.4-.5-5.6 .3z"/>
<path class="c0" d="M236.4 368.7l5.6-.3-5.5-.5-5.5 .3z"/>
<path class="c0" d="M230.9 369l5.5-.3-5.4-.5-5.5 .3z"/>
<path class="c1" d="M153.3 372.2l5.6-.2-5.5 .2-5.5 .2z"/>
<path class="c1" d="M147.8 372.4l5.5-.2-5.4 .2-5.5 .3z"/>
<path class="c1" d="M142.3 372.6l5.5-.2-5.4 .3-5.6 .3z"/>
<path class="c1" d="M136.7 372.7l5.6-.1-5.5 .4-5.5 .2z"/>
<path class="c1" d="M131.2 373l5.5-.3-5.4 .5-5.6 .3z"/>
<path class="c1" d="M125.6 373.2l5.6-.2-5.5 .5-5.5 .3z"/>
<path class="c2" d="M120.1 373.4l5.5-.2-5.4 .6-5.5 .3z"/>
<path class="c2" d="M114.6 373.7l5.5-.3-5.4 .7-5.6 .3z"/>
<path class="c0" d="M241.9 369.1l5.5-.3-5.4-.4-5.6 .3z"/>
<path class="c0" d="M236.4 369.5l5.5-.4-5.5-.4-5.5 .3z"/>
<path class="c0" d="M230.8 369.8l5.6-.3-5.5-.5-5.5 .3z"/>
<path class="c1" d="M181 371.3l5.5 0-5.5 0-5.5 .2z"/>
<path class="c2" d="M175.4 371.2l5.6 .1-5.5 .2-5.5 .2z"/>
<path class="c2" d="M169.9 371.2l5.5 0-5.4 .5-5.6 .2z"/>
<path class="c3" d="M164.3 371.1l5.6 .1-5.5 .7-5.5 .1z"/>
<path class="c3" d="M158.8 371l5.5 .1-5.4 .9-5.6 .2z"/>
<path class="c4" d="M153.3 370.9l5.5 .1-5.5 1.2-5.5 .2z"/>
<path class="c5" d="M147.7 370.8l5.6 .1-5.5 1.5-5.5 .2z"/>
<path class="c5" d="M142.2 370.8l5.5 0-5.4 1.8-5.6 .1z"/>
<path class="c5" d="M136.6 370.8l5.6 0-5.5 1.9-5.5 .3z"/>
<path class="c6" d="M131.1 370.9l5.5-.1-5.4 2.2-5.6 .2z"/>
<path class="c6" d="M125.6 371.1l5.5-.2-5.5 2.3-5.5 .2z"/>
<path class="c6" d="M120 371.3l5.6-.2-5.5 2.3-5.5 .3z"/>
<path class="c0" d="M241.8 369.9l5.6-.3-5.5-.5-5.5 .4z"/>
<path class="c0" d="M236.3 370.2l5.5-.3-5.4-.4-5.6 .3z"/>
<path class="c0" d="M230.7 370.5l5.6-.3-5.5-.4-5.5 .2z"/>
<path class="c2" d="M192 370.9l5.5 .2-5.5 .1-5.5 .1z"/>
<path class="c3" d="M186.4 370.5l5.6 .4-5.5 .4-5.5 0z"/>
<path class="c4" d="M180.9 370.1l5.5 .4-5.4 .8-5.6-.1z"/>
<path class="c5" d="M175.3 369.6l5.6 .5-5.5 1.1-5.5 0z"/>
<path class="c7" d="M169.8 369.1l5.5 .5-5.4 1.6-5.6-.1z"/>
<path class="c8" d="M164.2 368.5l5.6 .6-5.5 2-5.5-.1z"/>
<path class="c9" d="M158.7 368l5.5 .5-5.4 2.5-5.5-.1z"/>
<path class="c10" d="M153.2 367.5l5.5 .5-5.4 2.9-5.6-.1z"/>
<path class="c11" d="M147.6 367.1l5.6 .4-5.5 3.3-5.5 0z"/>
<path class="c12" d="M142.1 366.9l5.5 .2-5.4 3.7-5.6 0z"/>
<path class="c13" d="M136.5 366.7l5.6 .2-5.5 3.9-5.5 .1z"/>
<path class="c13" d="M131 366.8l5.5-.1-5.4 4.2-5.5 .2z"/>
<path class="c13" d="M125.5 367l5.5-.2-5.4 4.3-5.6 .2z"/>
<path class="c0" d="M241.7 370.7l5.6-.3-5.5-.5-5.5 .3z"/>
<path class="c0" d="M236.2 371l5.5-.3-5.4-.5-5.6 .3z"/>
<path class="c8" d="M186.3 368.4l5.6 1-5.5 1.1-5.5-.4z"/>
<path class="c10" d="M180.8 367.3l5.5 1.1-5.4 1.7-5.6-.5z"/>
<path class="c12" d="M175.2 366.2l5.6 1.1-5.5 2.3-5.5-.5z"/>
<path class="c14" d="M169.7 365l5.5 1.2-5.4 2.9-5.6-.6z"/>
<path class="c16" d="M164.2 363.9l5.5 1.1-5.5 3.5-5.5-.5z"/>
<path class="c18" d="M158.6 362.9l5.6 1-5.5 4.1-5.5-.5z"/>
<path class="c20" d="M153.1 362l5.5 .9-5.4 4.6-5.6-.4z"/>
<path class="c22" d="M147.5 361.3l5.6 .7-5.5 5.1-5.5-.2z"/>
<path class="c23" d="M142 360.9l5.5 .4-5.4 5.6-5.6-.2z"/>
<path class="c23" d="M136.5 360.7l5.5 .2-5.5 5.8-5.5 .1z"/>
<path class="c24" d="M130.9 360.9l5.6-.2-5.5 6.1-5.5 .2z"/>
<path class="c11" d="M297 360.9l5.6-2.3-5.5 2.7-5.5 1.6z"/>
<path class="c14" d="M186.2 364.6l5.6 1.8-5.5 2-5.5-1.1z"/>
<path class="c18" d="M180.7 362.8l5.5 1.8-5.4 2.7-5.6-1.1z"/>
<path class="c21" d="M175.2 360.9l5.5 1.9-5.5 3.4-5.5-1.2z"/>
<path class="c24" d="M169.6 359.1l5.6 1.8-5.5 4.1-5.5-1.1z"/>
<path class="c27" d="M164.1 357.5l5.5 1.6-5.4 4.8-5.6-1z"/>
<path class="c30" d="M158.5 356l5.6 1.5-5.5 5.4-5.5-.9z"/>
<path class="c32" d="M153 354.9l5.5 1.1-5.4 6-5.6-.7z"/>
<path class="c34" d="M147.5 354.1l5.5 .8-5.5 6.4-5.5-.4z"/>
<path class="c35" d="M141.9 353.7l5.6 .4-5.5 6.8-5.5-.2z"/>
<path class="c35" d="M136.4 353.8l5.5-.1-5.4 7-5.6 .2z"/>
<path class="c19" d="M308 355.9l5.6-3.1-5.5 3.4-5.5 2.4z"/>
<path class="c15" d="M302.5 358.9l5.5-3-5.4 2.7-5.6 2.3z"/>
<path class="c11" d="M296.9 361.6l5.6-2.7-5.5 2-5.5 2.1z"/>
<path class="c28" d="M180.6 356.9l5.5 2.6-5.4 3.3-5.5-1.9z"/>
<path class="c32" d="M175.1 354.4l5.5 2.5-5.4 4-5.6-1.8z"/>
<path class="c36" d="M169.5 352.1l5.6 2.3-5.5 4.7-5.5-1.6z"/>
<path class="c40" d="M164 350.1l5.5 2-5.4 5.4-5.6-1.5z"/>
<path class="c43" d="M158.4 348.5l5.6 1.6-5.5 5.9-5.5-1.1z"/>
<path class="c45" d="M152.9 347.3l5.5 1.2-5.4 6.4-5.5-.8z"/>
<path class="c46" d="M147.4 346.7l5.5 .6-5.4 6.8-5.6-.4z"/>
<path class="c47" d="M141.8 346.7l5.6 0-5.5 7-5.5 .1z"/>
<path class="c29" d="M319 350.2l5.6-3.8-5.5 3.3-5.5 3.1z"/>
<path class="c23" d="M313.5 353.8l5.5-3.6-5.4 2.6-5.6 3.1z"/>
<path class="c18" d="M307.9 357.3l5.6-3.5-5.5 2.1-5.5 3z"/>
<path class="c14" d="M302.4 360.5l5.5-3.2-5.4 1.6-5.6 2.7z"/>
<path class="c39" d="M180.5 350.6l5.6 3-5.5 3.3-5.5-2.5z"/>
<path class="c44" d="M175 347.8l5.5 2.8-5.4 3.8-5.6-2.3z"/>
<path class="c48" d="M169.4 345.3l5.6 2.5-5.5 4.3-5.5-2z"/>
<path class="c52" d="M163.9 343.3l5.5 2-5.4 4.8-5.6-1.6z"/>
<path class="c54" d="M158.4 341.9l5.5 1.4-5.5 5.2-5.5-1.2z"/>
<path class="c56" d="M152.8 341.1l5.6 .8-5.5 5.4-5.5-.6z"/>
<path class="c56" d="M147.3 341l5.5 .1-5.4 5.6-5.6 0z"/>
<path class="c62" d="M363.2 327.1l5.6-.7-5.5 3.4-5.5 .6z"/>
<path class="c60" d="M357.7 328.6l5.5-1.5-5.4 3.3-5.5 1.4z"/>
<path class="c57" d="M352.2 330.8l5.5-2.2-5.4 3.2-5.6 2z"/>
<path class="c53" d="M346.6 333.6l5.6-2.8-5.5 3-5.5 2.6z"/>
<path class="c48" d="M341.1 336.9l5.5-3.3-5.4 2.8-5.6 3z"/>
<path class="c43" d="M335.5 340.6l5.6-3.7-5.5 2.5-5.5 3.4z"/>
<path class="c37" d="M330 344.6l5.5-4-5.4 2.2-5.5 3.6z"/>
<path class="c32" d="M324.5 348.7l5.5-4.1-5.4 1.8-5.6 3.8z"/>
<path class="c26" d="M318.9 352.7l5.6-4-5.5 1.5-5.5 3.6z"/>
<path class="c20" d="M313.4 356.5l5.5-3.8-5.4 1.1-5.6 3.5z"/>
<path class="c15" d="M307.8 360.1l5.6-3.6-5.5 .8-5.5 3.2z"/>
<path class="c11" d="M302.3 363.2l5.5-3.1-5.4 .4-5.5 2.9z"/>
<path class="c57" d="M169.3 340.3l5.6 2.2-5.5 2.8-5.5-2z"/>
<path class="c60" d="M163.8 338.7l5.5 1.6-5.4 3-5.5-1.4z"/>
<path class="c62" d="M158.3 337.8l5.5 .9-5.4 3.2-5.6-.8z"/>
<path class="c62" d="M152.7 337.7l5.6 .1-5.5 3.3-5.5-.1z"/>
<path class="c63" d="M368.7 326.8l5.5-.7-5.4 .3-5.6 .7z"/>
<path class="c61" d="M363.2 328.3l5.5-1.5-5.5 .3-5.5 1.5z"/>
<path class="c58" d="M357.6 330.5l5.6-2.2-5.5 .3-5.5 2.2z"/>
<path class="c54" d="M352.1 333.4l5.5-2.9-5.4 .3-5.6 2.8z"/>
<path class="c49" d="M346.5 336.8l5.6-3.4-5.5 .2-5.5 3.3z"/>
<path class="c44" d="M341 340.6l5.5-3.8-5.4 .1-5.6 3.7z"/>
<path class="c38" d="M335.5 344.6l5.5-4-5.5 0-5.5 4z"/>
<path class="c32" d="M329.9 348.7l5.6-4.1-5.5 0-5.5 4.1z"/>
<path class="c26" d="M324.4 352.8l5.5-4.1-5.4 0-5.6 4z"/>
<path class="c21" d="M318.8 356.7l5.6-3.9-5.5-.1-5.5 3.8z"/>
<path class="c16" d="M313.3 360.3l5.5-3.6-5.4-.2-5.6 3.6z"/>
<path class="c11" d="M307.8 363.5l5.5-3.2-5.5-.2-5.5 3.1z"/>
<path class="c63" d="M163.7 337.5l5.6 .9-5.5 .3-5.5-.9z"/>
<path class="c63" d="M158.2 337.4l5.5 .1-5.4 .3-5.6-.1z"/>
<path class="c59" d="M374.1 329.7l5.6-.7-5.5-2.9-5.5 .7z"/>
<path class="c58" d="M368.6 331.1l5.5-1.4-5.4-2.9-5.5 1.5z"/>
<path class="c55" d="M363.1 333.2l5.5-2.1-5.4-2.8-5.6 2.2z"/>
<path class="c51" d="M357.5 335.9l5.6-2.7-5.5-2.7-5.5 2.9z"/>
<path class="c46" d="M352 339.1l5.5-3.2-5.4-2.5-5.6 3.4z"/>
<path class="c41" d="M346.4 342.7l5.6-3.6-5.5-2.3-5.5 3.8z"/>
<path class="c36" d="M340.9 346.5l5.5-3.8-5.4-2.1-5.5 4z"/>
<path class="c30" d="M335.4 350.4l5.5-3.9-5.4-1.9-5.6 4.1z"/>
<path class="c25" d="M329.8 354.3l5.6-3.9-5.5-1.7-5.5 4.1z"/>
<path class="c20" d="M324.3 358l5.5-3.7-5.4-1.5-5.6 3.9z"/>
<path class="c15" d="M318.7 361.4l5.6-3.4-5.5-1.3-5.5 3.6z"/>
<path class="c11" d="M313.2 364.4l5.5-3-5.4-1.1-5.5 3.2z"/>
<path class="c7" d="M307.7 367l5.5-2.6-5.4-.9-5.6 2.7z"/>
<path class="c51" d="M185.8 344.8l5.5 2.6-5.4-2.3-5.6-2.8z"/>
<path class="c55" d="M180.2 342.7l5.6 2.1-5.5-2.5-5.5-2.3z"/>
<path class="c58" d="M174.7 341.1l5.5 1.6-5.4-2.7-5.5-1.6z"/>
<path class="c59" d="M169.2 340.3l5.5 .8-5.4-2.7-5.6-.9z"/>
<path class="c60" d="M163.6 340.2l5.6 .1-5.5-2.8-5.5-.1z"/>
<path class="c51" d="M379.6 335.2l5.5-.6-5.4-5.6-5.6 .7z"/>
<path class="c50" d="M374.1 336.5l5.5-1.3-5.5-5.5-5.5 1.4z"/>
<path class="c48" d="M368.5 338.3l5.6-1.8-5.5-5.4-5.5 2.1z"/>
<path class="c44" d="M363 340.7l5.5-2.4-5.4-5.1-5.6 2.7z"/>
<path class="c40" d="M357.4 343.6l5.6-2.9-5.5-4.8-5.5 3.2z"/>
<path class="c36" d="M351.9 346.7l5.5-3.1-5.4-4.5-5.6 3.6z"/>
<path class="c31" d="M346.4 350.1l5.5-3.4-5.5-4-5.5 3.8z"/>
<path class="c26" d="M340.8 353.6l5.6-3.5-5.5-3.6-5.5 3.9z"/>
<path class="c21" d="M335.3 357l5.5-3.4-5.4-3.2-5.6 3.9z"/>
<path class="c17" d="M329.7 360.2l5.6-3.2-5.5-2.7-5.5 3.7z"/>
<path class="c13" d="M324.2 363.2l5.5-3-5.4-2.2-5.6 3.4z"/>
<path class="c9" d="M318.7 365.9l5.5-2.7-5.5-1.8-5.5 3z"/>
<path class="c6" d="M313.1 368.1l5.6-2.2-5.5-1.5-5.5 2.6z"/>
<path class="c26" d="M213.4 360.2l5.5 2.8-5.4-2.6-5.6-3.3z"/>
<path class="c31" d="M207.9 357.3l5.5 2.9-5.5-3.1-5.5-3.4z"/>
<path class="c36" d="M202.3 354.5l5.6 2.8-5.5-3.6-5.5-3.2z"/>
<path class="c40" d="M196.8 351.9l5.5 2.6-5.4-4-5.6-3.1z"/>
<path class="c44" d="M191.2 349.7l5.6 2.2-5.5-4.5-5.5-2.6z"/>
<path class="c48" d="M185.7 347.8l5.5 1.9-5.4-4.9-5.6-2.1z"/>
<path class="c50" d="M180.2 346.6l5.5 1.2-5.5-5.1-5.5-1.6z"/>
<path class="c51" d="M174.6 345.9l5.6 .7-5.5-5.5-5.5-.8z"/>
<path class="c52" d="M169.1 345.8l5.5 .1-5.4-5.6-5.6-.1z"/>
<path class="c41" d="M385.1 342.6l5.5-.5-5.5-7.5-5.5 .6z"/>
<path class="c40" d="M379.5 343.7l5.6-1.1-5.5-7.4-5.5 1.3z"/>
<path class="c38" d="M374 345.2l5.5-1.5-5.4-7.2-5.6 1.8z"/>
<path class="c35" d="M368.4 347.2l5.6-2-5.5-6.9-5.5 2.4z"/>
<path class="c32" d="M362.9 349.5l5.5-2.3-5.4-6.5-5.6 2.9z"/>
<path class="c28" d="M357.4 352.1l5.5-2.6-5.5-5.9-5.5 3.1z"/>
<path class="c25" d="M351.8 354.8l5.6-2.7-5.5-5.4-5.5 3.4z"/>
<path class="c21" d="M346.3 357.6l5.5-2.8-5.4-4.7-5.6 3.5z"/>
<path class="c17" d="M340.7 360.4l5.6-2.8-5.5-4-5.5 3.4z"/>
<path class="c13" d="M335.2 363l5.5-2.6-5.4-3.4-5.6 3.2z"/>
<path class="c10" d="M329.7 365.5l5.5-2.5-5.5-2.8-5.5 3z"/>
<path class="c7" d="M324.1 367.6l5.6-2.1-5.5-2.3-5.5 2.7z"/>
<path class="c5" d="M318.6 369.5l5.5-1.9-5.4-1.7-5.6 2.2z"/>
<path class="c7" d="M241 371.9l5.5 1.3-5.4-1.3-5.5-1.7z"/>
<path class="c10" d="M235.5 370.3l5.5 1.6-5.4-1.7-5.6-2.1z"/>
<path class="c13" d="M229.9 368.5l5.6 1.8-5.5-2.2-5.5-2.4z"/>
<path class="c17" d="M224.4 366.4l5.5 2.1-5.4-2.8-5.6-2.7z"/>
<path class="c21" d="M218.8 364.2l5.6 2.2-5.5-3.4-5.5-2.8z"/>
<path class="c25" d="M213.3 362l5.5 2.2-5.4-4-5.5-2.9z"/>
<path class="c28" d="M207.8 359.9l5.5 2.1-5.4-4.7-5.6-2.8z"/>
<path class="c32" d="M202.2 357.9l5.6 2-5.5-5.4-5.5-2.6z"/>
<path class="c35" d="M196.7 356.1l5.5 1.8-5.4-6-5.6-2.2z"/>
<path class="c38" d="M191.1 354.7l5.6 1.4-5.5-6.4-5.5-1.9z"/>
<path class="c40" d="M185.6 353.8l5.5 .9-5.4-6.9-5.5-1.2z"/>
<path class="c41" d="M180.1 353.3l5.5 .5-5.4-7.2-5.6-.7z"/>
<path class="c41" d="M174.5 353.3l5.6 0-5.5-7.4-5.5-.1z"/>
<path class="c29" d="M390.5 350.7l5.5-.4-5.4-8.2-5.5 .5z"/>
<path class="c28" d="M385 351.6l5.5-.9-5.4-8.1-5.6 1.1z"/>
<path class="c27" d="M379.4 352.8l5.6-1.2-5.5-7.9-5.5 1.5z"/>
<path class="c25" d="M373.9 354.2l5.5-1.4-5.4-7.6-5.6 2z"/>
<path class="c23" d="M368.3 356l5.6-1.8-5.5-7-5.5 2.3z"/>
<path class="c20" d="M362.8 357.9l5.5-1.9-5.4-6.5-5.5 2.6z"/>
<path class="c18" d="M357.3 359.9l5.5-2-5.4-5.8-5.6 2.7z"/>
<path class="c15" d="M351.7 362l5.6-2.1-5.5-5.1-5.5 2.8z"/>
<path class="c12" d="M346.2 364.1l5.5-2.1-5.4-4.4-5.6 2.8z"/>
<path class="c9" d="M340.6 366.1l5.6-2-5.5-3.7-5.5 2.6z"/>
<path class="c7" d="M335.1 367.9l5.5-1.8-5.4-3.1-5.5 2.5z"/>
<path class="c5" d="M329.6 369.5l5.5-1.6-5.4-2.4-5.6 2.1z"/>
<path class="c3" d="M324 370.9l5.6-1.4-5.5-1.9-5.5 1.9z"/>
<path class="c2" d="M318.5 372.1l5.5-1.2-5.4-1.4-5.6 1.5z"/>
<path class="c7" d="M240.9 372.8l5.6 1-5.5-1.9-5.5-1.6z"/>
<path class="c9" d="M235.4 371.5l5.5 1.3-5.4-2.5-5.6-1.8z"/>
<path class="c12" d="M229.8 370.1l5.6 1.4-5.5-3-5.5-2.1z"/>
<path class="c15" d="M224.3 368.6l5.5 1.5-5.4-3.7-5.6-2.2z"/>
<path class="c18" d="M218.8 367.1l5.5 1.5-5.5-4.4-5.5-2.2z"/>
<path class="c20" d="M213.2 365.7l5.6 1.4-5.5-5.1-5.5-2.1z"/>
<path class="c23" d="M207.7 364.3l5.5 1.4-5.4-5.8-5.6-2z"/>
<path class="c25" d="M202.1 363.2l5.6 1.1-5.5-6.4-5.5-1.8z"/>
<path class="c27" d="M196.6 362.3l5.5 .9-5.4-7.1-5.6-1.4z"/>
<path class="c28" d="M191.1 361.7l5.5 .6-5.5-7.6-5.5-.9z"/>
<path class="c29" d="M185.5 361.4l5.6 .3-5.5-7.9-5.5-.5z"/>
<path class="c29" d="M180 361.5l5.5-.1-5.4-8.1-5.6 0z"/>
<path class="c18" d="M396 358.4l5.5-.4-5.5-7.7-5.5 .4z"/>
<path class="c17" d="M390.4 359l5.6-.6-5.5-7.7-5.5 .9z"/>
<path class="c17" d="M384.9 359.8l5.5-.8-5.4-7.4-5.6 1.2z"/>
<path class="c15" d="M379.3 360.9l5.6-1.1-5.5-7-5.5 1.4z"/>
<path class="c14" d="M373.8 362.1l5.5-1.2-5.4-6.7-5.6 1.8z"/>
<path class="c12" d="M368.3 363.4l5.5-1.3-5.5-6.1-5.5 1.9z"/>
<path class="c11" d="M362.7 364.8l5.6-1.4-5.5-5.5-5.5 2z"/>
<path class="c9" d="M357.2 366.2l5.5-1.4-5.4-4.9-5.6 2.1z"/>
<path class="c7" d="M351.6 367.6l5.6-1.4-5.5-4.2-5.5 2.1z"/>
<path class="c6" d="M346.1 368.9l5.5-1.3-5.4-3.5-5.6 2z"/>
<path class="c4" d="M340.6 370.2l5.5-1.3-5.5-2.8-5.5 1.8z"/>
<path class="c3" d="M335 371.3l5.6-1.1-5.5-2.3-5.5 1.6z"/>
<path class="c2" d="M329.5 372.3l5.5-1-5.4-1.8-5.6 1.4z"/>
<path class="c1" d="M323.9 373.2l5.6-.9-5.5-1.4-5.5 1.2z"/>
<path class="c6" d="M240.8 374.4l5.6 .7-5.5-2.3-5.5-1.3z"/>
<path class="c7" d="M235.3 373.6l5.5 .8-5.4-2.9-5.6-1.4z"/>
<path class="c9" d="M229.8 372.8l5.5 .8-5.5-3.5-5.5-1.5z"/>
<path class="c11" d="M224.2 372l5.6 .8-5.5-4.2-5.5-1.5z"/>
<path class="c12" d="M218.7 371.2l5.5 .8-5.4-4.9-5.6-1.4z"/>
<path class="c14" d="M213.1 370.4l5.6 .8-5.5-5.5-5.5-1.4z"/>
<path class="c15" d="M207.6 369.8l5.5 .6-5.4-6.1-5.6-1.1z"/>
<path class="c17" d="M202.1 369.3l5.5 .5-5.5-6.6-5.5-.9z"/>
<path class="c17" d="M196.5 369.1l5.6 .2-5.5-7-5.5-.6z"/>
<path class="c18" d="M191 369l5.5 .1-5.4-7.4-5.6-.3z"/>
<path class="c18" d="M185.4 369.2l5.6-.2-5.5-7.6-5.5 .1z"/>
<path class="c9" d="M401.4 364.6l5.5-.4-5.4-6.2-5.5 .4z"/>
<path class="c9" d="M395.9 365l5.5-.4-5.4-6.2-5.6 .6z"/>
<path class="c8" d="M390.3 365.6l5.6-.6-5.5-6-5.5 .8z"/>
<path class="c8" d="M384.8 366.3l5.5-.7-5.4-5.8-5.6 1.1z"/>
<path class="c7" d="M379.2 367.1l5.6-.8-5.5-5.4-5.5 1.2z"/>
<path class="c6" d="M373.7 367.9l5.5-.8-5.4-5-5.5 1.3z"/>
<path class="c5" d="M368.2 368.8l5.5-.9-5.4-4.5-5.6 1.4z"/>
<path class="c5" d="M362.6 369.6l5.6-.8-5.5-4-5.5 1.4z"/>
<path class="c4" d="M357.1 370.5l5.5-.9-5.4-3.4-5.6 1.4z"/>
<path class="c3" d="M351.5 371.3l5.6-.8-5.5-2.9-5.5 1.3z"/>
<path class="c2" d="M346 372.1l5.5-.8-5.4-2.4-5.5 1.3z"/>
<path class="c1" d="M340.5 372.9l5.5-.8-5.4-1.9-5.6 1.1z"/>
<path class="c1" d="M334.9 373.5l5.6-.6-5.5-1.6-5.5 1z"/>
<path class="c0" d="M329.4 374.1l5.5-.6-5.4-1.2-5.6 .9z"/>
<path class="c0" d="M323.8 374.6l5.6-.5-5.5-.9-5.5 .7z"/>
<path class="c5" d="M235.2 376.3l5.5 .3-5.4-3-5.5-.8z"/>
<path class="c5" d="M229.7 376l5.5 .3-5.4-3.5-5.6-.8z"/>
<path class="c6" d="M224.1 375.7l5.6 .3-5.5-4-5.5-.8z"/>
<path class="c7" d="M218.6 375.4l5.5 .3-5.4-4.5-5.6-.8z"/>
<path class="c8" d="M213 375.2l5.6 .2-5.5-5-5.5-.6z"/>
<path class="c8" d="M207.5 375.1l5.5 .1-5.4-5.4-5.5-.5z"/>
<path class="c9" d="M202 375.1l5.5 0-5.4-5.8-5.6-.2z"/>
<path class="c9" d="M196.4 375.2l5.6-.1-5.5-6-5.5-.1z"/>
<path class="c9" d="M190.9 375.5l5.5-.3-5.4-6.2-5.6 .2z"/>
<path class="c3" d="M406.9 368.9l5.5-.3-5.5-4.4-5.5 .4z"/>
<path class="c3" d="M401.3 369.2l5.6-.3-5.5-4.3-5.5 .4z"/>
<path class="c3" d="M395.8 369.6l5.5-.4-5.4-4.2-5.6 .6z"/>
<path class="c3" d="M390.2 370.1l5.6-.5-5.5-4-5.5 .7z"/>
<path class="c3" d="M384.7 370.6l5.5-.5-5.4-3.8-5.6 .8z"/>
<path class="c2" d="M379.2 371.1l5.5-.5-5.5-3.5-5.5 .8z"/>
<path class="c2" d="M373.6 371.6l5.6-.5-5.5-3.2-5.5 .9z"/>
<path class="c1" d="M368.1 372.1l5.5-.5-5.4-2.8-5.6 .8z"/>
<path class="c1" d="M362.5 372.6l5.6-.5-5.5-2.5-5.5 .9z"/>
<path class="c1" d="M357 373.1l5.5-.5-5.4-2.1-5.6 .8z"/>
<path class="c0" d="M351.5 373.6l5.5-.5-5.5-1.8-5.5 .8z"/>
<path class="c0" d="M345.9 374.1l5.6-.5-5.5-1.5-5.5 .8z"/>
<path class="c0" d="M340.4 374.5l5.5-.4-5.4-1.2-5.6 .6z"/>
<path class="c0" d="M334.8 374.9l5.6-.4-5.5-1-5.5 .6z"/>
<path class="c0" d="M329.3 375.3l5.5-.4-5.4-.8-5.6 .5z"/>
<path class="c2" d="M235.1 378.8l5.6-.1-5.5-2.4-5.5-.3z"/>
<path class="c2" d="M229.6 378.8l5.5 0-5.4-2.8-5.6-.3z"/>
<path class="c3" d="M224 378.9l5.6-.1-5.5-3.1-5.5-.3z"/>
<path class="c3" d="M218.5 379l5.5-.1-5.4-3.5-5.6-.2z"/>
<path class="c3" d="M213 379.1l5.5-.1-5.5-3.8-5.5-.1z"/>
<path class="c3" d="M207.4 379.3l5.6-.2-5.5-4-5.5 0z"/>
<path class="c3" d="M201.9 379.5l5.5-.2-5.4-4.2-5.6 .1z"/>
<path class="c3" d="M196.3 379.8l5.6-.3-5.5-4.3-5.5 .3z"/>
<path class="c0" d="M406.8 371.6l5.5-.3-5.4-2.4-5.6 .3z"/>
<path class="c0" d="M401.2 371.9l5.6-.3-5.5-2.4-5.5 .4z"/>
<path class="c0" d="M395.7 372.2l5.5-.3-5.4-2.3-5.6 .5z"/>
<path class="c0" d="M390.1 372.5l5.6-.3-5.5-2.1-5.5 .5z"/>
<path class="c0" d="M384.6 372.9l5.5-.4-5.4-1.9-5.5 .5z"/>
<path class="c0" d="M379.1 373.2l5.5-.3-5.4-1.8-5.6 .5z"/>
<path class="c0" d="M373.5 373.6l5.6-.4-5.5-1.6-5.5 .5z"/>
<path class="c0" d="M368 373.9l5.5-.3-5.4-1.5-5.6 .5z"/>
<path class="c0" d="M362.4 374.2l5.6-.3-5.5-1.3-5.5 .5z"/>
<path class="c0" d="M356.9 374.6l5.5-.4-5.4-1.1-5.5 .5z"/>
<path class="c0" d="M351.4 374.9l5.5-.3-5.4-1-5.6 .5z"/>
<path class="c0" d="M345.8 375.2l5.6-.3-5.5-.8-5.5 .4z"/>
<path class="c0" d="M340.3 375.5l5.5-.3-5.4-.7-5.6 .4z"/>
<path class="c0" d="M334.7 375.8l5.6-.3-5.5-.6-5.5 .4z"/>
<path class="c0" d="M329.2 376.1l5.5-.3-5.4-.5-5.5 .3z"/>
<path class="c0" d="M229.5 380.9l5.5-.2-5.4-1.9-5.6 .1z"/>
<path class="c0" d="M223.9 381.1l5.6-.2-5.5-2-5.5 .1z"/>
<path class="c0" d="M218.4 381.4l5.5-.3-5.4-2.1-5.5 .1z"/>
<path class="c0" d="M212.9 381.7l5.5-.3-5.4-2.3-5.6 .2z"/>
<path class="c0" d="M207.3 381.9l5.6-.2-5.5-2.4-5.5 .2z"/>
<path class="c0" d="M201.8 382.2l5.5-.3-5.4-2.4-5.6 .3z"/>
<path class="c0" d="M401.1 373.2l5.6-.3-5.5-1-5.5 .3z"/>
<path class="c0" d="M395.6 373.5l5.5-.3-5.4-1-5.6 .3z"/>
<path class="c0" d="M390.1 373.7l5.5-.2-5.5-1-5.5 .4z"/>
<path class="c0" d="M384.5 374l5.6-.3-5.5-.8-5.5 .3z"/>
<path class="c0" d="M379 374.3l5.5-.3-5.4-.8-5.6 .4z"/>
<path class="c0" d="M373.4 374.6l5.6-.3-5.5-.7-5.5 .3z"/>
<path class="c0" d="M367.9 374.9l5.5-.3-5.4-.7-5.6 .3z"/>
<path class="c0" d="M362.4 375.2l5.5-.3-5.5-.7-5.5 .4z"/>
<path class="c0" d="M356.8 375.5l5.6-.3-5.5-.6-5.5 .3z"/>
<path class="c0" d="M351.3 375.8l5.5-.3-5.4-.6-5.6 .3z"/>
<path class="c0" d="M345.7 376.1l5.6-.3-5.5-.6-5.5 .3z"/>
<path class="c0" d="M340.2 376.4l5.5-.3-5.4-.6-5.6 .3z"/>
<path class="c0" d="M334.7 376.6l5.5-.2-5.5-.6-5.5 .3z"/>
<path class="c0" d="M329.1 376.9l5.6-.3-5.5-.5-5.5 .3z"/>
<path class="c0" d="M229.4 382.1l5.5-.3-5.4-.9-5.6 .2z"/>
<path class="c0" d="M223.9 382.4l5.5-.3-5.5-1-5.5 .3z"/>
<path class="c0" d="M218.3 382.7l5.6-.3-5.5-1-5.5 .3z"/>
<path class="c0" d="M212.8 383l5.5-.3-5.4-1-5.6 .2z"/>
<path class="c0" d="M207.2 383.2l5.6-.2-5.5-1.1-5.5 .3z"/>
<path class="c0" d="M395.5 374.2l5.5-.3-5.4-.4-5.5 .2z"/>
<path class="c0" d="M390 374.5l5.5-.3-5.4-.5-5.6 .3z"/>
<path class="c0" d="M384.4 374.8l5.6-.3-5.5-.5-5.5 .3z"/>
<path class="c0" d="M378.9 375.1l5.5-.3-5.4-.5-5.6 .3z"/>
<path class="c0" d="M373.3 375.4l5.6-.3-5.5-.5-5.5 .3z"/>
<path class="c0" d="M367.8 375.7l5.5-.3-5.4-.5-5.5 .3z"/>
<path class="c0" d="M362.3 376l5.5-.3-5.4-.5-5.6 .3z"/>
<path class="c0" d="M356.7 376.3l5.6-.3-5.5-.5-5.5 .3z"/>
<path class="c0" d="M351.2 376.6l5.5-.3-5.4-.5-5.6 .3z"/>
<path class="c0" d="M345.6 376.8l5.6-.2-5.5-.5-5.5 .3z"/>
<path class="c0" d="M340.1 377.1l5.5-.3-5.4-.4-5.5 .2z"/>
<path class="c0" d="M334.6 377.4l5.5-.3-5.4-.5-5.6 .3z"/>
<path class="c0" d="M223.8 383.2l5.5-.3-5.4-.5-5.6 .3z"/>
<path class="c0" d="M218.2 383.4l5.6-.2-5.5-.5-5.5 .3z"/>
<path class="c0" d="M212.7 383.7l5.5-.3-5.4-.4-5.6 .2z"/>
<path class="c0" d="M389.9 375l5.5-.3-5.4-.2-5.6 .3z"/>
<path class="c0" d="M384.3 375.4l5.6-.4-5.5-.2-5.5 .3z"/>
<path class="c0" d="M378.8 375.7l5.5-.3-5.4-.3-5.6 .3z"/>
<path class="c0" d="M373.3 376l5.5-.3-5.5-.3-5.5 .3z"/>
<path class="c0" d="M367.7 376.4l5.6-.4-5.5-.3-5.5 .3z"/>
<path class="c0" d="M362.2 376.7l5.5-.3-5.4-.4-5.6 .3z"/>
<path class="c0" d="M356.6 377l5.6-.3-5.5-.4-5.5 .3z"/>
<path class="c0" d="M351.1 377.3l5.5-.3-5.4-.4-5.6 .2z"/>
<path class="c0" d="M345.6 377.6l5.5-.3-5.5-.5-5.5 .3z"/>
<path class="c0" d="M340 377.9l5.6-.3-5.5-.5-5.5 .3z"/>
<path class="c0" d="M334.5 378.2l5.5-.3-5.4-.5-5.6 .3z"/>
<path class="c0" d="M218.1 383.7l5.6-.3-5.5 0-5.5 .3z"/>
<path class="c1" d="M384.3 375.5l5.5-.5-5.5 .4-5.5 .3z"/>
<path class="c0" d="M378.7 376l5.6-.5-5.5 .2-5.5 .3z"/>
<path class="c0" d="M373.2 376.5l5.5-.5-5.4 0-5.6 .4z"/>
<path class="c0" d="M367.6 376.9l5.6-.4-5.5-.1-5.5 .3z"/>
<path class="c0" d="M362.1 377.3l5.5-.4-5.4-.2-5.6 .3z"/>
<path class="c0" d="M356.6 377.7l5.5-.4-5.5-.3-5.5 .3z"/>
<path class="c0" d="M351 378l5.6-.3-5.5-.4-5.5 .3z"/>
<path class="c0" d="M345.5 378.4l5.5-.4-5.4-.4-5.6 .3z"/>
<path class="c0" d="M339.9 378.7l5.6-.3-5.5-.5-5.5 .3z"/>
<path class="c0" d="M334.4 379l5.5-.3-5.4-.5-5.6 .3z"/>
<path class="c1" d="M279 381l5.5-.1-5.4 0-5.6 .3z"/>
<path class="c1" d="M273.4 381.1l5.6-.1-5.5 .2-5.5 .2z"/>
<path class="c1" d="M267.9 381.1l5.5 0-5.4 .3-5.5 .2z"/>
<path class="c2" d="M262.4 381.2l5.5-.1-5.4 .5-5.6 .3z"/>
<path class="c2" d="M256.8 381.3l5.6-.1-5.5 .7-5.5 .2z"/>
<path class="c3" d="M251.3 381.3l5.5 0-5.4 .8-5.6 .3z"/>
<path class="c3" d="M245.7 381.4l5.6-.1-5.5 1.1-5.5 .2z"/>
<path class="c3" d="M240.2 381.6l5.5-.2-5.4 1.2-5.5 .2z"/>
<path class="c3" d="M234.7 381.7l5.5-.1-5.4 1.2-5.6 .3z"/>
<path class="c3" d="M229.1 381.9l5.6-.2-5.5 1.4-5.5 .3z"/>
<path class="c3" d="M223.6 382.2l5.5-.3-5.4 1.5-5.6 .3z"/>
<path class="c1" d="M378.6 376.3l5.6-.8-5.5 .5-5.5 .5z"/>
<path class="c1" d="M373.1 376.9l5.5-.6-5.4 .2-5.6 .4z"/>
<path class="c0" d="M367.5 377.5l5.6-.6-5.5 0-5.5 .4z"/>
<path class="c0" d="M362 378l5.5-.5-5.4-.2-5.5 .4z"/>
<path class="c0" d="M356.5 378.4l5.5-.4-5.4-.3-5.6 .3z"/>
<path class="c0" d="M350.9 378.8l5.6-.4-5.5-.4-5.5 .4z"/>
<path class="c0" d="M345.4 379.1l5.5-.3-5.4-.4-5.6 .3z"/>
<path class="c0" d="M339.8 379.4l5.6-.3-5.5-.4-5.5 .3z"/>
<path class="c1" d="M295.5 380.6l5.6 .1-5.5 0-5.5 .1z"/>
<path class="c2" d="M290 380.4l5.5 .2-5.4 .2-5.6 .1z"/>
<path class="c3" d="M284.4 380.2l5.6 .2-5.5 .5-5.5 .1z"/>
<path class="c4" d="M278.9 379.9l5.5 .3-5.4 .8-5.6 .1z"/>
<path class="c5" d="M273.4 379.7l5.5 .2-5.5 1.2-5.5 0z"/>
<path class="c5" d="M267.8 379.4l5.6 .3-5.5 1.4-5.5 .1z"/>
<path class="c6" d="M262.3 379.1l5.5 .3-5.4 1.8-5.6 .1z"/>
<path class="c7" d="M256.7 378.8l5.6 .3-5.5 2.2-5.5 0z"/>
<path class="c8" d="M251.2 378.6l5.5 .2-5.4 2.5-5.6 .1z"/>
<path class="c8" d="M245.7 378.5l5.5 .1-5.5 2.8-5.5 .2z"/>
<path class="c9" d="M240.1 378.5l5.6 0-5.5 3.1-5.5 .1z"/>
<path class="c9" d="M234.6 378.6l5.5-.1-5.4 3.2-5.6 .2z"/>
<path class="c9" d="M229 378.8l5.6-.2-5.5 3.3-5.5 .3z"/>
<path class="c3" d="M384.1 375.7l5.5-1.1-5.4 .9-5.6 .8z"/>
<path class="c2" d="M378.5 376.7l5.6-1-5.5 .6-5.5 .6z"/>
<path class="c1" d="M373 377.5l5.5-.8-5.4 .2-5.6 .6z"/>
<path class="c0" d="M367.5 378.2l5.5-.7-5.5 0-5.5 .5z"/>
<path class="c0" d="M361.9 378.8l5.6-.6-5.5-.2-5.5 .4z"/>
<path class="c0" d="M356.4 379.3l5.5-.5-5.4-.4-5.6 .4z"/>
<path class="c0" d="M350.8 379.6l5.6-.3-5.5-.5-5.5 .3z"/>
<path class="c0" d="M345.3 379.9l5.5-.3-5.4-.5-5.6 .3z"/>
<path class="c0" d="M339.8 380.2l5.5-.3-5.5-.5-5.5 .3z"/>
<path class="c4" d="M295.4 379.5l5.6 .5-5.5 .6-5.5-.2z"/>
<path class="c6" d="M289.9 378.8l5.5 .7-5.4 .9-5.6-.2z"/>
<path class="c7" d="M284.4 378l5.5 .8-5.5 1.4-5.5-.3z"/>
<path class="c9" d="M278.8 377.2l5.6 .8-5.5 1.9-5.5-.2z"/>
<path class="c11" d="M273.3 376.3l5.5 .9-5.4 2.5-5.6-.3z"/>
<path class="c12" d="M267.7 375.5l5.6 .8-5.5 3.1-5.5-.3z"/>
<path class="c14" d="M262.2 374.8l5.5 .7-5.4 3.6-5.6-.3z"/>
<path class="c15" d="M256.7 374.2l5.5 .6-5.5 4-5.5-.2z"/>
<path class="c17" d="M251.1 373.7l5.6 .5-5.5 4.4-5.5-.1z"/>
<path class="c17" d="M245.6 373.4l5.5 .3-5.4 4.8-5.6 0z"/>
<path class="c18" d="M240 373.4l5.6 0-5.5 5.1-5.5 .1z"/>
<path class="c18" d="M234.5 373.5l5.5-.1-5.4 5.2-5.6 .2z"/>
<path class="c7" d="M395.1 373.2l5.5-1.8-5.4 1.9-5.6 1.3z"/>
<path class="c5" d="M389.5 374.9l5.6-1.7-5.5 1.4-5.5 1.1z"/>
<path class="c3" d="M384 376.3l5.5-1.4-5.4 .8-5.6 1z"/>
<path class="c2" d="M378.4 377.5l5.6-1.2-5.5 .4-5.5 .8z"/>
<path class="c1" d="M372.9 378.4l5.5-.9-5.4 0-5.5 .7z"/>
<path class="c0" d="M367.4 379.1l5.5-.7-5.4-.2-5.6 .6z"/>
<path class="c0" d="M361.8 379.7l5.6-.6-5.5-.3-5.5 .5z"/>
<path class="c0" d="M356.3 380.1l5.5-.4-5.4-.4-5.6 .3z"/>
<path class="c0" d="M350.7 380.4l5.6-.3-5.5-.5-5.5 .3z"/>
<path class="c0" d="M345.2 380.7l5.5-.3-5.4-.5-5.5 .3z"/>
<path class="c9" d="M295.3 376.9l5.6 1.2-5.5 1.4-5.5-.7z"/>
<path class="c12" d="M289.8 375.5l5.5 1.4-5.4 1.9-5.5-.8z"/>
<path class="c15" d="M284.3 374l5.5 1.5-5.4 2.5-5.6-.8z"/>
<path class="c18" d="M278.7 372.5l5.6 1.5-5.5 3.2-5.5-.9z"/>
<path class="c20" d="M273.2 371l5.5 1.5-5.4 3.8-5.6-.8z"/>
<path class="c23" d="M267.6 369.7l5.6 1.3-5.5 4.5-5.5-.7z"/>
<path class="c25" d="M262.1 368.5l5.5 1.2-5.4 5.1-5.5-.6z"/>
<path class="c27" d="M256.6 367.6l5.5 .9-5.4 5.7-5.6-.5z"/>
<path class="c28" d="M251 367l5.6 .6-5.5 6.1-5.5-.3z"/>
<path class="c29" d="M245.5 366.7l5.5 .3-5.4 6.4-5.6 0z"/>
<path class="c29" d="M239.9 366.8l5.6-.1-5.5 6.7-5.5 .1z"/>
<path class="c17" d="M411.6 366.7l5.5-2.8-5.4 3.5-5.6 2z"/>
<path class="c13" d="M406.1 369.3l5.5-2.6-5.5 2.7-5.5 2z"/>
<path class="c10" d="M400.5 371.8l5.6-2.5-5.5 2.1-5.5 1.8z"/>
<path class="c7" d="M395 373.9l5.5-2.1-5.4 1.4-5.6 1.7z"/>
<path class="c5" d="M389.4 375.8l5.6-1.9-5.5 1-5.5 1.4z"/>
<path class="c3" d="M383.9 377.3l5.5-1.5-5.4 .5-5.6 1.2z"/>
<path class="c1" d="M378.4 378.5l5.5-1.2-5.5 .2-5.5 .9z"/>
<path class="c0" d="M372.8 379.5l5.6-1-5.5-.1-5.5 .7z"/>
<path class="c0" d="M367.3 380.1l5.5-.6-5.4-.4-5.6 .6z"/>
<path class="c0" d="M361.7 380.6l5.6-.5-5.5-.4-5.5 .4z"/>
<path class="c0" d="M356.2 380.9l5.5-.3-5.4-.5-5.6 .3z"/>
<path class="c0" d="M350.7 381.2l5.5-.3-5.5-.5-5.5 .3z"/>
<path class="c0" d="M345.1 381.4l5.6-.2-5.5-.5-5.5 .3z"/>
<path class="c21" d="M289.7 370.5l5.6 2.2-5.5 2.8-5.5-1.5z"/>
<path class="c25" d="M284.2 368.3l5.5 2.2-5.4 3.5-5.6-1.5z"/>
<path class="c28" d="M278.6 366.2l5.6 2.1-5.5 4.2-5.5-1.5z"/>
<path class="c32" d="M273.1 364.2l5.5 2-5.4 4.8-5.6-1.3z"/>
<path class="c35" d="M267.6 362.4l5.5 1.8-5.5 5.5-5.5-1.2z"/>
<path class="c38" d="M262 361l5.6 1.4-5.5 6.1-5.5-.9z"/>
<path class="c40" d="M256.5 360.1l5.5 .9-5.4 6.6-5.6-.6z"/>
<path class="c41" d="M250.9 359.6l5.6 .5-5.5 6.9-5.5-.3z"/>
<path class="c41" d="M245.4 359.6l5.5 0-5.4 7.1-5.6 .1z"/>
<path class="c21" d="M417 364.2l5.6-3.4-5.5 3.1-5.5 2.8z"/>
<path class="c17" d="M411.5 367.5l5.5-3.3-5.4 2.5-5.5 2.6z"/>
<path class="c13" d="M406 370.5l5.5-3-5.4 1.8-5.6 2.5z"/>
<path class="c9" d="M400.4 373.1l5.6-2.6-5.5 1.3-5.5 2.1z"/>
<path class="c6" d="M394.9 375.4l5.5-2.3-5.4 .8-5.6 1.9z"/>
<path class="c4" d="M389.3 377.3l5.6-1.9-5.5 .4-5.5 1.5z"/>
<path class="c2" d="M383.8 378.7l5.5-1.4-5.4 0-5.5 1.2z"/>
<path class="c1" d="M378.3 379.8l5.5-1.1-5.4-.2-5.6 1z"/>
<path class="c0" d="M372.7 380.5l5.6-.7-5.5-.3-5.5 .6z"/>
<path class="c0" d="M367.2 381l5.5-.5-5.4-.4-5.6 .5z"/>
<path class="c0" d="M361.6 381.4l5.6-.4-5.5-.4-5.5 .3z"/>
<path class="c0" d="M356.1 381.7l5.5-.3-5.4-.5-5.5 .3z"/>
<path class="c0" d="M350.6 381.9l5.5-.2-5.4-.5-5.6 .2z"/>
<path class="c31" d="M289.6 364.6l5.6 2.8-5.5 3.1-5.5-2.2z"/>
<path class="c36" d="M284.1 361.8l5.5 2.8-5.4 3.7-5.6-2.1z"/>
<path class="c40" d="M278.5 359.2l5.6 2.6-5.5 4.4-5.5-2z"/>
<path class="c44" d="M273 356.9l5.5 2.3-5.4 5-5.5-1.8z"/>
<path class="c48" d="M267.5 355.1l5.5 1.8-5.4 5.5-5.6-1.4z"/>
<path class="c50" d="M261.9 353.8l5.6 1.3-5.5 5.9-5.5-.9z"/>
<path class="c51" d="M256.4 353.1l5.5 .7-5.4 6.3-5.6-.5z"/>
<path class="c52" d="M250.8 353.1l5.6 0-5.5 6.5-5.5 0z"/>
<path class="c41" d="M439.1 350.9l5.6-3.6-5.5 3.5-5.5 3.2z"/>
<path class="c36" d="M433.6 354.8l5.5-3.9-5.4 3.1-5.6 3.4z"/>
<path class="c30" d="M428 358.7l5.6-3.9-5.5 2.6-5.5 3.4z"/>
<path class="c25" d="M422.5 362.6l5.5-3.9-5.4 2.1-5.6 3.4z"/>
<path class="c20" d="M417 366.3l5.5-3.7-5.5 1.6-5.5 3.3z"/>
<path class="c15" d="M411.4 369.7l5.6-3.4-5.5 1.2-5.5 3z"/>
<path class="c11" d="M405.9 372.7l5.5-3-5.4 .8-5.6 2.6z"/>
<path class="c7" d="M400.3 375.2l5.6-2.5-5.5 .4-5.5 2.3z"/>
<path class="c4" d="M394.8 377.3l5.5-2.1-5.4 .2-5.6 1.9z"/>
<path class="c2" d="M389.3 379l5.5-1.7-5.5 0-5.5 1.4z"/>
<path class="c1" d="M383.7 380.2l5.6-1.2-5.5-.3-5.5 1.1z"/>
<path class="c0" d="M378.2 381l5.5-.8-5.4-.4-5.6 .7z"/>
<path class="c0" d="M372.6 381.5l5.6-.5-5.5-.5-5.5 .5z"/>
<path class="c0" d="M367.1 381.9l5.5-.4-5.4-.5-5.6 .4z"/>
<path class="c0" d="M361.6 382.2l5.5-.3-5.5-.5-5.5 .3z"/>
<path class="c0" d="M356 382.4l5.6-.2-5.5-.5-5.5 .2z"/>
<path class="c0" d="M350.5 382.4l5.5 0-5.4-.5-5.6 .1z"/>
<path class="c51" d="M278.5 353l5.5 2.7-5.5 3.5-5.5-2.3z"/>
<path class="c55" d="M272.9 350.9l5.6 2.1-5.5 3.9-5.5-1.8z"/>
<path class="c58" d="M267.4 349.4l5.5 1.5-5.4 4.2-5.6-1.3z"/>
<path class="c59" d="M261.8 348.5l5.6 .9-5.5 4.4-5.5-.7z"/>
<path class="c60" d="M256.3 348.5l5.5 0-5.4 4.6-5.6 0z"/>
<path class="c63" d="M472.3 336l5.5-.7-5.4 1.9-5.6 .7z"/>
<path class="c61" d="M466.7 337.5l5.6-1.5-5.5 1.9-5.5 1.4z"/>
<path class="c58" d="M461.2 339.7l5.5-2.2-5.4 1.8-5.6 2.1z"/>
<path class="c54" d="M455.6 342.6l5.6-2.9-5.5 1.7-5.5 2.7z"/>
<path class="c49" d="M450.1 346l5.5-3.4-5.4 1.5-5.5 3.2z"/>
<path class="c44" d="M444.6 349.8l5.5-3.8-5.4 1.3-5.6 3.6z"/>
<path class="c38" d="M439 353.8l5.6-4-5.5 1.1-5.5 3.9z"/>
<path class="c32" d="M433.5 358l5.5-4.2-5.4 1-5.6 3.9z"/>
<path class="c26" d="M427.9 362l5.6-4-5.5 .7-5.5 3.9z"/>
<path class="c21" d="M422.4 366l5.5-4-5.4 .6-5.5 3.7z"/>
<path class="c16" d="M416.9 369.5l5.5-3.5-5.4 .3-5.6 3.4z"/>
<path class="c11" d="M411.3 372.7l5.6-3.2-5.5 .2-5.5 3z"/>
<path class="c7" d="M405.8 375.4l5.5-2.7-5.4 0-5.6 2.5z"/>
<path class="c5" d="M400.2 377.6l5.6-2.2-5.5-.2-5.5 2.1z"/>
<path class="c2" d="M394.7 379.3l5.5-1.7-5.4-.3-5.5 1.7z"/>
<path class="c1" d="M389.2 380.6l5.5-1.3-5.4-.3-5.6 1.2z"/>
<path class="c0" d="M383.6 381.4l5.6-.8-5.5-.4-5.5 .8z"/>
<path class="c0" d="M378.1 382l5.5-.6-5.4-.4-5.6 .5z"/>
<path class="c0" d="M372.5 382.4l5.6-.4-5.5-.5-5.5 .4z"/>
<path class="c0" d="M367 382.6l5.5-.2-5.4-.5-5.5 .3z"/>
<path class="c0" d="M361.5 382.9l5.5-.3-5.4-.4-5.6 .2z"/>
<path class="c0" d="M355.9 382.9l5.6 0-5.5-.5-5.5 0z"/>
<path class="c61" d="M272.8 347.6l5.6 1.6-5.5 1.7-5.5-1.5z"/>
<path class="c63" d="M267.3 346.7l5.5 .9-5.4 1.8-5.6-.9z"/>
<path class="c63" d="M261.7 346.6l5.6 .1-5.5 1.8-5.5 0z"/>
<path class="c62" d="M477.7 337.3l5.6-.7-5.5-1.3-5.5 .7z"/>
<path class="c60" d="M472.2 338.8l5.5-1.5-5.4-1.3-5.6 1.5z"/>
<path class="c57" d="M466.6 340.9l5.6-2.1-5.5-1.3-5.5 2.2z"/>
<path class="c53" d="M461.1 343.7l5.5-2.8-5.4-1.2-5.6 2.9z"/>
<path class="c48" d="M455.6 347.1l5.5-3.4-5.5-1.1-5.5 3.4z"/>
<path class="c43" d="M450 350.8l5.6-3.7-5.5-1.1-5.5 3.8z"/>
<path class="c37" d="M444.5 354.8l5.5-4-5.4-1-5.6 4z"/>
<path class="c32" d="M438.9 358.9l5.6-4.1-5.5-1-5.5 4.2z"/>
<path class="c26" d="M433.4 362.9l5.5-4-5.4-.9-5.6 4z"/>
<path class="c20" d="M427.9 366.7l5.5-3.8-5.5-.9-5.5 4z"/>
<path class="c15" d="M422.3 370.2l5.6-3.5-5.5-.7-5.5 3.5z"/>
<path class="c11" d="M416.8 373.4l5.5-3.2-5.4-.7-5.6 3.2z"/>
<path class="c7" d="M411.2 376l5.6-2.6-5.5-.7-5.5 2.7z"/>
<path class="c4" d="M405.7 378.2l5.5-2.2-5.4-.6-5.6 2.2z"/>
<path class="c2" d="M400.2 379.9l5.5-1.7-5.5-.6-5.5 1.7z"/>
<path class="c1" d="M394.6 381.1l5.6-1.2-5.5-.6-5.5 1.3z"/>
<path class="c0" d="M389.1 381.9l5.5-.8-5.4-.5-5.6 .8z"/>
<path class="c0" d="M383.5 382.5l5.6-.6-5.5-.5-5.5 .6z"/>
<path class="c0" d="M378 382.8l5.5-.3-5.4-.5-5.6 .4z"/>
<path class="c0" d="M372.5 383.1l5.5-.3-5.5-.4-5.5 .2z"/>
<path class="c0" d="M366.9 383.3l5.6-.2-5.5-.5-5.5 .3z"/>
<path class="c0" d="M361.4 383.4l5.5-.1-5.4-.4-5.6 0z"/>
<path class="c1" d="M355.8 383.1l5.6 .3-5.5-.5-5.5-.3z"/>
<path class="c60" d="M278.3 348.8l5.5 1.6-5.4-1.2-5.6-1.6z"/>
<path class="c62" d="M272.7 348l5.6 .8-5.5-1.2-5.5-.9z"/>
<path class="c62" d="M267.2 347.9l5.5 .1-5.4-1.3-5.6-.1z"/>
<path class="c56" d="M483.2 341.6l5.5-.7-5.4-4.3-5.6 .7z"/>
<path class="c54" d="M477.6 342.9l5.6-1.3-5.5-4.3-5.5 1.5z"/>
<path class="c52" d="M472.1 344.9l5.5-2-5.4-4.1-5.6 2.1z"/>
<path class="c48" d="M466.6 347.5l5.5-2.6-5.5-4-5.5 2.8z"/>
<path class="c44" d="M461 350.6l5.6-3.1-5.5-3.8-5.5 3.4z"/>
<path class="c39" d="M455.5 354l5.5-3.4-5.4-3.5-5.6 3.7z"/>
<path class="c34" d="M449.9 357.6l5.6-3.6-5.5-3.2-5.5 4z"/>
<path class="c29" d="M444.4 361.3l5.5-3.7-5.4-2.8-5.6 4.1z"/>
<path class="c23" d="M438.9 365l5.5-3.7-5.5-2.4-5.5 4z"/>
<path class="c18" d="M433.3 368.5l5.6-3.5-5.5-2.1-5.5 3.8z"/>
<path class="c14" d="M427.8 371.7l5.5-3.2-5.4-1.8-5.6 3.5z"/>
<path class="c10" d="M422.2 374.5l5.6-2.8-5.5-1.5-5.5 3.2z"/>
<path class="c7" d="M416.7 377l5.5-2.5-5.4-1.1-5.6 2.6z"/>
<path class="c4" d="M411.1 379l5.6-2-5.5-1-5.5 2.2z"/>
<path class="c2" d="M405.6 380.5l5.5-1.5-5.4-.8-5.5 1.7z"/>
<path class="c1" d="M400.1 381.7l5.5-1.2-5.4-.6-5.6 1.2z"/>
<path class="c0" d="M394.5 382.5l5.6-.8-5.5-.6-5.5 .8z"/>
<path class="c0" d="M389 383l5.5-.5-5.4-.6-5.6 .6z"/>
<path class="c0" d="M383.4 383.3l5.6-.3-5.5-.5-5.5 .3z"/>
<path class="c0" d="M377.9 383.6l5.5-.3-5.4-.5-5.5 .3z"/>
<path class="c0" d="M372.4 383.8l5.5-.2-5.4-.5-5.6 .2z"/>
<path class="c0" d="M366.8 383.9l5.6-.1-5.5-.5-5.5 .1z"/>
<path class="c1" d="M361.3 383.7l5.5 .2-5.4-.5-5.6-.3z"/>
<path class="c2" d="M355.7 383.1l5.6 .6-5.5-.6-5.5-.6z"/>
<path class="c39" d="M305.9 361.7l5.5 3.1-5.4-2.8-5.6-3.4z"/>
<path class="c44" d="M300.3 358.9l5.6 2.8-5.5-3.1-5.5-3.2z"/>
<path class="c48" d="M294.8 356.4l5.5 2.5-5.4-3.5-5.5-2.7z"/>
<path class="c52" d="M289.3 354.4l5.5 2-5.4-3.7-5.6-2.3z"/>
<path class="c54" d="M283.7 353l5.6 1.4-5.5-4-5.5-1.6z"/>
<path class="c56" d="M278.2 352.2l5.5 .8-5.4-4.2-5.6-.8z"/>
<path class="c56" d="M272.6 352.2l5.6 0-5.5-4.2-5.5-.1z"/>
<path class="c46" d="M488.6 348.2l5.6-.6-5.5-6.7-5.5 .7z"/>
<path class="c45" d="M483.1 349.4l5.5-1.2-5.4-6.6-5.6 1.3z"/>
<path class="c43" d="M477.5 351.1l5.6-1.7-5.5-6.5-5.5 2z"/>
<path class="c40" d="M472 353.3l5.5-2.2-5.4-6.2-5.5 2.6z"/>
<path class="c36" d="M466.5 355.9l5.5-2.6-5.4-5.8-5.6 3.1z"/>
<path class="c32" d="M460.9 358.7l5.6-2.8-5.5-5.3-5.5 3.4z"/>
<path class="c28" d="M455.4 361.8l5.5-3.1-5.4-4.7-5.6 3.6z"/>
<path class="c24" d="M449.8 364.9l5.6-3.1-5.5-4.2-5.5 3.7z"/>
<path class="c19" d="M444.3 368l5.5-3.1-5.4-3.6-5.5 3.7z"/>
<path class="c15" d="M438.8 371l5.5-3-5.4-3-5.6 3.5z"/>
<path class="c11" d="M433.2 373.7l5.6-2.7-5.5-2.5-5.5 3.2z"/>
<path class="c8" d="M427.7 376.2l5.5-2.5-5.4-2-5.6 2.8z"/>
<path class="c5" d="M422.1 378.2l5.6-2-5.5-1.7-5.5 2.5z"/>
<path class="c3" d="M416.6 379.9l5.5-1.7-5.4-1.2-5.6 2z"/>
<path class="c2" d="M411.1 381.3l5.5-1.4-5.5-.9-5.5 1.5z"/>
<path class="c1" d="M405.5 382.3l5.6-1-5.5-.8-5.5 1.2z"/>
<path class="c0" d="M400 383l5.5-.7-5.4-.6-5.6 .8z"/>
<path class="c0" d="M394.4 383.5l5.6-.5-5.5-.5-5.5 .5z"/>
<path class="c0" d="M388.9 383.8l5.5-.3-5.4-.5-5.6 .3z"/>
<path class="c0" d="M383.4 384.1l5.5-.3-5.5-.5-5.5 .3z"/>
<path class="c0" d="M377.8 384.3l5.6-.2-5.5-.5-5.5 .2z"/>
<path class="c0" d="M372.3 384.4l5.5-.1-5.4-.5-5.6 .1z"/>
<path class="c1" d="M366.7 384.3l5.6 .1-5.5-.5-5.5-.2z"/>
<path class="c2" d="M361.2 383.9l5.5 .4-5.4-.6-5.6-.6z"/>
<path class="c3" d="M355.7 383.1l5.5 .8-5.5-.8-5.5-1z"/>
<path class="c15" d="M333.5 376.5l5.5 2.1-5.4-2-5.6-2.7z"/>
<path class="c19" d="M328 374.1l5.5 2.4-5.5-2.6-5.5-2.9z"/>
<path class="c24" d="M322.4 371.6l5.6 2.5-5.5-3.1-5.5-3.1z"/>
<path class="c28" d="M316.9 369l5.5 2.6-5.4-3.7-5.6-3.1z"/>
<path class="c32" d="M311.3 366.5l5.6 2.5-5.5-4.2-5.5-3.1z"/>
<path class="c36" d="M305.8 364.2l5.5 2.3-5.4-4.8-5.6-2.8z"/>
<path class="c40" d="M300.3 362.2l5.5 2-5.5-5.3-5.5-2.5z"/>
<path class="c43" d="M294.7 360.6l5.6 1.6-5.5-5.8-5.5-2z"/>
<path class="c45" d="M289.2 359.5l5.5 1.1-5.4-6.2-5.6-1.4z"/>
<path class="c46" d="M283.6 358.9l5.6 .6-5.5-6.5-5.5-.8z"/>
<path class="c47" d="M278.1 358.9l5.5 0-5.4-6.7-5.6 0z"/>
<path class="c35" d="M494.1 356.1l5.5-.5-5.4-8-5.6 .6z"/>
<path class="c34" d="M488.5 357.1l5.6-1-5.5-7.9-5.5 1.2z"/>
<path class="c32" d="M483 358.4l5.5-1.3-5.4-7.7-5.6 1.7z"/>
<path class="c30" d="M477.5 360.2l5.5-1.8-5.5-7.3-5.5 2.2z"/>
<path class="c27" d="M471.9 362.2l5.6-2-5.5-6.9-5.5 2.6z"/>
<path class="c24" d="M466.4 364.4l5.5-2.2-5.4-6.3-5.6 2.8z"/>
<path class="c21" d="M460.8 366.8l5.6-2.4-5.5-5.7-5.5 3.1z"/>
<path class="c18" d="M455.3 369.3l5.5-2.5-5.4-5-5.6 3.1z"/>
<path class="c14" d="M449.8 371.7l5.5-2.4-5.5-4.4-5.5 3.1z"/>
<path class="c11" d="M444.2 374l5.6-2.3-5.5-3.7-5.5 3z"/>
<path class="c9" d="M438.7 376.1l5.5-2.1-5.4-3-5.6 2.7z"/>
<path class="c6" d="M433.1 378l5.6-1.9-5.5-2.4-5.5 2.5z"/>
<path class="c4" d="M427.6 379.7l5.5-1.7-5.4-1.8-5.6 2z"/>
<path class="c2" d="M422.1 381l5.5-1.3-5.5-1.5-5.5 1.7z"/>
<path class="c1" d="M416.5 382.1l5.6-1.1-5.5-1.1-5.5 1.4z"/>
<path class="c0" d="M411 382.9l5.5-.8-5.4-.8-5.6 1z"/>
<path class="c0" d="M405.4 383.5l5.6-.6-5.5-.6-5.5 .7z"/>
<path class="c0" d="M399.9 384l5.5-.5-5.4-.5-5.6 .5z"/>
<path class="c0" d="M394.4 384.3l5.5-.3-5.5-.5-5.5 .3z"/>
<path class="c0" d="M388.8 384.6l5.6-.3-5.5-.5-5.5 .3z"/>
<path class="c0" d="M383.3 384.8l5.5-.2-5.4-.5-5.6 .2z"/>
<path class="c0" d="M377.7 385l5.6-.2-5.5-.5-5.5 .1z"/>
<path class="c0" d="M372.2 384.9l5.5 .1-5.4-.6-5.6-.1z"/>
<path class="c1" d="M366.7 384.7l5.5 .2-5.5-.6-5.5-.4z"/>
<path class="c2" d="M361.1 384.2l5.6 .5-5.5-.8-5.5-.8z"/>
<path class="c4" d="M355.6 383.4l5.5 .8-5.4-1.1-5.6-1.1z"/>
<path class="c6" d="M350 382.3l5.6 1.1-5.5-1.4-5.5-1.5z"/>
<path class="c9" d="M344.5 381l5.5 1.3-5.4-1.8-5.6-1.9z"/>
<path class="c11" d="M339 379.5l5.5 1.5-5.5-2.4-5.5-2.1z"/>
<path class="c14" d="M333.4 377.7l5.6 1.8-5.5-3-5.5-2.4z"/>
<path class="c18" d="M327.9 375.9l5.5 1.8-5.4-3.6-5.6-2.5z"/>
<path class="c21" d="M322.3 374l5.6 1.9-5.5-4.3-5.5-2.6z"/>
<path class="c24" d="M316.8 372.2l5.5 1.8-5.4-5-5.6-2.5z"/>
<path class="c27" d="M311.3 370.5l5.5 1.7-5.5-5.7-5.5-2.3z"/>
<path class="c30" d="M305.7 369.1l5.6 1.4-5.5-6.3-5.5-2z"/>
<path class="c32" d="M300.2 367.9l5.5 1.2-5.4-6.9-5.6-1.6z"/>
<path class="c34" d="M294.6 367.1l5.6 .8-5.5-7.3-5.5-1.1z"/>
<path class="c35" d="M289.1 366.8l5.5 .3-5.4-7.6-5.6-.6z"/>
<path class="c35" d="M283.6 366.8l5.5 0-5.5-7.9-5.5 0z"/>
<path class="c23" d="M499.5 364.1l5.6-.4-5.5-8.1-5.5 .5z"/>
<path class="c23" d="M494 364.9l5.5-.8-5.4-8-5.6 1z"/>
<path class="c22" d="M488.4 365.9l5.6-1-5.5-7.8-5.5 1.3z"/>
<path class="c20" d="M482.9 367.1l5.5-1.2-5.4-7.5-5.5 1.8z"/>
<path class="c18" d="M477.4 368.6l5.5-1.5-5.4-6.9-5.6 2z"/>
<path class="c16" d="M471.8 370.2l5.6-1.6-5.5-6.4-5.5 2.2z"/>
<path class="c14" d="M466.3 371.9l5.5-1.7-5.4-5.8-5.6 2.4z"/>
<path class="c12" d="M460.7 373.6l5.6-1.7-5.5-5.1-5.5 2.5z"/>
<path class="c10" d="M455.2 375.3l5.5-1.7-5.4-4.3-5.5 2.4z"/>
<path class="c7" d="M449.7 377l5.5-1.7-5.4-3.6-5.6 2.3z"/>
<path class="c6" d="M444.1 378.5l5.6-1.5-5.5-3-5.5 2.1z"/>
<path class="c4" d="M438.6 379.9l5.5-1.4-5.4-2.4-5.6 1.9z"/>
<path class="c3" d="M433 381.1l5.6-1.2-5.5-1.9-5.5 1.7z"/>
<path class="c1" d="M427.5 382.1l5.5-1-5.4-1.4-5.5 1.3z"/>
<path class="c1" d="M422 382.9l5.5-.8-5.4-1.1-5.6 1.1z"/>
<path class="c0" d="M416.4 383.6l5.6-.7-5.5-.8-5.5 .8z"/>
<path class="c0" d="M410.9 384.1l5.5-.5-5.4-.7-5.6 .6z"/>
<path class="c0" d="M405.3 384.5l5.6-.4-5.5-.6-5.5 .5z"/>
<path class="c0" d="M399.8 384.8l5.5-.3-5.4-.5-5.5 .3z"/>
<path class="c0" d="M394.3 385.1l5.5-.3-5.4-.5-5.6 .3z"/>
<path class="c0" d="M388.7 385.3l5.6-.2-5.5-.5-5.5 .2z"/>
<path class="c0" d="M383.2 385.5l5.5-.2-5.4-.5-5.6 .2z"/>
<path class="c0" d="M377.6 385.6l5.6-.1-5.5-.5-5.5-.1z"/>
<path class="c1" d="M372.1 385.5l5.5 .1-5.4-.7-5.5-.2z"/>
<path class="c1" d="M366.6 385.3l5.5 .2-5.4-.8-5.6-.5z"/>
<path class="c3" d="M361 384.8l5.6 .5-5.5-1.1-5.5-.8z"/>
<path class="c4" d="M355.5 384.2l5.5 .6-5.4-1.4-5.6-1.1z"/>
<path class="c6" d="M349.9 383.4l5.6 .8-5.5-1.9-5.5-1.3z"/>
<path class="c8" d="M344.4 382.5l5.5 .9-5.4-2.4-5.5-1.5z"/>
<path class="c10" d="M338.9 381.4l5.5 1.1-5.4-3-5.6-1.8z"/>
<path class="c12" d="M333.3 380.2l5.6 1.2-5.5-3.7-5.5-1.8z"/>
<path class="c14" d="M327.8 379.1l5.5 1.1-5.4-4.3-5.6-1.9z"/>
<path class="c16" d="M322.2 378l5.6 1.1-5.5-5.1-5.5-1.8z"/>
<path class="c18" d="M316.7 376.9l5.5 1.1-5.4-5.8-5.5-1.7z"/>
<path class="c20" d="M311.2 376.1l5.5 .8-5.4-6.4-5.6-1.4z"/>
<path class="c22" d="M305.6 375.4l5.6 .7-5.5-7-5.5-1.2z"/>
<path class="c23" d="M300.1 374.9l5.5 .5-5.4-7.5-5.6-.8z"/>
<path class="c23" d="M294.5 374.8l5.6 .1-5.5-7.8-5.5-.3z"/>
<path class="c24" d="M289 374.9l5.5-.1-5.4-8-5.5 0z"/>
<path class="c13" d="M505 371.1l5.5-.3-5.4-7.1-5.6 .4z"/>
<path class="c13" d="M499.4 371.7l5.6-.6-5.5-7-5.5 .8z"/>
<path class="c12" d="M493.9 372.4l5.5-.7-5.4-6.8-5.6 1z"/>
<path class="c11" d="M488.4 373.2l5.5-.8-5.5-6.5-5.5 1.2z"/>
<path class="c10" d="M482.8 374.2l5.6-1-5.5-6.1-5.5 1.5z"/>
<path class="c9" d="M477.3 375.2l5.5-1-5.4-5.6-5.6 1.6z"/>
<path class="c8" d="M471.7 376.4l5.6-1.2-5.5-5-5.5 1.7z"/>
<path class="c7" d="M466.2 377.5l5.5-1.1-5.4-4.5-5.6 1.7z"/>
<path class="c5" d="M460.7 378.6l5.5-1.1-5.5-3.9-5.5 1.7z"/>
<path class="c4" d="M455.1 379.7l5.6-1.1-5.5-3.3-5.5 1.7z"/>
<path class="c3" d="M449.6 380.7l5.5-1-5.4-2.7-5.6 1.5z"/>
<path class="c2" d="M444 381.6l5.6-.9-5.5-2.2-5.5 1.4z"/>
<path class="c1" d="M438.5 382.4l5.5-.8-5.4-1.7-5.6 1.2z"/>
<path class="c1" d="M433 383.1l5.5-.7-5.5-1.3-5.5 1z"/>
<path class="c0" d="M427.4 383.7l5.6-.6-5.5-1-5.5 .8z"/>
<path class="c0" d="M421.9 384.2l5.5-.5-5.4-.8-5.6 .7z"/>
<path class="c0" d="M416.3 384.6l5.6-.4-5.5-.6-5.5 .5z"/>
<path class="c0" d="M410.8 385l5.5-.4-5.4-.5-5.6 .4z"/>
<path class="c0" d="M405.3 385.3l5.5-.3-5.5-.5-5.5 .3z"/>
<path class="c0" d="M399.7 385.5l5.6-.2-5.5-.5-5.5 .3z"/>
<path class="c0" d="M394.2 385.8l5.5-.3-5.4-.4-5.6 .2z"/>
<path class="c0" d="M388.6 386.1l5.6-.3-5.5-.5-5.5 .2z"/>
<path class="c0" d="M383.1 386.2l5.5-.1-5.4-.6-5.6 .1z"/>
<path class="c0" d="M377.6 386.3l5.5-.1-5.5-.6-5.5-.1z"/>
<path class="c1" d="M372 386.3l5.6 0-5.5-.8-5.5-.2z"/>
<path class="c1" d="M366.5 386.1l5.5 .2-5.4-1-5.6-.5z"/>
<path class="c2" d="M360.9 385.9l5.6 .2-5.5-1.3-5.5-.6z"/>
<path class="c3" d="M355.4 385.6l5.5 .3-5.4-1.7-5.6-.8z"/>
<path class="c4" d="M349.9 385.1l5.5 .5-5.5-2.2-5.5-.9z"/>
<path class="c5" d="M344.3 384.6l5.6 .5-5.5-2.6-5.5-1.1z"/>
<path class="c7" d="M338.8 384.1l5.5 .5-5.4-3.2-5.6-1.2z"/>
<path class="c8" d="M333.2 383.6l5.6 .5-5.5-3.9-5.5-1.1z"/>
<path class="c9" d="M327.7 383l5.5 .6-5.4-4.5-5.6-1.1z"/>
<path class="c10" d="M322.2 382.6l5.5 .4-5.5-5-5.5-1.1z"/>
<path class="c11" d="M316.6 382.2l5.6 .4-5.5-5.7-5.5-.8z"/>
<path class="c12" d="M311.1 381.9l5.5 .3-5.4-6.1-5.6-.7z"/>
<path class="c13" d="M305.5 381.8l5.6 .1-5.5-6.5-5.5-.5z"/>
<path class="c13" d="M300 381.8l5.5 0-5.4-6.9-5.6-.1z"/>
<path class="c13" d="M294.5 382l5.5-.2-5.5-7-5.5 .1z"/>
<path class="c6" d="M510.4 376.4l5.6-.3-5.5-5.3-5.5 .3z"/>
<path class="c6" d="M504.9 376.8l5.5-.4-5.4-5.3-5.6 .6z"/>
<path class="c5" d="M499.3 377.3l5.6-.5-5.5-5.1-5.5 .7z"/>
<path class="c5" d="M493.8 377.9l5.5-.6-5.4-4.9-5.5 .8z"/>
<path class="c5" d="M488.3 378.5l5.5-.6-5.4-4.7-5.6 1z"/>
<path class="c4" d="M482.7 379.1l5.6-.6-5.5-4.3-5.5 1z"/>
<path class="c3" d="M477.2 379.8l5.5-.7-5.4-3.9-5.6 1.2z"/>
<path class="c3" d="M471.6 380.4l5.6-.6-5.5-3.4-5.5 1.1z"/>
<path class="c2" d="M466.1 381.1l5.5-.7-5.4-2.9-5.5 1.1z"/>
<path class="c2" d="M460.6 381.8l5.5-.7-5.4-2.5-5.6 1.1z"/>
<path class="c1" d="M455 382.4l5.6-.6-5.5-2.1-5.5 1z"/>
<path class="c1" d="M449.5 383l5.5-.6-5.4-1.7-5.6 .9z"/>
<path class="c0" d="M443.9 383.5l5.6-.5-5.5-1.4-5.5 .8z"/>
<path class="c0" d="M438.4 384l5.5-.5-5.4-1.1-5.5 .7z"/>
<path class="c0" d="M432.9 384.4l5.5-.4-5.4-.9-5.6 .6z"/>
<path class="c0" d="M427.3 384.8l5.6-.4-5.5-.7-5.5 .5z"/>
<path class="c0" d="M421.8 385.1l5.5-.3-5.4-.6-5.6 .4z"/>
<path class="c0" d="M416.2 385.5l5.6-.4-5.5-.5-5.5 .4z"/>
<path class="c0" d="M410.7 385.7l5.5-.2-5.4-.5-5.5 .3z"/>
<path class="c0" d="M405.2 386l5.5-.3-5.4-.4-5.6 .2z"/>
<path class="c0" d="M399.6 386.3l5.6-.3-5.5-.5-5.5 .3z"/>
<path class="c0" d="M394.1 386.6l5.5-.3-5.4-.5-5.6 .3z"/>
<path class="c0" d="M388.5 386.8l5.6-.2-5.5-.5-5.5 .1z"/>
<path class="c0" d="M383 387l5.5-.2-5.4-.6-5.5 .1z"/>
<path class="c0" d="M377.5 387.1l5.5-.1-5.4-.7-5.6 0z"/>
<path class="c0" d="M371.9 387.2l5.6-.1-5.5-.8-5.5-.2z"/>
<path class="c1" d="M366.4 387.3l5.5-.1-5.4-1.1-5.6-.2z"/>
<path class="c1" d="M360.8 387.3l5.6 0-5.5-1.4-5.5-.3z"/>
<path class="c2" d="M355.3 387.2l5.5 .1-5.4-1.7-5.5-.5z"/>
<path class="c2" d="M349.8 387.2l5.5 0-5.4-2.1-5.6-.5z"/>
<path class="c3" d="M344.2 387.1l5.6 .1-5.5-2.6-5.5-.5z"/>
<path class="c3" d="M338.7 387l5.5 .1-5.4-3-5.6-.5z"/>
<path class="c4" d="M333.1 386.9l5.6 .1-5.5-3.4-5.5-.6z"/>
<path class="c5" d="M327.6 386.8l5.5 .1-5.4-3.9-5.5-.4z"/>
<path class="c5" d="M322.1 386.8l5.5 0-5.4-4.2-5.6-.4z"/>
<path class="c5" d="M316.5 386.8l5.6 0-5.5-4.6-5.5-.3z"/>
<path class="c6" d="M311 386.9l5.5-.1-5.4-4.9-5.6-.1z"/>
<path class="c6" d="M305.4 387.1l5.6-.2-5.5-5.1-5.5 0z"/>
<path class="c6" d="M299.9 387.3l5.5-.2-5.4-5.3-5.5 .2z"/>
<path class="c2" d="M515.9 379.7l5.5-.3-5.4-3.3-5.6 .3z"/>
<path class="c1" d="M510.3 380.1l5.6-.4-5.5-3.3-5.5 .4z"/>
<path class="c1" d="M504.8 380.4l5.5-.3-5.4-3.3-5.6 .5z"/>
<path class="c1" d="M499.3 380.8l5.5-.4-5.5-3.1-5.5 .6z"/>
<path class="c1" d="M493.7 381.2l5.6-.4-5.5-2.9-5.5 .6z"/>
<path class="c1" d="M488.2 381.6l5.5-.4-5.4-2.7-5.6 .6z"/>
<path class="c1" d="M482.6 382l5.6-.4-5.5-2.5-5.5 .7z"/>
<path class="c1" d="M477.1 382.4l5.5-.4-5.4-2.2-5.6 .6z"/>
<path class="c0" d="M471.6 382.8l5.5-.4-5.5-2-5.5 .7z"/>
<path class="c0" d="M466 383.2l5.6-.4-5.5-1.7-5.5 .7z"/>
<path class="c0" d="M460.5 383.6l5.5-.4-5.4-1.4-5.6 .6z"/>
<path class="c0" d="M454.9 384l5.6-.4-5.5-1.2-5.5 .6z"/>
<path class="c0" d="M449.4 384.3l5.5-.3-5.4-1-5.6 .5z"/>
<path class="c0" d="M443.9 384.7l5.5-.4-5.5-.8-5.5 .5z"/>
<path class="c0" d="M438.3 385l5.6-.3-5.5-.7-5.5 .4z"/>
<path class="c0" d="M432.8 385.3l5.5-.3-5.4-.6-5.6 .4z"/>
<path class="c0" d="M427.2 385.6l5.6-.3-5.5-.5-5.5 .3z"/>
<path class="c0" d="M421.7 385.9l5.5-.3-5.4-.5-5.6 .4z"/>
<path class="c0" d="M416.2 386.2l5.5-.3-5.5-.4-5.5 .2z"/>
<path class="c0" d="M410.6 386.5l5.6-.3-5.5-.5-5.5 .3z"/>
<path class="c0" d="M405.1 386.8l5.5-.3-5.4-.5-5.6 .3z"/>
<path class="c0" d="M399.5 387.1l5.6-.3-5.5-.5-5.5 .3z"/>
<path class="c0" d="M394 387.4l5.5-.3-5.4-.5-5.6 .2z"/>
<path class="c0" d="M388.5 387.6l5.5-.2-5.5-.6-5.5 .2z"/>
<path class="c0" d="M382.9 387.9l5.6-.3-5.5-.6-5.5 .1z"/>
<path class="c0" d="M377.4 388.1l5.5-.2-5.4-.8-5.6 .1z"/>
<path class="c0" d="M371.8 388.3l5.6-.2-5.5-.9-5.5 .1z"/>
<path class="c0" d="M366.3 388.5l5.5-.2-5.4-1-5.6 0z"/>
<path class="c0" d="M360.8 388.7l5.5-.2-5.5-1.2-5.5-.1z"/>
<path class="c0" d="M355.2 388.8l5.6-.1-5.5-1.5-5.5 0z"/>
<path class="c1" d="M349.7 389l5.5-.2-5.4-1.6-5.6-.1z"/>
<path class="c1" d="M344.1 389.2l5.6-.2-5.5-1.9-5.5-.1z"/>
<path class="c1" d="M338.6 389.3l5.5-.1-5.4-2.2-5.6-.1z"/>
<path class="c1" d="M333.1 389.5l5.5-.2-5.5-2.4-5.5-.1z"/>
<path class="c1" d="M327.5 389.7l5.6-.2-5.5-2.7-5.5 0z"/>
<path class="c1" d="M322 389.9l5.5-.2-5.4-2.9-5.6 0z"/>
<path class="c1" d="M316.4 390.1l5.6-.2-5.5-3.1-5.5 .1z"/>
<path class="c2" d="M310.9 390.4l5.5-.3-5.4-3.2-5.6 .2z"/>
<path class="c2" d="M305.4 390.7l5.5-.3-5.5-3.3-5.5 .2z"/>
<path class="c0" d="M521.3 381.4l5.6-.3-5.5-1.7-5.5 .3z"/>
<path class="c0" d="M515.8 381.7l5.5-.3-5.4-1.7-5.6 .4z"/>
<path class="c0" d="M510.2 382l5.6-.3-5.5-1.6-5.5 .3z"/>
<path class="c0" d="M504.7 382.2l5.5-.2-5.4-1.6-5.5 .4z"/>
<path class="c0" d="M499.2 382.5l5.5-.3-5.4-1.4-5.6 .4z"/>
<path class="c0" d="M493.6 382.9l5.6-.4-5.5-1.3-5.5 .4z"/>
<path class="c0" d="M488.1 383.2l5.5-.3-5.4-1.3-5.6 .4z"/>
<path class="c0" d="M482.5 383.5l5.6-.3-5.5-1.2-5.5 .4z"/>
<path class="c0" d="M477 383.8l5.5-.3-5.4-1.1-5.5 .4z"/>
<path class="c0" d="M471.5 384.1l5.5-.3-5.4-1-5.6 .4z"/>
<path class="c0" d="M465.9 384.4l5.6-.3-5.5-.9-5.5 .4z"/>
<path class="c0" d="M460.4 384.7l5.5-.3-5.4-.8-5.6 .4z"/>
<path class="c0" d="M454.8 385l5.6-.3-5.5-.7-5.5 .3z"/>
<path class="c0" d="M449.3 385.3l5.5-.3-5.4-.7-5.5 .4z"/>
<path class="c0" d="M443.8 385.6l5.5-.3-5.4-.6-5.6 .3z"/>
<path class="c0" d="M438.2 385.8l5.6-.2-5.5-.6-5.5 .3z"/>
<path class="c0" d="M432.7 386.1l5.5-.3-5.4-.5-5.6 .3z"/>
<path class="c0" d="M427.1 386.4l5.6-.3-5.5-.5-5.5 .3z"/>
<path class="c0" d="M421.6 386.7l5.5-.3-5.4-.5-5.5 .3z"/>
<path class="c0" d="M416.1 387l5.5-.3-5.4-.5-5.6 .3z"/>
<path class="c0" d="M410.5 387.3l5.6-.3-5.5-.5-5.5 .3z"/>
<path class="c0" d="M405 387.6l5.5-.3-5.4-.5-5.6 .3z"/>
<path class="c0" d="M399.4 387.9l5.6-.3-5.5-.5-5.5 .3z"/>
<path class="c0" d="M393.9 388.1l5.5-.2-5.4-.5-5.5 .2z"/>
<path class="c0" d="M388.4 388.4l5.5-.3-5.4-.5-5.6 .3z"/>
<path class="c0" d="M382.8 388.7l5.6-.3-5.5-.5-5.5 .2z"/>
<path class="c0" d="M377.3 389l5.5-.3-5.4-.6-5.6 .2z"/>
<path class="c0" d="M371.7 389.3l5.6-.3-5.5-.7-5.5 .2z"/>
<path class="c0" d="M366.2 389.5l5.5-.2-5.4-.8-5.5 .2z"/>
<path class="c0" d="M360.7 389.8l5.5-.3-5.4-.8-5.6 .1z"/>
<path class="c0" d="M355.1 390.1l5.6-.3-5.5-1-5.5 .2z"/>
<path class="c0" d="M349.6 390.4l5.5-.3-5.4-1.1-5.6 .2z"/>
<path class="c0" d="M344 390.6l5.6-.2-5.5-1.2-5.5 .1z"/>
<path class="c0" d="M338.5 390.9l5.5-.3-5.4-1.3-5.5 .2z"/>
<path class="c0" d="M333 391.2l5.5-.3-5.4-1.4-5.6 .2z"/>
<path class="c0" d="M327.4 391.5l5.6-.3-5.5-1.5-5.5 .2z"/>
<path class="c0" d="M321.9 391.7l5.5-.2-5.4-1.6-5.6 .2z"/>
<path class="c0" d="M316.3 392l5.6-.3-5.5-1.6-5.5 .3z"/>
<path class="c0" d="M310.8 392.3l5.5-.3-5.4-1.6-5.5 .3z"/>
<path class="c0" d="M526.8 382l5.5-.3-5.4-.6-5.6 .3z"/>
<path class="c0" d="M521.2 382.3l5.6-.3-5.5-.6-5.5 .3z"/>
<path class="c0" d="M515.7 382.6l5.5-.3-5.4-.6-5.6 .3z"/>
<path class="c0" d="M510.2 382.9l5.5-.3-5.5-.6-5.5 .2z"/>
<path class="c0" d="M504.6 383.2l5.6-.3-5.5-.7-5.5 .3z"/>
<path class="c0" d="M499.1 383.5l5.5-.3-5.4-.7-5.6 .4z"/>
<path class="c0" d="M493.5 383.7l5.6-.2-5.5-.6-5.5 .3z"/>
<path class="c0" d="M488 384l5.5-.3-5.4-.5-5.6 .3z"/>
<path class="c0" d="M482.5 384.3l5.5-.3-5.5-.5-5.5 .3z"/>
<path class="c0" d="M476.9 384.6l5.6-.3-5.5-.5-5.5 .3z"/>
<path class="c0" d="M471.4 384.9l5.5-.3-5.4-.5-5.6 .3z"/>
<path class="c0" d="M465.8 385.2l5.6-.3-5.5-.5-5.5 .3z"/>
<path class="c0" d="M460.3 385.5l5.5-.3-5.4-.5-5.6 .3z"/>
<path class="c0" d="M454.8 385.8l5.5-.3-5.5-.5-5.5 .3z"/>
<path class="c0" d="M449.2 386l5.6-.2-5.5-.5-5.5 .3z"/>
<path class="c0" d="M443.7 386.3l5.5-.3-5.4-.4-5.6 .2z"/>
<path class="c0" d="M438.1 386.6l5.6-.3-5.5-.5-5.5 .3z"/>
<path class="c0" d="M432.6 386.9l5.5-.3-5.4-.5-5.6 .3z"/>
<path class="c0" d="M427.1 387.2l5.5-.3-5.5-.5-5.5 .3z"/>
<path class="c0" d="M421.5 387.5l5.6-.3-5.5-.5-5.5 .3z"/>
<path class="c0" d="M416 387.8l5.5-.3-5.4-.5-5.6 .3z"/>
<path class="c0" d="M410.4 388.1l5.6-.3-5.5-.5-5.5 .3z"/>
<path class="c0" d="M404.9 388.4l5.5-.3-5.4-.5-5.6 .3z"/>
<path class="c0" d="M399.4 388.6l5.5-.2-5.5-.5-5.5 .2z"/>
<path class="c0" d="M393.8 388.9l5.6-.3-5.5-.5-5.5 .3z"/>
<path class="c0" d="M388.3 389.2l5.5-.3-5.4-.5-5.6 .3z"/>
<path class="c0" d="M382.7 389.5l5.6-.3-5.5-.5-5.5 .3z"/>
<path class="c0" d="M377.2 389.8l5.5-.3-5.4-.5-5.6 .3z"/>
<path class="c0" d="M371.7 390.1l5.5-.3-5.5-.5-5.5 .2z"/>
<path class="c0" d="M366.1 390.4l5.6-.3-5.5-.6-5.5 .3z"/>
<path class="c0" d="M360.6 390.7l5.5-.3-5.4-.6-5.6 .3z"/>
<path class="c0" d="M355 390.9l5.6-.2-5.5-.6-5.5 .3z"/>
<path class="c0" d="M349.5 391.2l5.5-.3-5.4-.5-5.6 .2z"/>
<path class="c0" d="M344 391.5l5.5-.3-5.5-.6-5.5 .3z"/>
<path class="c0" d="M338.4 391.8l5.6-.3-5.5-.6-5.5 .3z"/>
<path class="c0" d="M332.9 392.1l5.5-.3-5.4-.6-5.6 .3z"/>
<path class="c0" d="M327.3 392.4l5.6-.3-5.5-.6-5.5 .2z"/>
<path class="c0" d="M321.8 392.7l5.5-.3-5.4-.7-5.6 .3z"/>
<path class="c0" d="M316.3 393l5.5-.3-5.5-.7-5.5 .3z"/>
</g>
<g filter="url(#t)">
<line class="a" x1="277.0" y1="395.0" x2="552.1" y2="380.7"/>
<line class="a" x1="277.0" y1="395.0" x2="64.4" y2="376.1"/>
<line class="a" x1="64.4" y1="376.1" x2="64.4" y2="334.1"/>
<line class="a" x1="277.0" y1="395.0" x2="283.5" y2="395.6"/>
<text class="t" x="287.4" y="410.1">0.5</text>
<line class="a" x1="345.8" y1="391.4" x2="352.2" y2="392.0"/>
<text class="t" x="356.2" y="406.5">1</text>
<line class="a" x1="414.6" y1="387.9" x2="421.0" y2="388.4"/>
<text class="t" x="424.9" y="403.0">1.5</text>
<line class="a" x1="483.3" y1="384.3" x2="489.8" y2="384.9"/>
<text class="t" x="493.7" y="399.4">2</text>
<line class="a" x1="552.1" y1="380.7" x2="558.6" y2="381.3"/>
<text class="t" x="562.5" y="395.8">2.5</text>
<line class="a" x1="277.0" y1="395.0" x2="270.5" y2="395.3"/>
<text class="t" text-anchor="end" x="265.5" y="410.4">0</text>
<line class="a" x1="209.3" y1="389.0" x2="202.8" y2="389.3"/>
<text class="t" text-anchor="end" x="197.8" y="404.4">1</text>
<line class="a" x1="141.7" y1="383.0" x2="135.2" y2="383.3"/>
<text class="t" text-anchor="end" x="130.2" y="398.4">2</text>
<line class="a" x1="74.0" y1="377.0" x2="67.5" y2="377.3"/>
<text class="t" text-anchor="end" x="62.5" y="392.4">3</text>
<line class="a" x1="64.4" y1="376.1" x2="57.4" y2="376.1"/>
<text class="t" text-anchor="end" x="54.1" y="380.7">0</text>
<line class="a" x1="64.4" y1="362.1" x2="57.4" y2="362.1"/>
<text class="t" text-anchor="end" x="54.1" y="366.7">0.2</text>
<line class="a" x1="64.4" y1="348.1" x2="57.4" y2="348.1"/>
<text class="t" text-anchor="end" x="54.1" y="352.7">0.4</text>
<line class="a" x1="64.4" y1="334.1" x2="57.4" y2="334.1"/>
<text class="t" text-anchor="end" x="54.1" y="338.7">0.6</text>
<text class="h" text-anchor="middle" x="308.5" y="308.1">Malignant Cells (u<tspan font-size="10.6px" dy="6.3" dx="0.6">2</tspan><tspan dy="-6.3">)</tspan></text>
<text class="l" text-anchor="middle" x="388.5" y="429.6">x</text>
<text class="l" text-anchor="middle" x="189" y="429.6">y</text>
<text class="l" text-anchor="middle" transform="translate(23.8 355.6) rotate(-90)" style="font-size:14.3px">u<tspan font-size="10.8px" dy="5.5" dx="0.5">2</tspan></text>
</g>
</svg>
</body></html>
